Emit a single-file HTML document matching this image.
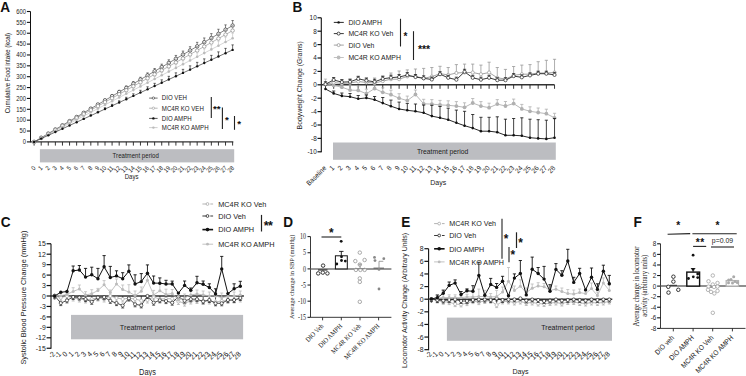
<!DOCTYPE html>
<html><head><meta charset="utf-8"><title>Figure</title>
<style>
html,body{margin:0;padding:0;background:#fff;}
body{width:746px;height:376px;overflow:hidden;font-family:"Liberation Sans", sans-serif;}
svg{display:block;}
</style></head><body>
<svg width="746" height="376" viewBox="0 0 746 376">
<rect x="0" y="0" width="746" height="376" fill="#fff"/>
<text transform="translate(0.3 11.7) scale(0.9259 1)" font-size="14.69" text-anchor="start" font-family="'Liberation Sans', sans-serif" font-weight="bold" fill="#111" dy="0">A</text>
<line x1="30.5" y1="11.5" x2="30.5" y2="142.4" stroke="#111" stroke-width="1"/>
<line x1="26.9" y1="141.9" x2="30.5" y2="141.9" stroke="#111" stroke-width="1.1"/>
<text transform="translate(25.9 141.9) scale(0.9091 1)" font-size="6.38" text-anchor="end" font-family="'Liberation Sans', sans-serif" fill="#222" dy="0.35em">0</text>
<line x1="26.9" y1="131.03" x2="30.5" y2="131.03" stroke="#111" stroke-width="1.1"/>
<text transform="translate(25.9 131.03) scale(0.9091 1)" font-size="6.38" text-anchor="end" font-family="'Liberation Sans', sans-serif" fill="#222" dy="0.35em">50</text>
<line x1="26.9" y1="120.17" x2="30.5" y2="120.17" stroke="#111" stroke-width="1.1"/>
<text transform="translate(25.9 120.17) scale(0.9091 1)" font-size="6.38" text-anchor="end" font-family="'Liberation Sans', sans-serif" fill="#222" dy="0.35em">100</text>
<line x1="26.9" y1="109.3" x2="30.5" y2="109.3" stroke="#111" stroke-width="1.1"/>
<text transform="translate(25.9 109.3) scale(0.9091 1)" font-size="6.38" text-anchor="end" font-family="'Liberation Sans', sans-serif" fill="#222" dy="0.35em">150</text>
<line x1="26.9" y1="98.43" x2="30.5" y2="98.43" stroke="#111" stroke-width="1.1"/>
<text transform="translate(25.9 98.43) scale(0.9091 1)" font-size="6.38" text-anchor="end" font-family="'Liberation Sans', sans-serif" fill="#222" dy="0.35em">200</text>
<line x1="26.9" y1="87.57" x2="30.5" y2="87.57" stroke="#111" stroke-width="1.1"/>
<text transform="translate(25.9 87.57) scale(0.9091 1)" font-size="6.38" text-anchor="end" font-family="'Liberation Sans', sans-serif" fill="#222" dy="0.35em">250</text>
<line x1="26.9" y1="76.7" x2="30.5" y2="76.7" stroke="#111" stroke-width="1.1"/>
<text transform="translate(25.9 76.7) scale(0.9091 1)" font-size="6.38" text-anchor="end" font-family="'Liberation Sans', sans-serif" fill="#222" dy="0.35em">300</text>
<line x1="26.9" y1="65.83" x2="30.5" y2="65.83" stroke="#111" stroke-width="1.1"/>
<text transform="translate(25.9 65.83) scale(0.9091 1)" font-size="6.38" text-anchor="end" font-family="'Liberation Sans', sans-serif" fill="#222" dy="0.35em">350</text>
<line x1="26.9" y1="54.97" x2="30.5" y2="54.97" stroke="#111" stroke-width="1.1"/>
<text transform="translate(25.9 54.97) scale(0.9091 1)" font-size="6.38" text-anchor="end" font-family="'Liberation Sans', sans-serif" fill="#222" dy="0.35em">400</text>
<line x1="26.9" y1="44.1" x2="30.5" y2="44.1" stroke="#111" stroke-width="1.1"/>
<text transform="translate(25.9 44.1) scale(0.9091 1)" font-size="6.38" text-anchor="end" font-family="'Liberation Sans', sans-serif" fill="#222" dy="0.35em">450</text>
<line x1="26.9" y1="33.23" x2="30.5" y2="33.23" stroke="#111" stroke-width="1.1"/>
<text transform="translate(25.9 33.23) scale(0.9091 1)" font-size="6.38" text-anchor="end" font-family="'Liberation Sans', sans-serif" fill="#222" dy="0.35em">500</text>
<line x1="26.9" y1="22.37" x2="30.5" y2="22.37" stroke="#111" stroke-width="1.1"/>
<text transform="translate(25.9 22.37) scale(0.9091 1)" font-size="6.38" text-anchor="end" font-family="'Liberation Sans', sans-serif" fill="#222" dy="0.35em">550</text>
<line x1="26.9" y1="11.5" x2="30.5" y2="11.5" stroke="#111" stroke-width="1.1"/>
<text transform="translate(25.9 11.5) scale(0.9091 1)" font-size="6.38" text-anchor="end" font-family="'Liberation Sans', sans-serif" fill="#222" dy="0.35em">600</text>
<line x1="30.5" y1="141.9" x2="233.3" y2="141.9" stroke="#333" stroke-width="1.4"/>
<line x1="34.1" y1="141.9" x2="34.1" y2="145.6" stroke="#222" stroke-width="0.9"/>
<line x1="41.19" y1="141.9" x2="41.19" y2="145.6" stroke="#222" stroke-width="0.9"/>
<line x1="48.28" y1="141.9" x2="48.28" y2="145.6" stroke="#222" stroke-width="0.9"/>
<line x1="55.37" y1="141.9" x2="55.37" y2="145.6" stroke="#222" stroke-width="0.9"/>
<line x1="62.46" y1="141.9" x2="62.46" y2="145.6" stroke="#222" stroke-width="0.9"/>
<line x1="69.55" y1="141.9" x2="69.55" y2="145.6" stroke="#222" stroke-width="0.9"/>
<line x1="76.64" y1="141.9" x2="76.64" y2="145.6" stroke="#222" stroke-width="0.9"/>
<line x1="83.73" y1="141.9" x2="83.73" y2="145.6" stroke="#222" stroke-width="0.9"/>
<line x1="90.82" y1="141.9" x2="90.82" y2="145.6" stroke="#222" stroke-width="0.9"/>
<line x1="97.91" y1="141.9" x2="97.91" y2="145.6" stroke="#222" stroke-width="0.9"/>
<line x1="105" y1="141.9" x2="105" y2="145.6" stroke="#222" stroke-width="0.9"/>
<line x1="112.09" y1="141.9" x2="112.09" y2="145.6" stroke="#222" stroke-width="0.9"/>
<line x1="119.18" y1="141.9" x2="119.18" y2="145.6" stroke="#222" stroke-width="0.9"/>
<line x1="126.27" y1="141.9" x2="126.27" y2="145.6" stroke="#222" stroke-width="0.9"/>
<line x1="133.36" y1="141.9" x2="133.36" y2="145.6" stroke="#222" stroke-width="0.9"/>
<line x1="140.45" y1="141.9" x2="140.45" y2="145.6" stroke="#222" stroke-width="0.9"/>
<line x1="147.54" y1="141.9" x2="147.54" y2="145.6" stroke="#222" stroke-width="0.9"/>
<line x1="154.63" y1="141.9" x2="154.63" y2="145.6" stroke="#222" stroke-width="0.9"/>
<line x1="161.72" y1="141.9" x2="161.72" y2="145.6" stroke="#222" stroke-width="0.9"/>
<line x1="168.81" y1="141.9" x2="168.81" y2="145.6" stroke="#222" stroke-width="0.9"/>
<line x1="175.9" y1="141.9" x2="175.9" y2="145.6" stroke="#222" stroke-width="0.9"/>
<line x1="182.99" y1="141.9" x2="182.99" y2="145.6" stroke="#222" stroke-width="0.9"/>
<line x1="190.08" y1="141.9" x2="190.08" y2="145.6" stroke="#222" stroke-width="0.9"/>
<line x1="197.17" y1="141.9" x2="197.17" y2="145.6" stroke="#222" stroke-width="0.9"/>
<line x1="204.26" y1="141.9" x2="204.26" y2="145.6" stroke="#222" stroke-width="0.9"/>
<line x1="211.35" y1="141.9" x2="211.35" y2="145.6" stroke="#222" stroke-width="0.9"/>
<line x1="218.44" y1="141.9" x2="218.44" y2="145.6" stroke="#222" stroke-width="0.9"/>
<line x1="225.53" y1="141.9" x2="225.53" y2="145.6" stroke="#222" stroke-width="0.9"/>
<line x1="232.62" y1="141.9" x2="232.62" y2="145.6" stroke="#222" stroke-width="0.9"/>
<text transform="translate(36 168.4) rotate(-45) scale(0.9091 1)" font-size="6.38" text-anchor="end" font-family="'Liberation Sans', sans-serif" fill="#222" dy="0">0</text>
<text transform="translate(43.09 168.4) rotate(-45) scale(0.9091 1)" font-size="6.38" text-anchor="end" font-family="'Liberation Sans', sans-serif" fill="#222" dy="0">1</text>
<text transform="translate(50.18 168.4) rotate(-45) scale(0.9091 1)" font-size="6.38" text-anchor="end" font-family="'Liberation Sans', sans-serif" fill="#222" dy="0">2</text>
<text transform="translate(57.27 168.4) rotate(-45) scale(0.9091 1)" font-size="6.38" text-anchor="end" font-family="'Liberation Sans', sans-serif" fill="#222" dy="0">3</text>
<text transform="translate(64.36 168.4) rotate(-45) scale(0.9091 1)" font-size="6.38" text-anchor="end" font-family="'Liberation Sans', sans-serif" fill="#222" dy="0">4</text>
<text transform="translate(71.45 168.4) rotate(-45) scale(0.9091 1)" font-size="6.38" text-anchor="end" font-family="'Liberation Sans', sans-serif" fill="#222" dy="0">5</text>
<text transform="translate(78.54 168.4) rotate(-45) scale(0.9091 1)" font-size="6.38" text-anchor="end" font-family="'Liberation Sans', sans-serif" fill="#222" dy="0">6</text>
<text transform="translate(85.63 168.4) rotate(-45) scale(0.9091 1)" font-size="6.38" text-anchor="end" font-family="'Liberation Sans', sans-serif" fill="#222" dy="0">7</text>
<text transform="translate(92.72 168.4) rotate(-45) scale(0.9091 1)" font-size="6.38" text-anchor="end" font-family="'Liberation Sans', sans-serif" fill="#222" dy="0">8</text>
<text transform="translate(99.81 168.4) rotate(-45) scale(0.9091 1)" font-size="6.38" text-anchor="end" font-family="'Liberation Sans', sans-serif" fill="#222" dy="0">9</text>
<text transform="translate(106.9 168.4) rotate(-45) scale(0.9091 1)" font-size="6.38" text-anchor="end" font-family="'Liberation Sans', sans-serif" fill="#222" dy="0">10</text>
<text transform="translate(113.99 168.4) rotate(-45) scale(0.9091 1)" font-size="6.38" text-anchor="end" font-family="'Liberation Sans', sans-serif" fill="#222" dy="0">11</text>
<text transform="translate(121.08 168.4) rotate(-45) scale(0.9091 1)" font-size="6.38" text-anchor="end" font-family="'Liberation Sans', sans-serif" fill="#222" dy="0">12</text>
<text transform="translate(128.17 168.4) rotate(-45) scale(0.9091 1)" font-size="6.38" text-anchor="end" font-family="'Liberation Sans', sans-serif" fill="#222" dy="0">13</text>
<text transform="translate(135.26 168.4) rotate(-45) scale(0.9091 1)" font-size="6.38" text-anchor="end" font-family="'Liberation Sans', sans-serif" fill="#222" dy="0">14</text>
<text transform="translate(142.35 168.4) rotate(-45) scale(0.9091 1)" font-size="6.38" text-anchor="end" font-family="'Liberation Sans', sans-serif" fill="#222" dy="0">15</text>
<text transform="translate(149.44 168.4) rotate(-45) scale(0.9091 1)" font-size="6.38" text-anchor="end" font-family="'Liberation Sans', sans-serif" fill="#222" dy="0">16</text>
<text transform="translate(156.53 168.4) rotate(-45) scale(0.9091 1)" font-size="6.38" text-anchor="end" font-family="'Liberation Sans', sans-serif" fill="#222" dy="0">17</text>
<text transform="translate(163.62 168.4) rotate(-45) scale(0.9091 1)" font-size="6.38" text-anchor="end" font-family="'Liberation Sans', sans-serif" fill="#222" dy="0">18</text>
<text transform="translate(170.71 168.4) rotate(-45) scale(0.9091 1)" font-size="6.38" text-anchor="end" font-family="'Liberation Sans', sans-serif" fill="#222" dy="0">19</text>
<text transform="translate(177.8 168.4) rotate(-45) scale(0.9091 1)" font-size="6.38" text-anchor="end" font-family="'Liberation Sans', sans-serif" fill="#222" dy="0">20</text>
<text transform="translate(184.89 168.4) rotate(-45) scale(0.9091 1)" font-size="6.38" text-anchor="end" font-family="'Liberation Sans', sans-serif" fill="#222" dy="0">21</text>
<text transform="translate(191.98 168.4) rotate(-45) scale(0.9091 1)" font-size="6.38" text-anchor="end" font-family="'Liberation Sans', sans-serif" fill="#222" dy="0">22</text>
<text transform="translate(199.07 168.4) rotate(-45) scale(0.9091 1)" font-size="6.38" text-anchor="end" font-family="'Liberation Sans', sans-serif" fill="#222" dy="0">23</text>
<text transform="translate(206.16 168.4) rotate(-45) scale(0.9091 1)" font-size="6.38" text-anchor="end" font-family="'Liberation Sans', sans-serif" fill="#222" dy="0">24</text>
<text transform="translate(213.25 168.4) rotate(-45) scale(0.9091 1)" font-size="6.38" text-anchor="end" font-family="'Liberation Sans', sans-serif" fill="#222" dy="0">25</text>
<text transform="translate(220.34 168.4) rotate(-45) scale(0.9091 1)" font-size="6.38" text-anchor="end" font-family="'Liberation Sans', sans-serif" fill="#222" dy="0">26</text>
<text transform="translate(227.43 168.4) rotate(-45) scale(0.9091 1)" font-size="6.38" text-anchor="end" font-family="'Liberation Sans', sans-serif" fill="#222" dy="0">27</text>
<text transform="translate(234.52 168.4) rotate(-45) scale(0.9091 1)" font-size="6.38" text-anchor="end" font-family="'Liberation Sans', sans-serif" fill="#222" dy="0">28</text>
<text transform="translate(7.8 73.1) rotate(-90) scale(0.8696 1)" font-size="7.01" text-anchor="middle" font-family="'Liberation Sans', sans-serif" fill="#222" dy="0.35em">Cumulative Food intake (kcal)</text>
<rect x="39.9" y="149.2" width="194.3" height="13.2" fill="#bcbdc1" stroke="none" stroke-width="0"/>
<text transform="translate(135.7 155.7) scale(0.9091 1)" font-size="6.71" text-anchor="middle" font-family="'Liberation Sans', sans-serif" fill="#222" dy="0.35em">Treatment period</text>
<text transform="translate(131.6 177) scale(0.9091 1)" font-size="6.6" text-anchor="middle" font-family="'Liberation Sans', sans-serif" fill="#222" dy="0.35em">Days</text>
<line x1="83.73" y1="112.81" x2="83.73" y2="112.19" stroke="#333" stroke-width="0.6"/>
<line x1="82.53" y1="112.19" x2="84.93" y2="112.19" stroke="#333" stroke-width="0.6"/>
<line x1="90.82" y1="108.66" x2="90.82" y2="107.82" stroke="#333" stroke-width="0.6"/>
<line x1="89.62" y1="107.82" x2="92.02" y2="107.82" stroke="#333" stroke-width="0.6"/>
<line x1="97.91" y1="104.5" x2="97.91" y2="103.45" stroke="#333" stroke-width="0.6"/>
<line x1="96.71" y1="103.45" x2="99.11" y2="103.45" stroke="#333" stroke-width="0.6"/>
<line x1="105" y1="100.35" x2="105" y2="99.09" stroke="#333" stroke-width="0.6"/>
<line x1="103.8" y1="99.09" x2="106.2" y2="99.09" stroke="#333" stroke-width="0.6"/>
<line x1="112.09" y1="96.19" x2="112.09" y2="94.72" stroke="#333" stroke-width="0.6"/>
<line x1="110.89" y1="94.72" x2="113.29" y2="94.72" stroke="#333" stroke-width="0.6"/>
<line x1="119.18" y1="92.04" x2="119.18" y2="90.36" stroke="#333" stroke-width="0.6"/>
<line x1="117.98" y1="90.36" x2="120.38" y2="90.36" stroke="#333" stroke-width="0.6"/>
<line x1="126.27" y1="87.89" x2="126.27" y2="86" stroke="#333" stroke-width="0.6"/>
<line x1="125.07" y1="86" x2="127.47" y2="86" stroke="#333" stroke-width="0.6"/>
<line x1="133.36" y1="83.73" x2="133.36" y2="81.63" stroke="#333" stroke-width="0.6"/>
<line x1="132.16" y1="81.63" x2="134.56" y2="81.63" stroke="#333" stroke-width="0.6"/>
<line x1="140.45" y1="79.58" x2="140.45" y2="77.27" stroke="#333" stroke-width="0.6"/>
<line x1="139.25" y1="77.27" x2="141.65" y2="77.27" stroke="#333" stroke-width="0.6"/>
<line x1="147.54" y1="75.42" x2="147.54" y2="72.9" stroke="#333" stroke-width="0.6"/>
<line x1="146.34" y1="72.9" x2="148.74" y2="72.9" stroke="#333" stroke-width="0.6"/>
<line x1="154.63" y1="71.27" x2="154.63" y2="68.53" stroke="#333" stroke-width="0.6"/>
<line x1="153.43" y1="68.53" x2="155.83" y2="68.53" stroke="#333" stroke-width="0.6"/>
<line x1="161.72" y1="67.11" x2="161.72" y2="64.17" stroke="#333" stroke-width="0.6"/>
<line x1="160.52" y1="64.17" x2="162.92" y2="64.17" stroke="#333" stroke-width="0.6"/>
<line x1="168.81" y1="62.95" x2="168.81" y2="59.8" stroke="#333" stroke-width="0.6"/>
<line x1="167.61" y1="59.8" x2="170.01" y2="59.8" stroke="#333" stroke-width="0.6"/>
<line x1="175.9" y1="58.8" x2="175.9" y2="55.44" stroke="#333" stroke-width="0.6"/>
<line x1="174.7" y1="55.44" x2="177.1" y2="55.44" stroke="#333" stroke-width="0.6"/>
<line x1="182.99" y1="54.64" x2="182.99" y2="51.07" stroke="#333" stroke-width="0.6"/>
<line x1="181.79" y1="51.07" x2="184.19" y2="51.07" stroke="#333" stroke-width="0.6"/>
<line x1="190.08" y1="50.49" x2="190.08" y2="46.71" stroke="#333" stroke-width="0.6"/>
<line x1="188.88" y1="46.71" x2="191.28" y2="46.71" stroke="#333" stroke-width="0.6"/>
<line x1="197.17" y1="46.33" x2="197.17" y2="42.34" stroke="#333" stroke-width="0.6"/>
<line x1="195.97" y1="42.34" x2="198.37" y2="42.34" stroke="#333" stroke-width="0.6"/>
<line x1="204.26" y1="42.18" x2="204.26" y2="37.98" stroke="#333" stroke-width="0.6"/>
<line x1="203.06" y1="37.98" x2="205.46" y2="37.98" stroke="#333" stroke-width="0.6"/>
<line x1="211.35" y1="38.03" x2="211.35" y2="33.62" stroke="#333" stroke-width="0.6"/>
<line x1="210.15" y1="33.62" x2="212.55" y2="33.62" stroke="#333" stroke-width="0.6"/>
<line x1="218.44" y1="33.87" x2="218.44" y2="29.25" stroke="#333" stroke-width="0.6"/>
<line x1="217.24" y1="29.25" x2="219.64" y2="29.25" stroke="#333" stroke-width="0.6"/>
<line x1="225.53" y1="29.72" x2="225.53" y2="24.89" stroke="#333" stroke-width="0.6"/>
<line x1="224.33" y1="24.89" x2="226.73" y2="24.89" stroke="#333" stroke-width="0.6"/>
<line x1="232.62" y1="25.56" x2="232.62" y2="20.52" stroke="#333" stroke-width="0.6"/>
<line x1="231.42" y1="20.52" x2="233.82" y2="20.52" stroke="#333" stroke-width="0.6"/>
<polyline points="34.1,141.9 41.19,137.75 48.28,133.59 55.37,129.44 62.46,125.28 69.55,121.12 76.64,116.97 83.73,112.81 90.82,108.66 97.91,104.5 105,100.35 112.09,96.19 119.18,92.04 126.27,87.89 133.36,83.73 140.45,79.58 147.54,75.42 154.63,71.27 161.72,67.11 168.81,62.95 175.9,58.8 182.99,54.64 190.08,50.49 197.17,46.33 204.26,42.18 211.35,38.03 218.44,33.87 225.53,29.72 232.62,25.56" fill="none" stroke="#333" stroke-width="0.6" stroke-linejoin="round"/>
<circle cx="34.1" cy="141.9" r="1.75" fill="#fff" stroke="#333" stroke-width="0.7"/>
<circle cx="41.19" cy="137.75" r="1.75" fill="#fff" stroke="#333" stroke-width="0.7"/>
<circle cx="48.28" cy="133.59" r="1.75" fill="#fff" stroke="#333" stroke-width="0.7"/>
<circle cx="55.37" cy="129.44" r="1.75" fill="#fff" stroke="#333" stroke-width="0.7"/>
<circle cx="62.46" cy="125.28" r="1.75" fill="#fff" stroke="#333" stroke-width="0.7"/>
<circle cx="69.55" cy="121.12" r="1.75" fill="#fff" stroke="#333" stroke-width="0.7"/>
<circle cx="76.64" cy="116.97" r="1.75" fill="#fff" stroke="#333" stroke-width="0.7"/>
<circle cx="83.73" cy="112.81" r="1.75" fill="#fff" stroke="#333" stroke-width="0.7"/>
<circle cx="90.82" cy="108.66" r="1.75" fill="#fff" stroke="#333" stroke-width="0.7"/>
<circle cx="97.91" cy="104.5" r="1.75" fill="#fff" stroke="#333" stroke-width="0.7"/>
<circle cx="105" cy="100.35" r="1.75" fill="#fff" stroke="#333" stroke-width="0.7"/>
<circle cx="112.09" cy="96.19" r="1.75" fill="#fff" stroke="#333" stroke-width="0.7"/>
<circle cx="119.18" cy="92.04" r="1.75" fill="#fff" stroke="#333" stroke-width="0.7"/>
<circle cx="126.27" cy="87.89" r="1.75" fill="#fff" stroke="#333" stroke-width="0.7"/>
<circle cx="133.36" cy="83.73" r="1.75" fill="#fff" stroke="#333" stroke-width="0.7"/>
<circle cx="140.45" cy="79.58" r="1.75" fill="#fff" stroke="#333" stroke-width="0.7"/>
<circle cx="147.54" cy="75.42" r="1.75" fill="#fff" stroke="#333" stroke-width="0.7"/>
<circle cx="154.63" cy="71.27" r="1.75" fill="#fff" stroke="#333" stroke-width="0.7"/>
<circle cx="161.72" cy="67.11" r="1.75" fill="#fff" stroke="#333" stroke-width="0.7"/>
<circle cx="168.81" cy="62.95" r="1.75" fill="#fff" stroke="#333" stroke-width="0.7"/>
<circle cx="175.9" cy="58.8" r="1.75" fill="#fff" stroke="#333" stroke-width="0.7"/>
<circle cx="182.99" cy="54.64" r="1.75" fill="#fff" stroke="#333" stroke-width="0.7"/>
<circle cx="190.08" cy="50.49" r="1.75" fill="#fff" stroke="#333" stroke-width="0.7"/>
<circle cx="197.17" cy="46.33" r="1.75" fill="#fff" stroke="#333" stroke-width="0.7"/>
<circle cx="204.26" cy="42.18" r="1.75" fill="#fff" stroke="#333" stroke-width="0.7"/>
<circle cx="211.35" cy="38.03" r="1.75" fill="#fff" stroke="#333" stroke-width="0.7"/>
<circle cx="218.44" cy="33.87" r="1.75" fill="#fff" stroke="#333" stroke-width="0.7"/>
<circle cx="225.53" cy="29.72" r="1.75" fill="#fff" stroke="#333" stroke-width="0.7"/>
<circle cx="232.62" cy="25.56" r="1.75" fill="#fff" stroke="#333" stroke-width="0.7"/>
<line x1="83.73" y1="114.08" x2="83.73" y2="113.45" stroke="#888" stroke-width="0.6"/>
<line x1="82.53" y1="113.45" x2="84.93" y2="113.45" stroke="#888" stroke-width="0.6"/>
<line x1="90.82" y1="110.1" x2="90.82" y2="109.26" stroke="#888" stroke-width="0.6"/>
<line x1="89.62" y1="109.26" x2="92.02" y2="109.26" stroke="#888" stroke-width="0.6"/>
<line x1="97.91" y1="106.12" x2="97.91" y2="105.08" stroke="#888" stroke-width="0.6"/>
<line x1="96.71" y1="105.08" x2="99.11" y2="105.08" stroke="#888" stroke-width="0.6"/>
<line x1="105" y1="102.15" x2="105" y2="100.89" stroke="#888" stroke-width="0.6"/>
<line x1="103.8" y1="100.89" x2="106.2" y2="100.89" stroke="#888" stroke-width="0.6"/>
<line x1="112.09" y1="98.18" x2="112.09" y2="96.71" stroke="#888" stroke-width="0.6"/>
<line x1="110.89" y1="96.71" x2="113.29" y2="96.71" stroke="#888" stroke-width="0.6"/>
<line x1="119.18" y1="94.2" x2="119.18" y2="92.52" stroke="#888" stroke-width="0.6"/>
<line x1="117.98" y1="92.52" x2="120.38" y2="92.52" stroke="#888" stroke-width="0.6"/>
<line x1="126.27" y1="90.22" x2="126.27" y2="88.33" stroke="#888" stroke-width="0.6"/>
<line x1="125.07" y1="88.33" x2="127.47" y2="88.33" stroke="#888" stroke-width="0.6"/>
<line x1="133.36" y1="86.25" x2="133.36" y2="84.15" stroke="#888" stroke-width="0.6"/>
<line x1="132.16" y1="84.15" x2="134.56" y2="84.15" stroke="#888" stroke-width="0.6"/>
<line x1="140.45" y1="82.28" x2="140.45" y2="79.97" stroke="#888" stroke-width="0.6"/>
<line x1="139.25" y1="79.97" x2="141.65" y2="79.97" stroke="#888" stroke-width="0.6"/>
<line x1="147.54" y1="78.3" x2="147.54" y2="75.78" stroke="#888" stroke-width="0.6"/>
<line x1="146.34" y1="75.78" x2="148.74" y2="75.78" stroke="#888" stroke-width="0.6"/>
<line x1="154.63" y1="74.33" x2="154.63" y2="71.59" stroke="#888" stroke-width="0.6"/>
<line x1="153.43" y1="71.59" x2="155.83" y2="71.59" stroke="#888" stroke-width="0.6"/>
<line x1="161.72" y1="70.35" x2="161.72" y2="67.41" stroke="#888" stroke-width="0.6"/>
<line x1="160.52" y1="67.41" x2="162.92" y2="67.41" stroke="#888" stroke-width="0.6"/>
<line x1="168.81" y1="66.38" x2="168.81" y2="63.23" stroke="#888" stroke-width="0.6"/>
<line x1="167.61" y1="63.23" x2="170.01" y2="63.23" stroke="#888" stroke-width="0.6"/>
<line x1="175.9" y1="62.4" x2="175.9" y2="59.04" stroke="#888" stroke-width="0.6"/>
<line x1="174.7" y1="59.04" x2="177.1" y2="59.04" stroke="#888" stroke-width="0.6"/>
<line x1="182.99" y1="58.42" x2="182.99" y2="54.85" stroke="#888" stroke-width="0.6"/>
<line x1="181.79" y1="54.85" x2="184.19" y2="54.85" stroke="#888" stroke-width="0.6"/>
<line x1="190.08" y1="54.45" x2="190.08" y2="50.67" stroke="#888" stroke-width="0.6"/>
<line x1="188.88" y1="50.67" x2="191.28" y2="50.67" stroke="#888" stroke-width="0.6"/>
<line x1="197.17" y1="50.48" x2="197.17" y2="46.49" stroke="#888" stroke-width="0.6"/>
<line x1="195.97" y1="46.49" x2="198.37" y2="46.49" stroke="#888" stroke-width="0.6"/>
<line x1="204.26" y1="46.5" x2="204.26" y2="42.3" stroke="#888" stroke-width="0.6"/>
<line x1="203.06" y1="42.3" x2="205.46" y2="42.3" stroke="#888" stroke-width="0.6"/>
<line x1="211.35" y1="42.53" x2="211.35" y2="38.12" stroke="#888" stroke-width="0.6"/>
<line x1="210.15" y1="38.12" x2="212.55" y2="38.12" stroke="#888" stroke-width="0.6"/>
<line x1="218.44" y1="38.55" x2="218.44" y2="33.93" stroke="#888" stroke-width="0.6"/>
<line x1="217.24" y1="33.93" x2="219.64" y2="33.93" stroke="#888" stroke-width="0.6"/>
<line x1="225.53" y1="34.58" x2="225.53" y2="29.75" stroke="#888" stroke-width="0.6"/>
<line x1="224.33" y1="29.75" x2="226.73" y2="29.75" stroke="#888" stroke-width="0.6"/>
<line x1="232.62" y1="30.6" x2="232.62" y2="25.56" stroke="#888" stroke-width="0.6"/>
<line x1="231.42" y1="25.56" x2="233.82" y2="25.56" stroke="#888" stroke-width="0.6"/>
<polyline points="34.1,141.9 41.19,137.93 48.28,133.95 55.37,129.97 62.46,126 69.55,122.03 76.64,118.05 83.73,114.08 90.82,110.1 97.91,106.12 105,102.15 112.09,98.18 119.18,94.2 126.27,90.22 133.36,86.25 140.45,82.28 147.54,78.3 154.63,74.33 161.72,70.35 168.81,66.38 175.9,62.4 182.99,58.42 190.08,54.45 197.17,50.48 204.26,46.5 211.35,42.53 218.44,38.55 225.53,34.58 232.62,30.6" fill="none" stroke="#888" stroke-width="0.6" stroke-linejoin="round"/>
<circle cx="34.1" cy="141.9" r="1.75" fill="#fff" stroke="#888" stroke-width="0.7"/>
<circle cx="41.19" cy="137.93" r="1.75" fill="#fff" stroke="#888" stroke-width="0.7"/>
<circle cx="48.28" cy="133.95" r="1.75" fill="#fff" stroke="#888" stroke-width="0.7"/>
<circle cx="55.37" cy="129.97" r="1.75" fill="#fff" stroke="#888" stroke-width="0.7"/>
<circle cx="62.46" cy="126" r="1.75" fill="#fff" stroke="#888" stroke-width="0.7"/>
<circle cx="69.55" cy="122.03" r="1.75" fill="#fff" stroke="#888" stroke-width="0.7"/>
<circle cx="76.64" cy="118.05" r="1.75" fill="#fff" stroke="#888" stroke-width="0.7"/>
<circle cx="83.73" cy="114.08" r="1.75" fill="#fff" stroke="#888" stroke-width="0.7"/>
<circle cx="90.82" cy="110.1" r="1.75" fill="#fff" stroke="#888" stroke-width="0.7"/>
<circle cx="97.91" cy="106.12" r="1.75" fill="#fff" stroke="#888" stroke-width="0.7"/>
<circle cx="105" cy="102.15" r="1.75" fill="#fff" stroke="#888" stroke-width="0.7"/>
<circle cx="112.09" cy="98.18" r="1.75" fill="#fff" stroke="#888" stroke-width="0.7"/>
<circle cx="119.18" cy="94.2" r="1.75" fill="#fff" stroke="#888" stroke-width="0.7"/>
<circle cx="126.27" cy="90.22" r="1.75" fill="#fff" stroke="#888" stroke-width="0.7"/>
<circle cx="133.36" cy="86.25" r="1.75" fill="#fff" stroke="#888" stroke-width="0.7"/>
<circle cx="140.45" cy="82.28" r="1.75" fill="#fff" stroke="#888" stroke-width="0.7"/>
<circle cx="147.54" cy="78.3" r="1.75" fill="#fff" stroke="#888" stroke-width="0.7"/>
<circle cx="154.63" cy="74.33" r="1.75" fill="#fff" stroke="#888" stroke-width="0.7"/>
<circle cx="161.72" cy="70.35" r="1.75" fill="#fff" stroke="#888" stroke-width="0.7"/>
<circle cx="168.81" cy="66.38" r="1.75" fill="#fff" stroke="#888" stroke-width="0.7"/>
<circle cx="175.9" cy="62.4" r="1.75" fill="#fff" stroke="#888" stroke-width="0.7"/>
<circle cx="182.99" cy="58.42" r="1.75" fill="#fff" stroke="#888" stroke-width="0.7"/>
<circle cx="190.08" cy="54.45" r="1.75" fill="#fff" stroke="#888" stroke-width="0.7"/>
<circle cx="197.17" cy="50.48" r="1.75" fill="#fff" stroke="#888" stroke-width="0.7"/>
<circle cx="204.26" cy="46.5" r="1.75" fill="#fff" stroke="#888" stroke-width="0.7"/>
<circle cx="211.35" cy="42.53" r="1.75" fill="#fff" stroke="#888" stroke-width="0.7"/>
<circle cx="218.44" cy="38.55" r="1.75" fill="#fff" stroke="#888" stroke-width="0.7"/>
<circle cx="225.53" cy="34.58" r="1.75" fill="#fff" stroke="#888" stroke-width="0.7"/>
<circle cx="232.62" cy="30.6" r="1.75" fill="#fff" stroke="#888" stroke-width="0.7"/>
<line x1="83.73" y1="116" x2="83.73" y2="115.37" stroke="#bbb" stroke-width="0.6"/>
<line x1="82.53" y1="115.37" x2="84.93" y2="115.37" stroke="#bbb" stroke-width="0.6"/>
<line x1="90.82" y1="112.3" x2="90.82" y2="111.46" stroke="#bbb" stroke-width="0.6"/>
<line x1="89.62" y1="111.46" x2="92.02" y2="111.46" stroke="#bbb" stroke-width="0.6"/>
<line x1="97.91" y1="108.6" x2="97.91" y2="107.55" stroke="#bbb" stroke-width="0.6"/>
<line x1="96.71" y1="107.55" x2="99.11" y2="107.55" stroke="#bbb" stroke-width="0.6"/>
<line x1="105" y1="104.9" x2="105" y2="103.64" stroke="#bbb" stroke-width="0.6"/>
<line x1="103.8" y1="103.64" x2="106.2" y2="103.64" stroke="#bbb" stroke-width="0.6"/>
<line x1="112.09" y1="101.2" x2="112.09" y2="99.73" stroke="#bbb" stroke-width="0.6"/>
<line x1="110.89" y1="99.73" x2="113.29" y2="99.73" stroke="#bbb" stroke-width="0.6"/>
<line x1="119.18" y1="97.5" x2="119.18" y2="95.82" stroke="#bbb" stroke-width="0.6"/>
<line x1="117.98" y1="95.82" x2="120.38" y2="95.82" stroke="#bbb" stroke-width="0.6"/>
<line x1="126.27" y1="93.8" x2="126.27" y2="91.91" stroke="#bbb" stroke-width="0.6"/>
<line x1="125.07" y1="91.91" x2="127.47" y2="91.91" stroke="#bbb" stroke-width="0.6"/>
<line x1="133.36" y1="90.1" x2="133.36" y2="88" stroke="#bbb" stroke-width="0.6"/>
<line x1="132.16" y1="88" x2="134.56" y2="88" stroke="#bbb" stroke-width="0.6"/>
<line x1="140.45" y1="86.4" x2="140.45" y2="84.09" stroke="#bbb" stroke-width="0.6"/>
<line x1="139.25" y1="84.09" x2="141.65" y2="84.09" stroke="#bbb" stroke-width="0.6"/>
<line x1="147.54" y1="82.7" x2="147.54" y2="80.18" stroke="#bbb" stroke-width="0.6"/>
<line x1="146.34" y1="80.18" x2="148.74" y2="80.18" stroke="#bbb" stroke-width="0.6"/>
<line x1="154.63" y1="79" x2="154.63" y2="76.27" stroke="#bbb" stroke-width="0.6"/>
<line x1="153.43" y1="76.27" x2="155.83" y2="76.27" stroke="#bbb" stroke-width="0.6"/>
<line x1="161.72" y1="75.3" x2="161.72" y2="72.36" stroke="#bbb" stroke-width="0.6"/>
<line x1="160.52" y1="72.36" x2="162.92" y2="72.36" stroke="#bbb" stroke-width="0.6"/>
<line x1="168.81" y1="71.6" x2="168.81" y2="68.45" stroke="#bbb" stroke-width="0.6"/>
<line x1="167.61" y1="68.45" x2="170.01" y2="68.45" stroke="#bbb" stroke-width="0.6"/>
<line x1="175.9" y1="67.9" x2="175.9" y2="64.54" stroke="#bbb" stroke-width="0.6"/>
<line x1="174.7" y1="64.54" x2="177.1" y2="64.54" stroke="#bbb" stroke-width="0.6"/>
<line x1="182.99" y1="64.2" x2="182.99" y2="60.63" stroke="#bbb" stroke-width="0.6"/>
<line x1="181.79" y1="60.63" x2="184.19" y2="60.63" stroke="#bbb" stroke-width="0.6"/>
<line x1="190.08" y1="60.5" x2="190.08" y2="56.72" stroke="#bbb" stroke-width="0.6"/>
<line x1="188.88" y1="56.72" x2="191.28" y2="56.72" stroke="#bbb" stroke-width="0.6"/>
<line x1="197.17" y1="56.8" x2="197.17" y2="52.81" stroke="#bbb" stroke-width="0.6"/>
<line x1="195.97" y1="52.81" x2="198.37" y2="52.81" stroke="#bbb" stroke-width="0.6"/>
<line x1="204.26" y1="53.1" x2="204.26" y2="48.9" stroke="#bbb" stroke-width="0.6"/>
<line x1="203.06" y1="48.9" x2="205.46" y2="48.9" stroke="#bbb" stroke-width="0.6"/>
<line x1="211.35" y1="49.4" x2="211.35" y2="44.99" stroke="#bbb" stroke-width="0.6"/>
<line x1="210.15" y1="44.99" x2="212.55" y2="44.99" stroke="#bbb" stroke-width="0.6"/>
<line x1="218.44" y1="45.7" x2="218.44" y2="41.08" stroke="#bbb" stroke-width="0.6"/>
<line x1="217.24" y1="41.08" x2="219.64" y2="41.08" stroke="#bbb" stroke-width="0.6"/>
<line x1="225.53" y1="42" x2="225.53" y2="37.17" stroke="#bbb" stroke-width="0.6"/>
<line x1="224.33" y1="37.17" x2="226.73" y2="37.17" stroke="#bbb" stroke-width="0.6"/>
<line x1="232.62" y1="38.3" x2="232.62" y2="33.26" stroke="#bbb" stroke-width="0.6"/>
<line x1="231.42" y1="33.26" x2="233.82" y2="33.26" stroke="#bbb" stroke-width="0.6"/>
<polyline points="34.1,141.9 41.19,138.2 48.28,134.5 55.37,130.8 62.46,127.1 69.55,123.4 76.64,119.7 83.73,116 90.82,112.3 97.91,108.6 105,104.9 112.09,101.2 119.18,97.5 126.27,93.8 133.36,90.1 140.45,86.4 147.54,82.7 154.63,79 161.72,75.3 168.81,71.6 175.9,67.9 182.99,64.2 190.08,60.5 197.17,56.8 204.26,53.1 211.35,49.4 218.44,45.7 225.53,42 232.62,38.3" fill="none" stroke="#bbb" stroke-width="0.6" stroke-linejoin="round"/>
<circle cx="34.1" cy="141.9" r="1.3" fill="#bbb"/>
<circle cx="41.19" cy="138.2" r="1.3" fill="#bbb"/>
<circle cx="48.28" cy="134.5" r="1.3" fill="#bbb"/>
<circle cx="55.37" cy="130.8" r="1.3" fill="#bbb"/>
<circle cx="62.46" cy="127.1" r="1.3" fill="#bbb"/>
<circle cx="69.55" cy="123.4" r="1.3" fill="#bbb"/>
<circle cx="76.64" cy="119.7" r="1.3" fill="#bbb"/>
<circle cx="83.73" cy="116" r="1.3" fill="#bbb"/>
<circle cx="90.82" cy="112.3" r="1.3" fill="#bbb"/>
<circle cx="97.91" cy="108.6" r="1.3" fill="#bbb"/>
<circle cx="105" cy="104.9" r="1.3" fill="#bbb"/>
<circle cx="112.09" cy="101.2" r="1.3" fill="#bbb"/>
<circle cx="119.18" cy="97.5" r="1.3" fill="#bbb"/>
<circle cx="126.27" cy="93.8" r="1.3" fill="#bbb"/>
<circle cx="133.36" cy="90.1" r="1.3" fill="#bbb"/>
<circle cx="140.45" cy="86.4" r="1.3" fill="#bbb"/>
<circle cx="147.54" cy="82.7" r="1.3" fill="#bbb"/>
<circle cx="154.63" cy="79" r="1.3" fill="#bbb"/>
<circle cx="161.72" cy="75.3" r="1.3" fill="#bbb"/>
<circle cx="168.81" cy="71.6" r="1.3" fill="#bbb"/>
<circle cx="175.9" cy="67.9" r="1.3" fill="#bbb"/>
<circle cx="182.99" cy="64.2" r="1.3" fill="#bbb"/>
<circle cx="190.08" cy="60.5" r="1.3" fill="#bbb"/>
<circle cx="197.17" cy="56.8" r="1.3" fill="#bbb"/>
<circle cx="204.26" cy="53.1" r="1.3" fill="#bbb"/>
<circle cx="211.35" cy="49.4" r="1.3" fill="#bbb"/>
<circle cx="218.44" cy="45.7" r="1.3" fill="#bbb"/>
<circle cx="225.53" cy="42" r="1.3" fill="#bbb"/>
<circle cx="232.62" cy="38.3" r="1.3" fill="#bbb"/>
<line x1="83.73" y1="118.91" x2="83.73" y2="118.28" stroke="#111" stroke-width="0.6"/>
<line x1="82.53" y1="118.28" x2="84.93" y2="118.28" stroke="#111" stroke-width="0.6"/>
<line x1="90.82" y1="115.62" x2="90.82" y2="114.78" stroke="#111" stroke-width="0.6"/>
<line x1="89.62" y1="114.78" x2="92.02" y2="114.78" stroke="#111" stroke-width="0.6"/>
<line x1="97.91" y1="112.34" x2="97.91" y2="111.29" stroke="#111" stroke-width="0.6"/>
<line x1="96.71" y1="111.29" x2="99.11" y2="111.29" stroke="#111" stroke-width="0.6"/>
<line x1="105" y1="109.05" x2="105" y2="107.79" stroke="#111" stroke-width="0.6"/>
<line x1="103.8" y1="107.79" x2="106.2" y2="107.79" stroke="#111" stroke-width="0.6"/>
<line x1="112.09" y1="105.77" x2="112.09" y2="104.3" stroke="#111" stroke-width="0.6"/>
<line x1="110.89" y1="104.3" x2="113.29" y2="104.3" stroke="#111" stroke-width="0.6"/>
<line x1="119.18" y1="102.48" x2="119.18" y2="100.8" stroke="#111" stroke-width="0.6"/>
<line x1="117.98" y1="100.8" x2="120.38" y2="100.8" stroke="#111" stroke-width="0.6"/>
<line x1="126.27" y1="99.2" x2="126.27" y2="97.31" stroke="#111" stroke-width="0.6"/>
<line x1="125.07" y1="97.31" x2="127.47" y2="97.31" stroke="#111" stroke-width="0.6"/>
<line x1="133.36" y1="95.91" x2="133.36" y2="93.81" stroke="#111" stroke-width="0.6"/>
<line x1="132.16" y1="93.81" x2="134.56" y2="93.81" stroke="#111" stroke-width="0.6"/>
<line x1="140.45" y1="92.62" x2="140.45" y2="90.31" stroke="#111" stroke-width="0.6"/>
<line x1="139.25" y1="90.31" x2="141.65" y2="90.31" stroke="#111" stroke-width="0.6"/>
<line x1="147.54" y1="89.34" x2="147.54" y2="86.82" stroke="#111" stroke-width="0.6"/>
<line x1="146.34" y1="86.82" x2="148.74" y2="86.82" stroke="#111" stroke-width="0.6"/>
<line x1="154.63" y1="86.06" x2="154.63" y2="83.33" stroke="#111" stroke-width="0.6"/>
<line x1="153.43" y1="83.33" x2="155.83" y2="83.33" stroke="#111" stroke-width="0.6"/>
<line x1="161.72" y1="82.77" x2="161.72" y2="79.83" stroke="#111" stroke-width="0.6"/>
<line x1="160.52" y1="79.83" x2="162.92" y2="79.83" stroke="#111" stroke-width="0.6"/>
<line x1="168.81" y1="79.48" x2="168.81" y2="76.33" stroke="#111" stroke-width="0.6"/>
<line x1="167.61" y1="76.33" x2="170.01" y2="76.33" stroke="#111" stroke-width="0.6"/>
<line x1="175.9" y1="76.2" x2="175.9" y2="72.84" stroke="#111" stroke-width="0.6"/>
<line x1="174.7" y1="72.84" x2="177.1" y2="72.84" stroke="#111" stroke-width="0.6"/>
<line x1="182.99" y1="72.92" x2="182.99" y2="69.35" stroke="#111" stroke-width="0.6"/>
<line x1="181.79" y1="69.35" x2="184.19" y2="69.35" stroke="#111" stroke-width="0.6"/>
<line x1="190.08" y1="69.63" x2="190.08" y2="65.85" stroke="#111" stroke-width="0.6"/>
<line x1="188.88" y1="65.85" x2="191.28" y2="65.85" stroke="#111" stroke-width="0.6"/>
<line x1="197.17" y1="66.34" x2="197.17" y2="62.35" stroke="#111" stroke-width="0.6"/>
<line x1="195.97" y1="62.35" x2="198.37" y2="62.35" stroke="#111" stroke-width="0.6"/>
<line x1="204.26" y1="63.06" x2="204.26" y2="58.86" stroke="#111" stroke-width="0.6"/>
<line x1="203.06" y1="58.86" x2="205.46" y2="58.86" stroke="#111" stroke-width="0.6"/>
<line x1="211.35" y1="59.78" x2="211.35" y2="55.37" stroke="#111" stroke-width="0.6"/>
<line x1="210.15" y1="55.37" x2="212.55" y2="55.37" stroke="#111" stroke-width="0.6"/>
<line x1="218.44" y1="56.49" x2="218.44" y2="51.87" stroke="#111" stroke-width="0.6"/>
<line x1="217.24" y1="51.87" x2="219.64" y2="51.87" stroke="#111" stroke-width="0.6"/>
<line x1="225.53" y1="53.2" x2="225.53" y2="48.38" stroke="#111" stroke-width="0.6"/>
<line x1="224.33" y1="48.38" x2="226.73" y2="48.38" stroke="#111" stroke-width="0.6"/>
<line x1="232.62" y1="49.92" x2="232.62" y2="44.88" stroke="#111" stroke-width="0.6"/>
<line x1="231.42" y1="44.88" x2="233.82" y2="44.88" stroke="#111" stroke-width="0.6"/>
<polyline points="34.1,141.9 41.19,138.62 48.28,135.33 55.37,132.05 62.46,128.76 69.55,125.48 76.64,122.19 83.73,118.91 90.82,115.62 97.91,112.34 105,109.05 112.09,105.77 119.18,102.48 126.27,99.2 133.36,95.91 140.45,92.62 147.54,89.34 154.63,86.06 161.72,82.77 168.81,79.48 175.9,76.2 182.99,72.92 190.08,69.63 197.17,66.34 204.26,63.06 211.35,59.78 218.44,56.49 225.53,53.2 232.62,49.92" fill="none" stroke="#111" stroke-width="0.6" stroke-linejoin="round"/>
<circle cx="34.1" cy="141.9" r="1.2" fill="#111"/>
<circle cx="41.19" cy="138.62" r="1.2" fill="#111"/>
<circle cx="48.28" cy="135.33" r="1.2" fill="#111"/>
<circle cx="55.37" cy="132.05" r="1.2" fill="#111"/>
<circle cx="62.46" cy="128.76" r="1.2" fill="#111"/>
<circle cx="69.55" cy="125.48" r="1.2" fill="#111"/>
<circle cx="76.64" cy="122.19" r="1.2" fill="#111"/>
<circle cx="83.73" cy="118.91" r="1.2" fill="#111"/>
<circle cx="90.82" cy="115.62" r="1.2" fill="#111"/>
<circle cx="97.91" cy="112.34" r="1.2" fill="#111"/>
<circle cx="105" cy="109.05" r="1.2" fill="#111"/>
<circle cx="112.09" cy="105.77" r="1.2" fill="#111"/>
<circle cx="119.18" cy="102.48" r="1.2" fill="#111"/>
<circle cx="126.27" cy="99.2" r="1.2" fill="#111"/>
<circle cx="133.36" cy="95.91" r="1.2" fill="#111"/>
<circle cx="140.45" cy="92.62" r="1.2" fill="#111"/>
<circle cx="147.54" cy="89.34" r="1.2" fill="#111"/>
<circle cx="154.63" cy="86.06" r="1.2" fill="#111"/>
<circle cx="161.72" cy="82.77" r="1.2" fill="#111"/>
<circle cx="168.81" cy="79.48" r="1.2" fill="#111"/>
<circle cx="175.9" cy="76.2" r="1.2" fill="#111"/>
<circle cx="182.99" cy="72.92" r="1.2" fill="#111"/>
<circle cx="190.08" cy="69.63" r="1.2" fill="#111"/>
<circle cx="197.17" cy="66.34" r="1.2" fill="#111"/>
<circle cx="204.26" cy="63.06" r="1.2" fill="#111"/>
<circle cx="211.35" cy="59.78" r="1.2" fill="#111"/>
<circle cx="218.44" cy="56.49" r="1.2" fill="#111"/>
<circle cx="225.53" cy="53.2" r="1.2" fill="#111"/>
<circle cx="232.62" cy="49.92" r="1.2" fill="#111"/>
<line x1="149.1" y1="98.1" x2="157.6" y2="98.1" stroke="#333" stroke-width="0.7"/>
<circle cx="153.4" cy="98.1" r="1.2" fill="#fff" stroke="#333" stroke-width="0.6"/>
<text transform="translate(161.8 98.1) scale(0.9091 1)" font-size="6.71" text-anchor="start" font-family="'Liberation Sans', sans-serif" fill="#222" dy="0.35em">DIO VEH</text>
<line x1="149.1" y1="108.2" x2="157.6" y2="108.2" stroke="#999" stroke-width="0.7"/>
<circle cx="153.4" cy="108.2" r="1.2" fill="#fff" stroke="#999" stroke-width="0.6"/>
<text transform="translate(161.8 108.2) scale(0.9091 1)" font-size="6.71" text-anchor="start" font-family="'Liberation Sans', sans-serif" fill="#222" dy="0.35em">MC4R KO VEH</text>
<line x1="149.1" y1="118.4" x2="157.6" y2="118.4" stroke="#111" stroke-width="0.7"/>
<circle cx="153.4" cy="118.4" r="1.2" fill="#111"/>
<text transform="translate(161.8 118.4) scale(0.9091 1)" font-size="6.71" text-anchor="start" font-family="'Liberation Sans', sans-serif" fill="#222" dy="0.35em">DIO AMPH</text>
<line x1="149.1" y1="127.6" x2="157.6" y2="127.6" stroke="#bbb" stroke-width="0.7"/>
<circle cx="153.4" cy="127.6" r="1.2" fill="#bbb"/>
<text transform="translate(161.8 127.6) scale(0.9091 1)" font-size="6.71" text-anchor="start" font-family="'Liberation Sans', sans-serif" fill="#222" dy="0.35em">MC4R KO AMPH</text>
<line x1="211.3" y1="97" x2="211.3" y2="118" stroke="#222" stroke-width="1.1"/>
<text x="215" y="112.47" font-size="9.75" font-weight="bold" text-anchor="middle" font-family="'Liberation Sans', sans-serif" fill="#111">*</text>
<text x="218.6" y="112.47" font-size="9.75" font-weight="bold" text-anchor="middle" font-family="'Liberation Sans', sans-serif" fill="#111">*</text>
<line x1="222.4" y1="107.5" x2="222.4" y2="128.9" stroke="#222" stroke-width="1.1"/>
<text x="227" y="123.37" font-size="9.75" font-weight="bold" text-anchor="middle" font-family="'Liberation Sans', sans-serif" fill="#111">*</text>
<line x1="234.5" y1="116" x2="234.5" y2="129.8" stroke="#222" stroke-width="1.1"/>
<text x="239.2" y="126.57" font-size="9.75" font-weight="bold" text-anchor="middle" font-family="'Liberation Sans', sans-serif" fill="#111">*</text>
<text transform="translate(292.5 12) scale(0.9259 1)" font-size="14.69" text-anchor="start" font-family="'Liberation Sans', sans-serif" font-weight="bold" fill="#111" dy="0">B</text>
<line x1="321.3" y1="17.8" x2="321.3" y2="152.3" stroke="#111" stroke-width="1.1"/>
<line x1="317.5" y1="151.8" x2="321.3" y2="151.8" stroke="#111" stroke-width="1.2"/>
<text transform="translate(316.7 151.8) scale(0.9091 1)" font-size="7.04" text-anchor="end" font-family="'Liberation Sans', sans-serif" fill="#222" dy="0.35em">-10</text>
<line x1="317.5" y1="138.4" x2="321.3" y2="138.4" stroke="#111" stroke-width="1.2"/>
<text transform="translate(316.7 138.4) scale(0.9091 1)" font-size="7.04" text-anchor="end" font-family="'Liberation Sans', sans-serif" fill="#222" dy="0.35em">-8</text>
<line x1="317.5" y1="125" x2="321.3" y2="125" stroke="#111" stroke-width="1.2"/>
<text transform="translate(316.7 125) scale(0.9091 1)" font-size="7.04" text-anchor="end" font-family="'Liberation Sans', sans-serif" fill="#222" dy="0.35em">-6</text>
<line x1="317.5" y1="111.6" x2="321.3" y2="111.6" stroke="#111" stroke-width="1.2"/>
<text transform="translate(316.7 111.6) scale(0.9091 1)" font-size="7.04" text-anchor="end" font-family="'Liberation Sans', sans-serif" fill="#222" dy="0.35em">-4</text>
<line x1="317.5" y1="98.2" x2="321.3" y2="98.2" stroke="#111" stroke-width="1.2"/>
<text transform="translate(316.7 98.2) scale(0.9091 1)" font-size="7.04" text-anchor="end" font-family="'Liberation Sans', sans-serif" fill="#222" dy="0.35em">-2</text>
<line x1="317.5" y1="84.8" x2="321.3" y2="84.8" stroke="#111" stroke-width="1.2"/>
<text transform="translate(316.7 84.8) scale(0.9091 1)" font-size="7.04" text-anchor="end" font-family="'Liberation Sans', sans-serif" fill="#222" dy="0.35em">0</text>
<line x1="317.5" y1="71.4" x2="321.3" y2="71.4" stroke="#111" stroke-width="1.2"/>
<text transform="translate(316.7 71.4) scale(0.9091 1)" font-size="7.04" text-anchor="end" font-family="'Liberation Sans', sans-serif" fill="#222" dy="0.35em">2</text>
<line x1="317.5" y1="58" x2="321.3" y2="58" stroke="#111" stroke-width="1.2"/>
<text transform="translate(316.7 58) scale(0.9091 1)" font-size="7.04" text-anchor="end" font-family="'Liberation Sans', sans-serif" fill="#222" dy="0.35em">4</text>
<line x1="317.5" y1="44.6" x2="321.3" y2="44.6" stroke="#111" stroke-width="1.2"/>
<text transform="translate(316.7 44.6) scale(0.9091 1)" font-size="7.04" text-anchor="end" font-family="'Liberation Sans', sans-serif" fill="#222" dy="0.35em">6</text>
<line x1="317.5" y1="31.2" x2="321.3" y2="31.2" stroke="#111" stroke-width="1.2"/>
<text transform="translate(316.7 31.2) scale(0.9091 1)" font-size="7.04" text-anchor="end" font-family="'Liberation Sans', sans-serif" fill="#222" dy="0.35em">8</text>
<line x1="317.5" y1="17.8" x2="321.3" y2="17.8" stroke="#111" stroke-width="1.2"/>
<text transform="translate(316.7 17.8) scale(0.9091 1)" font-size="7.04" text-anchor="end" font-family="'Liberation Sans', sans-serif" fill="#222" dy="0.35em">10</text>
<line x1="321.3" y1="84.8" x2="554.54" y2="84.8" stroke="#333" stroke-width="1.4"/>
<line x1="325.5" y1="84.8" x2="325.5" y2="88.8" stroke="#222" stroke-width="0.9"/>
<line x1="333.68" y1="84.8" x2="333.68" y2="88.8" stroke="#222" stroke-width="0.9"/>
<line x1="341.86" y1="84.8" x2="341.86" y2="88.8" stroke="#222" stroke-width="0.9"/>
<line x1="350.04" y1="84.8" x2="350.04" y2="88.8" stroke="#222" stroke-width="0.9"/>
<line x1="358.22" y1="84.8" x2="358.22" y2="88.8" stroke="#222" stroke-width="0.9"/>
<line x1="366.4" y1="84.8" x2="366.4" y2="88.8" stroke="#222" stroke-width="0.9"/>
<line x1="374.58" y1="84.8" x2="374.58" y2="88.8" stroke="#222" stroke-width="0.9"/>
<line x1="382.76" y1="84.8" x2="382.76" y2="88.8" stroke="#222" stroke-width="0.9"/>
<line x1="390.94" y1="84.8" x2="390.94" y2="88.8" stroke="#222" stroke-width="0.9"/>
<line x1="399.12" y1="84.8" x2="399.12" y2="88.8" stroke="#222" stroke-width="0.9"/>
<line x1="407.3" y1="84.8" x2="407.3" y2="88.8" stroke="#222" stroke-width="0.9"/>
<line x1="415.48" y1="84.8" x2="415.48" y2="88.8" stroke="#222" stroke-width="0.9"/>
<line x1="423.66" y1="84.8" x2="423.66" y2="88.8" stroke="#222" stroke-width="0.9"/>
<line x1="431.84" y1="84.8" x2="431.84" y2="88.8" stroke="#222" stroke-width="0.9"/>
<line x1="440.02" y1="84.8" x2="440.02" y2="88.8" stroke="#222" stroke-width="0.9"/>
<line x1="448.2" y1="84.8" x2="448.2" y2="88.8" stroke="#222" stroke-width="0.9"/>
<line x1="456.38" y1="84.8" x2="456.38" y2="88.8" stroke="#222" stroke-width="0.9"/>
<line x1="464.56" y1="84.8" x2="464.56" y2="88.8" stroke="#222" stroke-width="0.9"/>
<line x1="472.74" y1="84.8" x2="472.74" y2="88.8" stroke="#222" stroke-width="0.9"/>
<line x1="480.92" y1="84.8" x2="480.92" y2="88.8" stroke="#222" stroke-width="0.9"/>
<line x1="489.1" y1="84.8" x2="489.1" y2="88.8" stroke="#222" stroke-width="0.9"/>
<line x1="497.28" y1="84.8" x2="497.28" y2="88.8" stroke="#222" stroke-width="0.9"/>
<line x1="505.46" y1="84.8" x2="505.46" y2="88.8" stroke="#222" stroke-width="0.9"/>
<line x1="513.64" y1="84.8" x2="513.64" y2="88.8" stroke="#222" stroke-width="0.9"/>
<line x1="521.82" y1="84.8" x2="521.82" y2="88.8" stroke="#222" stroke-width="0.9"/>
<line x1="530" y1="84.8" x2="530" y2="88.8" stroke="#222" stroke-width="0.9"/>
<line x1="538.18" y1="84.8" x2="538.18" y2="88.8" stroke="#222" stroke-width="0.9"/>
<line x1="546.36" y1="84.8" x2="546.36" y2="88.8" stroke="#222" stroke-width="0.9"/>
<line x1="554.54" y1="84.8" x2="554.54" y2="88.8" stroke="#222" stroke-width="0.9"/>
<text transform="translate(326.7 168.6) rotate(-45) scale(0.9091 1)" font-size="7.04" text-anchor="end" font-family="'Liberation Sans', sans-serif" fill="#222" dy="0">Baseline</text>
<text transform="translate(334.88 168.6) rotate(-45) scale(0.9091 1)" font-size="7.04" text-anchor="end" font-family="'Liberation Sans', sans-serif" fill="#222" dy="0">1</text>
<text transform="translate(343.06 168.6) rotate(-45) scale(0.9091 1)" font-size="7.04" text-anchor="end" font-family="'Liberation Sans', sans-serif" fill="#222" dy="0">2</text>
<text transform="translate(351.24 168.6) rotate(-45) scale(0.9091 1)" font-size="7.04" text-anchor="end" font-family="'Liberation Sans', sans-serif" fill="#222" dy="0">3</text>
<text transform="translate(359.42 168.6) rotate(-45) scale(0.9091 1)" font-size="7.04" text-anchor="end" font-family="'Liberation Sans', sans-serif" fill="#222" dy="0">4</text>
<text transform="translate(367.6 168.6) rotate(-45) scale(0.9091 1)" font-size="7.04" text-anchor="end" font-family="'Liberation Sans', sans-serif" fill="#222" dy="0">5</text>
<text transform="translate(375.78 168.6) rotate(-45) scale(0.9091 1)" font-size="7.04" text-anchor="end" font-family="'Liberation Sans', sans-serif" fill="#222" dy="0">6</text>
<text transform="translate(383.96 168.6) rotate(-45) scale(0.9091 1)" font-size="7.04" text-anchor="end" font-family="'Liberation Sans', sans-serif" fill="#222" dy="0">7</text>
<text transform="translate(392.14 168.6) rotate(-45) scale(0.9091 1)" font-size="7.04" text-anchor="end" font-family="'Liberation Sans', sans-serif" fill="#222" dy="0">8</text>
<text transform="translate(400.32 168.6) rotate(-45) scale(0.9091 1)" font-size="7.04" text-anchor="end" font-family="'Liberation Sans', sans-serif" fill="#222" dy="0">9</text>
<text transform="translate(408.5 168.6) rotate(-45) scale(0.9091 1)" font-size="7.04" text-anchor="end" font-family="'Liberation Sans', sans-serif" fill="#222" dy="0">10</text>
<text transform="translate(416.68 168.6) rotate(-45) scale(0.9091 1)" font-size="7.04" text-anchor="end" font-family="'Liberation Sans', sans-serif" fill="#222" dy="0">11</text>
<text transform="translate(424.86 168.6) rotate(-45) scale(0.9091 1)" font-size="7.04" text-anchor="end" font-family="'Liberation Sans', sans-serif" fill="#222" dy="0">12</text>
<text transform="translate(433.04 168.6) rotate(-45) scale(0.9091 1)" font-size="7.04" text-anchor="end" font-family="'Liberation Sans', sans-serif" fill="#222" dy="0">13</text>
<text transform="translate(441.22 168.6) rotate(-45) scale(0.9091 1)" font-size="7.04" text-anchor="end" font-family="'Liberation Sans', sans-serif" fill="#222" dy="0">14</text>
<text transform="translate(449.4 168.6) rotate(-45) scale(0.9091 1)" font-size="7.04" text-anchor="end" font-family="'Liberation Sans', sans-serif" fill="#222" dy="0">15</text>
<text transform="translate(457.58 168.6) rotate(-45) scale(0.9091 1)" font-size="7.04" text-anchor="end" font-family="'Liberation Sans', sans-serif" fill="#222" dy="0">16</text>
<text transform="translate(465.76 168.6) rotate(-45) scale(0.9091 1)" font-size="7.04" text-anchor="end" font-family="'Liberation Sans', sans-serif" fill="#222" dy="0">17</text>
<text transform="translate(473.94 168.6) rotate(-45) scale(0.9091 1)" font-size="7.04" text-anchor="end" font-family="'Liberation Sans', sans-serif" fill="#222" dy="0">18</text>
<text transform="translate(482.12 168.6) rotate(-45) scale(0.9091 1)" font-size="7.04" text-anchor="end" font-family="'Liberation Sans', sans-serif" fill="#222" dy="0">19</text>
<text transform="translate(490.3 168.6) rotate(-45) scale(0.9091 1)" font-size="7.04" text-anchor="end" font-family="'Liberation Sans', sans-serif" fill="#222" dy="0">20</text>
<text transform="translate(498.48 168.6) rotate(-45) scale(0.9091 1)" font-size="7.04" text-anchor="end" font-family="'Liberation Sans', sans-serif" fill="#222" dy="0">21</text>
<text transform="translate(506.66 168.6) rotate(-45) scale(0.9091 1)" font-size="7.04" text-anchor="end" font-family="'Liberation Sans', sans-serif" fill="#222" dy="0">22</text>
<text transform="translate(514.84 168.6) rotate(-45) scale(0.9091 1)" font-size="7.04" text-anchor="end" font-family="'Liberation Sans', sans-serif" fill="#222" dy="0">23</text>
<text transform="translate(523.02 168.6) rotate(-45) scale(0.9091 1)" font-size="7.04" text-anchor="end" font-family="'Liberation Sans', sans-serif" fill="#222" dy="0">24</text>
<text transform="translate(531.2 168.6) rotate(-45) scale(0.9091 1)" font-size="7.04" text-anchor="end" font-family="'Liberation Sans', sans-serif" fill="#222" dy="0">25</text>
<text transform="translate(539.38 168.6) rotate(-45) scale(0.9091 1)" font-size="7.04" text-anchor="end" font-family="'Liberation Sans', sans-serif" fill="#222" dy="0">26</text>
<text transform="translate(547.56 168.6) rotate(-45) scale(0.9091 1)" font-size="7.04" text-anchor="end" font-family="'Liberation Sans', sans-serif" fill="#222" dy="0">27</text>
<text transform="translate(555.74 168.6) rotate(-45) scale(0.9091 1)" font-size="7.04" text-anchor="end" font-family="'Liberation Sans', sans-serif" fill="#222" dy="0">28</text>
<text transform="translate(299.4 85.3) rotate(-90) scale(0.9091 1)" font-size="7.54" text-anchor="middle" font-family="'Liberation Sans', sans-serif" fill="#222" dy="0.35em">Bodyweight Change (Grams)</text>
<rect x="333" y="142.5" width="222.8" height="17.3" fill="#bcbdc1" stroke="none" stroke-width="0"/>
<text transform="translate(442.6 151.3) scale(0.9091 1)" font-size="7.48" text-anchor="middle" font-family="'Liberation Sans', sans-serif" fill="#222" dy="0.35em">Treatment period</text>
<text transform="translate(438.2 182) scale(0.9091 1)" font-size="7.7" text-anchor="middle" font-family="'Liberation Sans', sans-serif" fill="#222" dy="0.35em">Days</text>
<line x1="325.5" y1="83.6" x2="325.5" y2="79.1" stroke="#b0b0b0" stroke-width="0.8"/>
<line x1="323.9" y1="79.1" x2="327.1" y2="79.1" stroke="#b0b0b0" stroke-width="0.8"/>
<line x1="333.68" y1="85.4" x2="333.68" y2="80.9" stroke="#b0b0b0" stroke-width="0.8"/>
<line x1="332.08" y1="80.9" x2="335.28" y2="80.9" stroke="#b0b0b0" stroke-width="0.8"/>
<line x1="341.86" y1="87.2" x2="341.86" y2="82.7" stroke="#b0b0b0" stroke-width="0.8"/>
<line x1="340.26" y1="82.7" x2="343.46" y2="82.7" stroke="#b0b0b0" stroke-width="0.8"/>
<line x1="350.04" y1="90.1" x2="350.04" y2="85.6" stroke="#b0b0b0" stroke-width="0.8"/>
<line x1="348.44" y1="85.6" x2="351.64" y2="85.6" stroke="#b0b0b0" stroke-width="0.8"/>
<line x1="358.22" y1="90.4" x2="358.22" y2="85.9" stroke="#b0b0b0" stroke-width="0.8"/>
<line x1="356.62" y1="85.9" x2="359.82" y2="85.9" stroke="#b0b0b0" stroke-width="0.8"/>
<line x1="366.4" y1="93.7" x2="366.4" y2="89.2" stroke="#b0b0b0" stroke-width="0.8"/>
<line x1="364.8" y1="89.2" x2="368" y2="89.2" stroke="#b0b0b0" stroke-width="0.8"/>
<line x1="374.58" y1="88.5" x2="374.58" y2="84" stroke="#b0b0b0" stroke-width="0.8"/>
<line x1="372.98" y1="84" x2="376.18" y2="84" stroke="#b0b0b0" stroke-width="0.8"/>
<line x1="382.76" y1="92.3" x2="382.76" y2="87.8" stroke="#b0b0b0" stroke-width="0.8"/>
<line x1="381.16" y1="87.8" x2="384.36" y2="87.8" stroke="#b0b0b0" stroke-width="0.8"/>
<line x1="390.94" y1="94.7" x2="390.94" y2="90.2" stroke="#b0b0b0" stroke-width="0.8"/>
<line x1="389.34" y1="90.2" x2="392.54" y2="90.2" stroke="#b0b0b0" stroke-width="0.8"/>
<line x1="399.12" y1="98.2" x2="399.12" y2="93.7" stroke="#b0b0b0" stroke-width="0.8"/>
<line x1="397.52" y1="93.7" x2="400.72" y2="93.7" stroke="#b0b0b0" stroke-width="0.8"/>
<line x1="407.3" y1="100.6" x2="407.3" y2="96.1" stroke="#b0b0b0" stroke-width="0.8"/>
<line x1="405.7" y1="96.1" x2="408.9" y2="96.1" stroke="#b0b0b0" stroke-width="0.8"/>
<line x1="415.48" y1="94.5" x2="415.48" y2="90" stroke="#b0b0b0" stroke-width="0.8"/>
<line x1="413.88" y1="90" x2="417.08" y2="90" stroke="#b0b0b0" stroke-width="0.8"/>
<line x1="423.66" y1="103.8" x2="423.66" y2="99.3" stroke="#b0b0b0" stroke-width="0.8"/>
<line x1="422.06" y1="99.3" x2="425.26" y2="99.3" stroke="#b0b0b0" stroke-width="0.8"/>
<line x1="431.84" y1="104.1" x2="431.84" y2="99.6" stroke="#b0b0b0" stroke-width="0.8"/>
<line x1="430.24" y1="99.6" x2="433.44" y2="99.6" stroke="#b0b0b0" stroke-width="0.8"/>
<line x1="440.02" y1="104.9" x2="440.02" y2="100.4" stroke="#b0b0b0" stroke-width="0.8"/>
<line x1="438.42" y1="100.4" x2="441.62" y2="100.4" stroke="#b0b0b0" stroke-width="0.8"/>
<line x1="448.2" y1="105.3" x2="448.2" y2="100.8" stroke="#b0b0b0" stroke-width="0.8"/>
<line x1="446.6" y1="100.8" x2="449.8" y2="100.8" stroke="#b0b0b0" stroke-width="0.8"/>
<line x1="456.38" y1="106.1" x2="456.38" y2="101.6" stroke="#b0b0b0" stroke-width="0.8"/>
<line x1="454.78" y1="101.6" x2="457.98" y2="101.6" stroke="#b0b0b0" stroke-width="0.8"/>
<line x1="464.56" y1="107.3" x2="464.56" y2="102.8" stroke="#b0b0b0" stroke-width="0.8"/>
<line x1="462.96" y1="102.8" x2="466.16" y2="102.8" stroke="#b0b0b0" stroke-width="0.8"/>
<line x1="472.74" y1="103" x2="472.74" y2="98.5" stroke="#b0b0b0" stroke-width="0.8"/>
<line x1="471.14" y1="98.5" x2="474.34" y2="98.5" stroke="#b0b0b0" stroke-width="0.8"/>
<line x1="480.92" y1="106.1" x2="480.92" y2="101.6" stroke="#b0b0b0" stroke-width="0.8"/>
<line x1="479.32" y1="101.6" x2="482.52" y2="101.6" stroke="#b0b0b0" stroke-width="0.8"/>
<line x1="489.1" y1="107.7" x2="489.1" y2="103.2" stroke="#b0b0b0" stroke-width="0.8"/>
<line x1="487.5" y1="103.2" x2="490.7" y2="103.2" stroke="#b0b0b0" stroke-width="0.8"/>
<line x1="497.28" y1="104.1" x2="497.28" y2="99.6" stroke="#b0b0b0" stroke-width="0.8"/>
<line x1="495.68" y1="99.6" x2="498.88" y2="99.6" stroke="#b0b0b0" stroke-width="0.8"/>
<line x1="505.46" y1="106" x2="505.46" y2="101.5" stroke="#b0b0b0" stroke-width="0.8"/>
<line x1="503.86" y1="101.5" x2="507.06" y2="101.5" stroke="#b0b0b0" stroke-width="0.8"/>
<line x1="513.64" y1="103.6" x2="513.64" y2="99.1" stroke="#b0b0b0" stroke-width="0.8"/>
<line x1="512.04" y1="99.1" x2="515.24" y2="99.1" stroke="#b0b0b0" stroke-width="0.8"/>
<line x1="521.82" y1="108.9" x2="521.82" y2="104.4" stroke="#b0b0b0" stroke-width="0.8"/>
<line x1="520.22" y1="104.4" x2="523.42" y2="104.4" stroke="#b0b0b0" stroke-width="0.8"/>
<line x1="530" y1="111.3" x2="530" y2="106.8" stroke="#b0b0b0" stroke-width="0.8"/>
<line x1="528.4" y1="106.8" x2="531.6" y2="106.8" stroke="#b0b0b0" stroke-width="0.8"/>
<line x1="538.18" y1="112.5" x2="538.18" y2="108" stroke="#b0b0b0" stroke-width="0.8"/>
<line x1="536.58" y1="108" x2="539.78" y2="108" stroke="#b0b0b0" stroke-width="0.8"/>
<line x1="546.36" y1="113.7" x2="546.36" y2="109.2" stroke="#b0b0b0" stroke-width="0.8"/>
<line x1="544.76" y1="109.2" x2="547.96" y2="109.2" stroke="#b0b0b0" stroke-width="0.8"/>
<line x1="554.54" y1="117.8" x2="554.54" y2="113.3" stroke="#b0b0b0" stroke-width="0.8"/>
<line x1="552.94" y1="113.3" x2="556.14" y2="113.3" stroke="#b0b0b0" stroke-width="0.8"/>
<polyline points="325.5,83.6 333.68,85.4 341.86,87.2 350.04,90.1 358.22,90.4 366.4,93.7 374.58,88.5 382.76,92.3 390.94,94.7 399.12,98.2 407.3,100.6 415.48,94.5 423.66,103.8 431.84,104.1 440.02,104.9 448.2,105.3 456.38,106.1 464.56,107.3 472.74,103 480.92,106.1 489.1,107.7 497.28,104.1 505.46,106 513.64,103.6 521.82,108.9 530,111.3 538.18,112.5 546.36,113.7 554.54,117.8" fill="none" stroke="#b0b0b0" stroke-width="0.9" stroke-linejoin="round"/>
<circle cx="325.5" cy="83.6" r="1.9" fill="#b0b0b0"/>
<circle cx="333.68" cy="85.4" r="1.9" fill="#b0b0b0"/>
<circle cx="341.86" cy="87.2" r="1.9" fill="#b0b0b0"/>
<circle cx="350.04" cy="90.1" r="1.9" fill="#b0b0b0"/>
<circle cx="358.22" cy="90.4" r="1.9" fill="#b0b0b0"/>
<circle cx="366.4" cy="93.7" r="1.9" fill="#b0b0b0"/>
<circle cx="374.58" cy="88.5" r="1.9" fill="#b0b0b0"/>
<circle cx="382.76" cy="92.3" r="1.9" fill="#b0b0b0"/>
<circle cx="390.94" cy="94.7" r="1.9" fill="#b0b0b0"/>
<circle cx="399.12" cy="98.2" r="1.9" fill="#b0b0b0"/>
<circle cx="407.3" cy="100.6" r="1.9" fill="#b0b0b0"/>
<circle cx="415.48" cy="94.5" r="1.9" fill="#b0b0b0"/>
<circle cx="423.66" cy="103.8" r="1.9" fill="#b0b0b0"/>
<circle cx="431.84" cy="104.1" r="1.9" fill="#b0b0b0"/>
<circle cx="440.02" cy="104.9" r="1.9" fill="#b0b0b0"/>
<circle cx="448.2" cy="105.3" r="1.9" fill="#b0b0b0"/>
<circle cx="456.38" cy="106.1" r="1.9" fill="#b0b0b0"/>
<circle cx="464.56" cy="107.3" r="1.9" fill="#b0b0b0"/>
<circle cx="472.74" cy="103" r="1.9" fill="#b0b0b0"/>
<circle cx="480.92" cy="106.1" r="1.9" fill="#b0b0b0"/>
<circle cx="489.1" cy="107.7" r="1.9" fill="#b0b0b0"/>
<circle cx="497.28" cy="104.1" r="1.9" fill="#b0b0b0"/>
<circle cx="505.46" cy="106" r="1.9" fill="#b0b0b0"/>
<circle cx="513.64" cy="103.6" r="1.9" fill="#b0b0b0"/>
<circle cx="521.82" cy="108.9" r="1.9" fill="#b0b0b0"/>
<circle cx="530" cy="111.3" r="1.9" fill="#b0b0b0"/>
<circle cx="538.18" cy="112.5" r="1.9" fill="#b0b0b0"/>
<circle cx="546.36" cy="113.7" r="1.9" fill="#b0b0b0"/>
<circle cx="554.54" cy="117.8" r="1.9" fill="#b0b0b0"/>
<line x1="333.68" y1="93.4" x2="333.68" y2="91" stroke="#111" stroke-width="0.8"/>
<line x1="332.08" y1="91" x2="335.28" y2="91" stroke="#111" stroke-width="0.8"/>
<line x1="341.86" y1="95.9" x2="341.86" y2="93" stroke="#111" stroke-width="0.8"/>
<line x1="340.26" y1="93" x2="343.46" y2="93" stroke="#111" stroke-width="0.8"/>
<line x1="350.04" y1="96.7" x2="350.04" y2="93.5" stroke="#111" stroke-width="0.8"/>
<line x1="348.44" y1="93.5" x2="351.64" y2="93.5" stroke="#111" stroke-width="0.8"/>
<line x1="358.22" y1="98.8" x2="358.22" y2="95.5" stroke="#111" stroke-width="0.8"/>
<line x1="356.62" y1="95.5" x2="359.82" y2="95.5" stroke="#111" stroke-width="0.8"/>
<line x1="366.4" y1="97.9" x2="366.4" y2="95" stroke="#111" stroke-width="0.8"/>
<line x1="364.8" y1="95" x2="368" y2="95" stroke="#111" stroke-width="0.8"/>
<line x1="374.58" y1="99.7" x2="374.58" y2="96.5" stroke="#111" stroke-width="0.8"/>
<line x1="372.98" y1="96.5" x2="376.18" y2="96.5" stroke="#111" stroke-width="0.8"/>
<line x1="382.76" y1="103.1" x2="382.76" y2="97.5" stroke="#111" stroke-width="0.8"/>
<line x1="381.16" y1="97.5" x2="384.36" y2="97.5" stroke="#111" stroke-width="0.8"/>
<line x1="390.94" y1="106.2" x2="390.94" y2="100.1" stroke="#111" stroke-width="0.8"/>
<line x1="389.34" y1="100.1" x2="392.54" y2="100.1" stroke="#111" stroke-width="0.8"/>
<line x1="399.12" y1="109" x2="399.12" y2="102.1" stroke="#111" stroke-width="0.8"/>
<line x1="397.52" y1="102.1" x2="400.72" y2="102.1" stroke="#111" stroke-width="0.8"/>
<line x1="407.3" y1="110.3" x2="407.3" y2="103.4" stroke="#111" stroke-width="0.8"/>
<line x1="405.7" y1="103.4" x2="408.9" y2="103.4" stroke="#111" stroke-width="0.8"/>
<line x1="415.48" y1="111.3" x2="415.48" y2="104" stroke="#111" stroke-width="0.8"/>
<line x1="413.88" y1="104" x2="417.08" y2="104" stroke="#111" stroke-width="0.8"/>
<line x1="423.66" y1="112.8" x2="423.66" y2="105" stroke="#111" stroke-width="0.8"/>
<line x1="422.06" y1="105" x2="425.26" y2="105" stroke="#111" stroke-width="0.8"/>
<line x1="431.84" y1="116.1" x2="431.84" y2="105.3" stroke="#111" stroke-width="0.8"/>
<line x1="430.24" y1="105.3" x2="433.44" y2="105.3" stroke="#111" stroke-width="0.8"/>
<line x1="440.02" y1="117.8" x2="440.02" y2="106.5" stroke="#111" stroke-width="0.8"/>
<line x1="438.42" y1="106.5" x2="441.62" y2="106.5" stroke="#111" stroke-width="0.8"/>
<line x1="448.2" y1="119.7" x2="448.2" y2="108.2" stroke="#111" stroke-width="0.8"/>
<line x1="446.6" y1="108.2" x2="449.8" y2="108.2" stroke="#111" stroke-width="0.8"/>
<line x1="456.38" y1="122.8" x2="456.38" y2="110.1" stroke="#111" stroke-width="0.8"/>
<line x1="454.78" y1="110.1" x2="457.98" y2="110.1" stroke="#111" stroke-width="0.8"/>
<line x1="464.56" y1="125.7" x2="464.56" y2="111.3" stroke="#111" stroke-width="0.8"/>
<line x1="462.96" y1="111.3" x2="466.16" y2="111.3" stroke="#111" stroke-width="0.8"/>
<line x1="472.74" y1="128.1" x2="472.74" y2="114.5" stroke="#111" stroke-width="0.8"/>
<line x1="471.14" y1="114.5" x2="474.34" y2="114.5" stroke="#111" stroke-width="0.8"/>
<line x1="480.92" y1="131.2" x2="480.92" y2="117.3" stroke="#111" stroke-width="0.8"/>
<line x1="479.32" y1="117.3" x2="482.52" y2="117.3" stroke="#111" stroke-width="0.8"/>
<line x1="489.1" y1="131.2" x2="489.1" y2="117.3" stroke="#111" stroke-width="0.8"/>
<line x1="487.5" y1="117.3" x2="490.7" y2="117.3" stroke="#111" stroke-width="0.8"/>
<line x1="497.28" y1="132.2" x2="497.28" y2="116.8" stroke="#111" stroke-width="0.8"/>
<line x1="495.68" y1="116.8" x2="498.88" y2="116.8" stroke="#111" stroke-width="0.8"/>
<line x1="505.46" y1="135.3" x2="505.46" y2="119.2" stroke="#111" stroke-width="0.8"/>
<line x1="503.86" y1="119.2" x2="507.06" y2="119.2" stroke="#111" stroke-width="0.8"/>
<line x1="513.64" y1="135.3" x2="513.64" y2="118.5" stroke="#111" stroke-width="0.8"/>
<line x1="512.04" y1="118.5" x2="515.24" y2="118.5" stroke="#111" stroke-width="0.8"/>
<line x1="521.82" y1="135.8" x2="521.82" y2="117.8" stroke="#111" stroke-width="0.8"/>
<line x1="520.22" y1="117.8" x2="523.42" y2="117.8" stroke="#111" stroke-width="0.8"/>
<line x1="530" y1="137.7" x2="530" y2="119.2" stroke="#111" stroke-width="0.8"/>
<line x1="528.4" y1="119.2" x2="531.6" y2="119.2" stroke="#111" stroke-width="0.8"/>
<line x1="538.18" y1="138.4" x2="538.18" y2="119.7" stroke="#111" stroke-width="0.8"/>
<line x1="536.58" y1="119.7" x2="539.78" y2="119.7" stroke="#111" stroke-width="0.8"/>
<line x1="546.36" y1="138.9" x2="546.36" y2="120.2" stroke="#111" stroke-width="0.8"/>
<line x1="544.76" y1="120.2" x2="547.96" y2="120.2" stroke="#111" stroke-width="0.8"/>
<line x1="554.54" y1="137.7" x2="554.54" y2="118.5" stroke="#111" stroke-width="0.8"/>
<line x1="552.94" y1="118.5" x2="556.14" y2="118.5" stroke="#111" stroke-width="0.8"/>
<polyline points="325.5,89 333.68,93.4 341.86,95.9 350.04,96.7 358.22,98.8 366.4,97.9 374.58,99.7 382.76,103.1 390.94,106.2 399.12,109 407.3,110.3 415.48,111.3 423.66,112.8 431.84,116.1 440.02,117.8 448.2,119.7 456.38,122.8 464.56,125.7 472.74,128.1 480.92,131.2 489.1,131.2 497.28,132.2 505.46,135.3 513.64,135.3 521.82,135.8 530,137.7 538.18,138.4 546.36,138.9 554.54,137.7" fill="none" stroke="#111" stroke-width="0.9" stroke-linejoin="round"/>
<circle cx="325.5" cy="89" r="1.3" fill="#111"/>
<circle cx="333.68" cy="93.4" r="1.3" fill="#111"/>
<circle cx="341.86" cy="95.9" r="1.3" fill="#111"/>
<circle cx="350.04" cy="96.7" r="1.3" fill="#111"/>
<circle cx="358.22" cy="98.8" r="1.3" fill="#111"/>
<circle cx="366.4" cy="97.9" r="1.3" fill="#111"/>
<circle cx="374.58" cy="99.7" r="1.3" fill="#111"/>
<circle cx="382.76" cy="103.1" r="1.3" fill="#111"/>
<circle cx="390.94" cy="106.2" r="1.3" fill="#111"/>
<circle cx="399.12" cy="109" r="1.3" fill="#111"/>
<circle cx="407.3" cy="110.3" r="1.3" fill="#111"/>
<circle cx="415.48" cy="111.3" r="1.3" fill="#111"/>
<circle cx="423.66" cy="112.8" r="1.3" fill="#111"/>
<circle cx="431.84" cy="116.1" r="1.3" fill="#111"/>
<circle cx="440.02" cy="117.8" r="1.3" fill="#111"/>
<circle cx="448.2" cy="119.7" r="1.3" fill="#111"/>
<circle cx="456.38" cy="122.8" r="1.3" fill="#111"/>
<circle cx="464.56" cy="125.7" r="1.3" fill="#111"/>
<circle cx="472.74" cy="128.1" r="1.3" fill="#111"/>
<circle cx="480.92" cy="131.2" r="1.3" fill="#111"/>
<circle cx="489.1" cy="131.2" r="1.3" fill="#111"/>
<circle cx="497.28" cy="132.2" r="1.3" fill="#111"/>
<circle cx="505.46" cy="135.3" r="1.3" fill="#111"/>
<circle cx="513.64" cy="135.3" r="1.3" fill="#111"/>
<circle cx="521.82" cy="135.8" r="1.3" fill="#111"/>
<circle cx="530" cy="137.7" r="1.3" fill="#111"/>
<circle cx="538.18" cy="138.4" r="1.3" fill="#111"/>
<circle cx="546.36" cy="138.9" r="1.3" fill="#111"/>
<circle cx="554.54" cy="137.7" r="1.3" fill="#111"/>
<line x1="333.68" y1="82.5" x2="333.68" y2="79" stroke="#999" stroke-width="0.8"/>
<line x1="332.08" y1="79" x2="335.28" y2="79" stroke="#999" stroke-width="0.8"/>
<line x1="341.86" y1="83.5" x2="341.86" y2="80" stroke="#999" stroke-width="0.8"/>
<line x1="340.26" y1="80" x2="343.46" y2="80" stroke="#999" stroke-width="0.8"/>
<line x1="350.04" y1="83" x2="350.04" y2="79" stroke="#999" stroke-width="0.8"/>
<line x1="348.44" y1="79" x2="351.64" y2="79" stroke="#999" stroke-width="0.8"/>
<line x1="358.22" y1="81.5" x2="358.22" y2="77" stroke="#999" stroke-width="0.8"/>
<line x1="356.62" y1="77" x2="359.82" y2="77" stroke="#999" stroke-width="0.8"/>
<line x1="366.4" y1="82.5" x2="366.4" y2="78" stroke="#999" stroke-width="0.8"/>
<line x1="364.8" y1="78" x2="368" y2="78" stroke="#999" stroke-width="0.8"/>
<line x1="374.58" y1="83" x2="374.58" y2="78" stroke="#999" stroke-width="0.8"/>
<line x1="372.98" y1="78" x2="376.18" y2="78" stroke="#999" stroke-width="0.8"/>
<line x1="382.76" y1="81.1" x2="382.76" y2="76" stroke="#999" stroke-width="0.8"/>
<line x1="381.16" y1="76" x2="384.36" y2="76" stroke="#999" stroke-width="0.8"/>
<line x1="390.94" y1="79.2" x2="390.94" y2="73" stroke="#999" stroke-width="0.8"/>
<line x1="389.34" y1="73" x2="392.54" y2="73" stroke="#999" stroke-width="0.8"/>
<line x1="399.12" y1="79.2" x2="399.12" y2="71" stroke="#999" stroke-width="0.8"/>
<line x1="397.52" y1="71" x2="400.72" y2="71" stroke="#999" stroke-width="0.8"/>
<line x1="407.3" y1="76.4" x2="407.3" y2="69.9" stroke="#999" stroke-width="0.8"/>
<line x1="405.7" y1="69.9" x2="408.9" y2="69.9" stroke="#999" stroke-width="0.8"/>
<line x1="415.48" y1="76.4" x2="415.48" y2="69" stroke="#999" stroke-width="0.8"/>
<line x1="413.88" y1="69" x2="417.08" y2="69" stroke="#999" stroke-width="0.8"/>
<line x1="423.66" y1="78.3" x2="423.66" y2="68.4" stroke="#999" stroke-width="0.8"/>
<line x1="422.06" y1="68.4" x2="425.26" y2="68.4" stroke="#999" stroke-width="0.8"/>
<line x1="431.84" y1="76.6" x2="431.84" y2="67.5" stroke="#999" stroke-width="0.8"/>
<line x1="430.24" y1="67.5" x2="433.44" y2="67.5" stroke="#999" stroke-width="0.8"/>
<line x1="440.02" y1="73.7" x2="440.02" y2="66.3" stroke="#999" stroke-width="0.8"/>
<line x1="438.42" y1="66.3" x2="441.62" y2="66.3" stroke="#999" stroke-width="0.8"/>
<line x1="448.2" y1="74.9" x2="448.2" y2="67.5" stroke="#999" stroke-width="0.8"/>
<line x1="446.6" y1="67.5" x2="449.8" y2="67.5" stroke="#999" stroke-width="0.8"/>
<line x1="456.38" y1="73" x2="456.38" y2="64.6" stroke="#999" stroke-width="0.8"/>
<line x1="454.78" y1="64.6" x2="457.98" y2="64.6" stroke="#999" stroke-width="0.8"/>
<line x1="464.56" y1="72.5" x2="464.56" y2="64.1" stroke="#999" stroke-width="0.8"/>
<line x1="462.96" y1="64.1" x2="466.16" y2="64.1" stroke="#999" stroke-width="0.8"/>
<line x1="472.74" y1="72.5" x2="472.74" y2="64.1" stroke="#999" stroke-width="0.8"/>
<line x1="471.14" y1="64.1" x2="474.34" y2="64.1" stroke="#999" stroke-width="0.8"/>
<line x1="480.92" y1="74.2" x2="480.92" y2="65.1" stroke="#999" stroke-width="0.8"/>
<line x1="479.32" y1="65.1" x2="482.52" y2="65.1" stroke="#999" stroke-width="0.8"/>
<line x1="489.1" y1="72.5" x2="489.1" y2="62.2" stroke="#999" stroke-width="0.8"/>
<line x1="487.5" y1="62.2" x2="490.7" y2="62.2" stroke="#999" stroke-width="0.8"/>
<line x1="497.28" y1="77.8" x2="497.28" y2="67.5" stroke="#999" stroke-width="0.8"/>
<line x1="495.68" y1="67.5" x2="498.88" y2="67.5" stroke="#999" stroke-width="0.8"/>
<line x1="505.46" y1="79" x2="505.46" y2="69.4" stroke="#999" stroke-width="0.8"/>
<line x1="503.86" y1="69.4" x2="507.06" y2="69.4" stroke="#999" stroke-width="0.8"/>
<line x1="513.64" y1="75.4" x2="513.64" y2="66.5" stroke="#999" stroke-width="0.8"/>
<line x1="512.04" y1="66.5" x2="515.24" y2="66.5" stroke="#999" stroke-width="0.8"/>
<line x1="521.82" y1="74.2" x2="521.82" y2="65.1" stroke="#999" stroke-width="0.8"/>
<line x1="520.22" y1="65.1" x2="523.42" y2="65.1" stroke="#999" stroke-width="0.8"/>
<line x1="530" y1="74.2" x2="530" y2="64.6" stroke="#999" stroke-width="0.8"/>
<line x1="528.4" y1="64.6" x2="531.6" y2="64.6" stroke="#999" stroke-width="0.8"/>
<line x1="538.18" y1="73" x2="538.18" y2="61.7" stroke="#999" stroke-width="0.8"/>
<line x1="536.58" y1="61.7" x2="539.78" y2="61.7" stroke="#999" stroke-width="0.8"/>
<line x1="546.36" y1="73" x2="546.36" y2="60.3" stroke="#999" stroke-width="0.8"/>
<line x1="544.76" y1="60.3" x2="547.96" y2="60.3" stroke="#999" stroke-width="0.8"/>
<line x1="554.54" y1="72.5" x2="554.54" y2="59.3" stroke="#999" stroke-width="0.8"/>
<line x1="552.94" y1="59.3" x2="556.14" y2="59.3" stroke="#999" stroke-width="0.8"/>
<polyline points="325.5,84.5 333.68,82.5 341.86,83.5 350.04,83 358.22,81.5 366.4,82.5 374.58,83 382.76,81.1 390.94,79.2 399.12,79.2 407.3,76.4 415.48,76.4 423.66,78.3 431.84,76.6 440.02,73.7 448.2,74.9 456.38,73 464.56,72.5 472.74,72.5 480.92,74.2 489.1,72.5 497.28,77.8 505.46,79 513.64,75.4 521.82,74.2 530,74.2 538.18,73 546.36,73 554.54,72.5" fill="none" stroke="#999" stroke-width="0.9" stroke-linejoin="round"/>
<circle cx="325.5" cy="84.5" r="1.6" fill="#fff" stroke="#999" stroke-width="0.7"/>
<circle cx="333.68" cy="82.5" r="1.6" fill="#fff" stroke="#999" stroke-width="0.7"/>
<circle cx="341.86" cy="83.5" r="1.6" fill="#fff" stroke="#999" stroke-width="0.7"/>
<circle cx="350.04" cy="83" r="1.6" fill="#fff" stroke="#999" stroke-width="0.7"/>
<circle cx="358.22" cy="81.5" r="1.6" fill="#fff" stroke="#999" stroke-width="0.7"/>
<circle cx="366.4" cy="82.5" r="1.6" fill="#fff" stroke="#999" stroke-width="0.7"/>
<circle cx="374.58" cy="83" r="1.6" fill="#fff" stroke="#999" stroke-width="0.7"/>
<circle cx="382.76" cy="81.1" r="1.6" fill="#fff" stroke="#999" stroke-width="0.7"/>
<circle cx="390.94" cy="79.2" r="1.6" fill="#fff" stroke="#999" stroke-width="0.7"/>
<circle cx="399.12" cy="79.2" r="1.6" fill="#fff" stroke="#999" stroke-width="0.7"/>
<circle cx="407.3" cy="76.4" r="1.6" fill="#fff" stroke="#999" stroke-width="0.7"/>
<circle cx="415.48" cy="76.4" r="1.6" fill="#fff" stroke="#999" stroke-width="0.7"/>
<circle cx="423.66" cy="78.3" r="1.6" fill="#fff" stroke="#999" stroke-width="0.7"/>
<circle cx="431.84" cy="76.6" r="1.6" fill="#fff" stroke="#999" stroke-width="0.7"/>
<circle cx="440.02" cy="73.7" r="1.6" fill="#fff" stroke="#999" stroke-width="0.7"/>
<circle cx="448.2" cy="74.9" r="1.6" fill="#fff" stroke="#999" stroke-width="0.7"/>
<circle cx="456.38" cy="73" r="1.6" fill="#fff" stroke="#999" stroke-width="0.7"/>
<circle cx="464.56" cy="72.5" r="1.6" fill="#fff" stroke="#999" stroke-width="0.7"/>
<circle cx="472.74" cy="72.5" r="1.6" fill="#fff" stroke="#999" stroke-width="0.7"/>
<circle cx="480.92" cy="74.2" r="1.6" fill="#fff" stroke="#999" stroke-width="0.7"/>
<circle cx="489.1" cy="72.5" r="1.6" fill="#fff" stroke="#999" stroke-width="0.7"/>
<circle cx="497.28" cy="77.8" r="1.6" fill="#fff" stroke="#999" stroke-width="0.7"/>
<circle cx="505.46" cy="79" r="1.6" fill="#fff" stroke="#999" stroke-width="0.7"/>
<circle cx="513.64" cy="75.4" r="1.6" fill="#fff" stroke="#999" stroke-width="0.7"/>
<circle cx="521.82" cy="74.2" r="1.6" fill="#fff" stroke="#999" stroke-width="0.7"/>
<circle cx="530" cy="74.2" r="1.6" fill="#fff" stroke="#999" stroke-width="0.7"/>
<circle cx="538.18" cy="73" r="1.6" fill="#fff" stroke="#999" stroke-width="0.7"/>
<circle cx="546.36" cy="73" r="1.6" fill="#fff" stroke="#999" stroke-width="0.7"/>
<circle cx="554.54" cy="72.5" r="1.6" fill="#fff" stroke="#999" stroke-width="0.7"/>
<line x1="325.5" y1="84.2" x2="325.5" y2="81.7" stroke="#222" stroke-width="0.8"/>
<line x1="323.9" y1="81.7" x2="327.1" y2="81.7" stroke="#222" stroke-width="0.8"/>
<line x1="333.68" y1="80" x2="333.68" y2="77.5" stroke="#222" stroke-width="0.8"/>
<line x1="332.08" y1="77.5" x2="335.28" y2="77.5" stroke="#222" stroke-width="0.8"/>
<line x1="341.86" y1="82.1" x2="341.86" y2="79.6" stroke="#222" stroke-width="0.8"/>
<line x1="340.26" y1="79.6" x2="343.46" y2="79.6" stroke="#222" stroke-width="0.8"/>
<line x1="350.04" y1="81.8" x2="350.04" y2="79.3" stroke="#222" stroke-width="0.8"/>
<line x1="348.44" y1="79.3" x2="351.64" y2="79.3" stroke="#222" stroke-width="0.8"/>
<line x1="358.22" y1="78.8" x2="358.22" y2="76.3" stroke="#222" stroke-width="0.8"/>
<line x1="356.62" y1="76.3" x2="359.82" y2="76.3" stroke="#222" stroke-width="0.8"/>
<line x1="366.4" y1="80.6" x2="366.4" y2="78.1" stroke="#222" stroke-width="0.8"/>
<line x1="364.8" y1="78.1" x2="368" y2="78.1" stroke="#222" stroke-width="0.8"/>
<line x1="374.58" y1="81.8" x2="374.58" y2="79.3" stroke="#222" stroke-width="0.8"/>
<line x1="372.98" y1="79.3" x2="376.18" y2="79.3" stroke="#222" stroke-width="0.8"/>
<line x1="382.76" y1="78.8" x2="382.76" y2="76.3" stroke="#222" stroke-width="0.8"/>
<line x1="381.16" y1="76.3" x2="384.36" y2="76.3" stroke="#222" stroke-width="0.8"/>
<line x1="390.94" y1="77.7" x2="390.94" y2="75.2" stroke="#222" stroke-width="0.8"/>
<line x1="389.34" y1="75.2" x2="392.54" y2="75.2" stroke="#222" stroke-width="0.8"/>
<line x1="399.12" y1="77" x2="399.12" y2="74.5" stroke="#222" stroke-width="0.8"/>
<line x1="397.52" y1="74.5" x2="400.72" y2="74.5" stroke="#222" stroke-width="0.8"/>
<line x1="407.3" y1="75.1" x2="407.3" y2="72.6" stroke="#222" stroke-width="0.8"/>
<line x1="405.7" y1="72.6" x2="408.9" y2="72.6" stroke="#222" stroke-width="0.8"/>
<line x1="415.48" y1="77" x2="415.48" y2="74.5" stroke="#222" stroke-width="0.8"/>
<line x1="413.88" y1="74.5" x2="417.08" y2="74.5" stroke="#222" stroke-width="0.8"/>
<line x1="423.66" y1="78.3" x2="423.66" y2="75.8" stroke="#222" stroke-width="0.8"/>
<line x1="422.06" y1="75.8" x2="425.26" y2="75.8" stroke="#222" stroke-width="0.8"/>
<line x1="431.84" y1="79.5" x2="431.84" y2="77" stroke="#222" stroke-width="0.8"/>
<line x1="430.24" y1="77" x2="433.44" y2="77" stroke="#222" stroke-width="0.8"/>
<line x1="440.02" y1="74.2" x2="440.02" y2="71.7" stroke="#222" stroke-width="0.8"/>
<line x1="438.42" y1="71.7" x2="441.62" y2="71.7" stroke="#222" stroke-width="0.8"/>
<line x1="448.2" y1="77.8" x2="448.2" y2="75.3" stroke="#222" stroke-width="0.8"/>
<line x1="446.6" y1="75.3" x2="449.8" y2="75.3" stroke="#222" stroke-width="0.8"/>
<line x1="456.38" y1="79.7" x2="456.38" y2="77.2" stroke="#222" stroke-width="0.8"/>
<line x1="454.78" y1="77.2" x2="457.98" y2="77.2" stroke="#222" stroke-width="0.8"/>
<line x1="464.56" y1="71.8" x2="464.56" y2="69.3" stroke="#222" stroke-width="0.8"/>
<line x1="462.96" y1="69.3" x2="466.16" y2="69.3" stroke="#222" stroke-width="0.8"/>
<line x1="472.74" y1="77.8" x2="472.74" y2="75.3" stroke="#222" stroke-width="0.8"/>
<line x1="471.14" y1="75.3" x2="474.34" y2="75.3" stroke="#222" stroke-width="0.8"/>
<line x1="480.92" y1="79.7" x2="480.92" y2="77.2" stroke="#222" stroke-width="0.8"/>
<line x1="479.32" y1="77.2" x2="482.52" y2="77.2" stroke="#222" stroke-width="0.8"/>
<line x1="489.1" y1="77.8" x2="489.1" y2="75.3" stroke="#222" stroke-width="0.8"/>
<line x1="487.5" y1="75.3" x2="490.7" y2="75.3" stroke="#222" stroke-width="0.8"/>
<line x1="497.28" y1="80.2" x2="497.28" y2="77.7" stroke="#222" stroke-width="0.8"/>
<line x1="495.68" y1="77.7" x2="498.88" y2="77.7" stroke="#222" stroke-width="0.8"/>
<line x1="505.46" y1="80.2" x2="505.46" y2="77.7" stroke="#222" stroke-width="0.8"/>
<line x1="503.86" y1="77.7" x2="507.06" y2="77.7" stroke="#222" stroke-width="0.8"/>
<line x1="513.64" y1="76.1" x2="513.64" y2="73.6" stroke="#222" stroke-width="0.8"/>
<line x1="512.04" y1="73.6" x2="515.24" y2="73.6" stroke="#222" stroke-width="0.8"/>
<line x1="521.82" y1="77.3" x2="521.82" y2="74.8" stroke="#222" stroke-width="0.8"/>
<line x1="520.22" y1="74.8" x2="523.42" y2="74.8" stroke="#222" stroke-width="0.8"/>
<line x1="530" y1="75.4" x2="530" y2="72.9" stroke="#222" stroke-width="0.8"/>
<line x1="528.4" y1="72.9" x2="531.6" y2="72.9" stroke="#222" stroke-width="0.8"/>
<line x1="538.18" y1="73.7" x2="538.18" y2="71.2" stroke="#222" stroke-width="0.8"/>
<line x1="536.58" y1="71.2" x2="539.78" y2="71.2" stroke="#222" stroke-width="0.8"/>
<line x1="546.36" y1="73.7" x2="546.36" y2="71.2" stroke="#222" stroke-width="0.8"/>
<line x1="544.76" y1="71.2" x2="547.96" y2="71.2" stroke="#222" stroke-width="0.8"/>
<line x1="554.54" y1="74.9" x2="554.54" y2="72.4" stroke="#222" stroke-width="0.8"/>
<line x1="552.94" y1="72.4" x2="556.14" y2="72.4" stroke="#222" stroke-width="0.8"/>
<polyline points="325.5,84.2 333.68,80 341.86,82.1 350.04,81.8 358.22,78.8 366.4,80.6 374.58,81.8 382.76,78.8 390.94,77.7 399.12,77 407.3,75.1 415.48,77 423.66,78.3 431.84,79.5 440.02,74.2 448.2,77.8 456.38,79.7 464.56,71.8 472.74,77.8 480.92,79.7 489.1,77.8 497.28,80.2 505.46,80.2 513.64,76.1 521.82,77.3 530,75.4 538.18,73.7 546.36,73.7 554.54,74.9" fill="none" stroke="#222" stroke-width="0.9" stroke-linejoin="round"/>
<circle cx="325.5" cy="84.2" r="1.6" fill="#fff" stroke="#222" stroke-width="0.7"/>
<circle cx="333.68" cy="80" r="1.6" fill="#fff" stroke="#222" stroke-width="0.7"/>
<circle cx="341.86" cy="82.1" r="1.6" fill="#fff" stroke="#222" stroke-width="0.7"/>
<circle cx="350.04" cy="81.8" r="1.6" fill="#fff" stroke="#222" stroke-width="0.7"/>
<circle cx="358.22" cy="78.8" r="1.6" fill="#fff" stroke="#222" stroke-width="0.7"/>
<circle cx="366.4" cy="80.6" r="1.6" fill="#fff" stroke="#222" stroke-width="0.7"/>
<circle cx="374.58" cy="81.8" r="1.6" fill="#fff" stroke="#222" stroke-width="0.7"/>
<circle cx="382.76" cy="78.8" r="1.6" fill="#fff" stroke="#222" stroke-width="0.7"/>
<circle cx="390.94" cy="77.7" r="1.6" fill="#fff" stroke="#222" stroke-width="0.7"/>
<circle cx="399.12" cy="77" r="1.6" fill="#fff" stroke="#222" stroke-width="0.7"/>
<circle cx="407.3" cy="75.1" r="1.6" fill="#fff" stroke="#222" stroke-width="0.7"/>
<circle cx="415.48" cy="77" r="1.6" fill="#fff" stroke="#222" stroke-width="0.7"/>
<circle cx="423.66" cy="78.3" r="1.6" fill="#fff" stroke="#222" stroke-width="0.7"/>
<circle cx="431.84" cy="79.5" r="1.6" fill="#fff" stroke="#222" stroke-width="0.7"/>
<circle cx="440.02" cy="74.2" r="1.6" fill="#fff" stroke="#222" stroke-width="0.7"/>
<circle cx="448.2" cy="77.8" r="1.6" fill="#fff" stroke="#222" stroke-width="0.7"/>
<circle cx="456.38" cy="79.7" r="1.6" fill="#fff" stroke="#222" stroke-width="0.7"/>
<circle cx="464.56" cy="71.8" r="1.6" fill="#fff" stroke="#222" stroke-width="0.7"/>
<circle cx="472.74" cy="77.8" r="1.6" fill="#fff" stroke="#222" stroke-width="0.7"/>
<circle cx="480.92" cy="79.7" r="1.6" fill="#fff" stroke="#222" stroke-width="0.7"/>
<circle cx="489.1" cy="77.8" r="1.6" fill="#fff" stroke="#222" stroke-width="0.7"/>
<circle cx="497.28" cy="80.2" r="1.6" fill="#fff" stroke="#222" stroke-width="0.7"/>
<circle cx="505.46" cy="80.2" r="1.6" fill="#fff" stroke="#222" stroke-width="0.7"/>
<circle cx="513.64" cy="76.1" r="1.6" fill="#fff" stroke="#222" stroke-width="0.7"/>
<circle cx="521.82" cy="77.3" r="1.6" fill="#fff" stroke="#222" stroke-width="0.7"/>
<circle cx="530" cy="75.4" r="1.6" fill="#fff" stroke="#222" stroke-width="0.7"/>
<circle cx="538.18" cy="73.7" r="1.6" fill="#fff" stroke="#222" stroke-width="0.7"/>
<circle cx="546.36" cy="73.7" r="1.6" fill="#fff" stroke="#222" stroke-width="0.7"/>
<circle cx="554.54" cy="74.9" r="1.6" fill="#fff" stroke="#222" stroke-width="0.7"/>
<line x1="333.8" y1="22.4" x2="343.8" y2="22.4" stroke="#111" stroke-width="0.9"/>
<circle cx="338.6" cy="22.4" r="1.2" fill="#111"/>
<text transform="translate(348.4 22.4) scale(0.9091 1)" font-size="7.54" text-anchor="start" font-family="'Liberation Sans', sans-serif" fill="#222" dy="0.35em">DIO AMPH</text>
<line x1="333.8" y1="33.6" x2="343.8" y2="33.6" stroke="#222" stroke-width="0.9"/>
<circle cx="338.6" cy="33.6" r="1.5" fill="#fff" stroke="#222" stroke-width="0.8"/>
<text transform="translate(348.4 33.6) scale(0.9091 1)" font-size="7.54" text-anchor="start" font-family="'Liberation Sans', sans-serif" fill="#222" dy="0.35em">MC4R KO Veh</text>
<line x1="333.8" y1="45.1" x2="343.8" y2="45.1" stroke="#999" stroke-width="0.9"/>
<circle cx="338.6" cy="45.1" r="1.5" fill="#fff" stroke="#999" stroke-width="0.8"/>
<text transform="translate(348.4 45.1) scale(0.9091 1)" font-size="7.54" text-anchor="start" font-family="'Liberation Sans', sans-serif" fill="#222" dy="0.35em">DIO Veh</text>
<line x1="333.8" y1="57.5" x2="343.8" y2="57.5" stroke="#bbb" stroke-width="0.9"/>
<circle cx="338.6" cy="57.5" r="1.9" fill="#bbb"/>
<text transform="translate(348.4 57.5) scale(0.9091 1)" font-size="7.54" text-anchor="start" font-family="'Liberation Sans', sans-serif" fill="#222" dy="0.35em">MC4R KO AMPH</text>
<line x1="400.5" y1="18.8" x2="400.5" y2="46.5" stroke="#222" stroke-width="1.1"/>
<text x="405.4" y="39.5" font-size="10" font-weight="bold" text-anchor="middle" font-family="'Liberation Sans', sans-serif" fill="#111">*</text>
<line x1="413.5" y1="31.2" x2="413.5" y2="60" stroke="#222" stroke-width="1.1"/>
<text x="420" y="52.66" font-size="10.5" font-weight="bold" text-anchor="middle" font-family="'Liberation Sans', sans-serif" fill="#111">*</text>
<text x="424" y="52.66" font-size="10.5" font-weight="bold" text-anchor="middle" font-family="'Liberation Sans', sans-serif" fill="#111">*</text>
<text x="428" y="52.66" font-size="10.5" font-weight="bold" text-anchor="middle" font-family="'Liberation Sans', sans-serif" fill="#111">*</text>
<text transform="translate(0.8 226.8) scale(0.9259 1)" font-size="14.69" text-anchor="start" font-family="'Liberation Sans', sans-serif" font-weight="bold" fill="#111" dy="0">C</text>
<line x1="51" y1="243.75" x2="51" y2="348.75" stroke="#111" stroke-width="1.1"/>
<line x1="46.6" y1="348.25" x2="51" y2="348.25" stroke="#111" stroke-width="1.2"/>
<text transform="translate(45.8 348.25) scale(0.9091 1)" font-size="7.59" text-anchor="end" font-family="'Liberation Sans', sans-serif" fill="#222" dy="0.35em">-15</text>
<line x1="46.6" y1="337.8" x2="51" y2="337.8" stroke="#111" stroke-width="1.2"/>
<text transform="translate(45.8 337.8) scale(0.9091 1)" font-size="7.59" text-anchor="end" font-family="'Liberation Sans', sans-serif" fill="#222" dy="0.35em">-12</text>
<line x1="46.6" y1="327.35" x2="51" y2="327.35" stroke="#111" stroke-width="1.2"/>
<text transform="translate(45.8 327.35) scale(0.9091 1)" font-size="7.59" text-anchor="end" font-family="'Liberation Sans', sans-serif" fill="#222" dy="0.35em">-9</text>
<line x1="46.6" y1="316.9" x2="51" y2="316.9" stroke="#111" stroke-width="1.2"/>
<text transform="translate(45.8 316.9) scale(0.9091 1)" font-size="7.59" text-anchor="end" font-family="'Liberation Sans', sans-serif" fill="#222" dy="0.35em">-6</text>
<line x1="46.6" y1="306.45" x2="51" y2="306.45" stroke="#111" stroke-width="1.2"/>
<text transform="translate(45.8 306.45) scale(0.9091 1)" font-size="7.59" text-anchor="end" font-family="'Liberation Sans', sans-serif" fill="#222" dy="0.35em">-3</text>
<line x1="46.6" y1="296" x2="51" y2="296" stroke="#111" stroke-width="1.2"/>
<text transform="translate(45.8 296) scale(0.9091 1)" font-size="7.59" text-anchor="end" font-family="'Liberation Sans', sans-serif" fill="#222" dy="0.35em">0</text>
<line x1="46.6" y1="285.55" x2="51" y2="285.55" stroke="#111" stroke-width="1.2"/>
<text transform="translate(45.8 285.55) scale(0.9091 1)" font-size="7.59" text-anchor="end" font-family="'Liberation Sans', sans-serif" fill="#222" dy="0.35em">3</text>
<line x1="46.6" y1="275.1" x2="51" y2="275.1" stroke="#111" stroke-width="1.2"/>
<text transform="translate(45.8 275.1) scale(0.9091 1)" font-size="7.59" text-anchor="end" font-family="'Liberation Sans', sans-serif" fill="#222" dy="0.35em">6</text>
<line x1="46.6" y1="264.65" x2="51" y2="264.65" stroke="#111" stroke-width="1.2"/>
<text transform="translate(45.8 264.65) scale(0.9091 1)" font-size="7.59" text-anchor="end" font-family="'Liberation Sans', sans-serif" fill="#222" dy="0.35em">9</text>
<line x1="46.6" y1="254.2" x2="51" y2="254.2" stroke="#111" stroke-width="1.2"/>
<text transform="translate(45.8 254.2) scale(0.9091 1)" font-size="7.59" text-anchor="end" font-family="'Liberation Sans', sans-serif" fill="#222" dy="0.35em">12</text>
<line x1="46.6" y1="243.75" x2="51" y2="243.75" stroke="#111" stroke-width="1.2"/>
<text transform="translate(45.8 243.75) scale(0.9091 1)" font-size="7.59" text-anchor="end" font-family="'Liberation Sans', sans-serif" fill="#222" dy="0.35em">15</text>
<line x1="51" y1="296" x2="243.9" y2="296" stroke="#333" stroke-width="1.6"/>
<line x1="54.6" y1="296" x2="54.6" y2="299.6" stroke="#222" stroke-width="0.8"/>
<line x1="60.79" y1="296" x2="60.79" y2="299.6" stroke="#222" stroke-width="0.8"/>
<line x1="66.98" y1="296" x2="66.98" y2="299.6" stroke="#222" stroke-width="0.8"/>
<line x1="73.17" y1="296" x2="73.17" y2="299.6" stroke="#222" stroke-width="0.8"/>
<line x1="79.36" y1="296" x2="79.36" y2="299.6" stroke="#222" stroke-width="0.8"/>
<line x1="85.55" y1="296" x2="85.55" y2="299.6" stroke="#222" stroke-width="0.8"/>
<line x1="91.74" y1="296" x2="91.74" y2="299.6" stroke="#222" stroke-width="0.8"/>
<line x1="97.93" y1="296" x2="97.93" y2="299.6" stroke="#222" stroke-width="0.8"/>
<line x1="104.12" y1="296" x2="104.12" y2="299.6" stroke="#222" stroke-width="0.8"/>
<line x1="110.31" y1="296" x2="110.31" y2="299.6" stroke="#222" stroke-width="0.8"/>
<line x1="116.5" y1="296" x2="116.5" y2="299.6" stroke="#222" stroke-width="0.8"/>
<line x1="122.69" y1="296" x2="122.69" y2="299.6" stroke="#222" stroke-width="0.8"/>
<line x1="128.88" y1="296" x2="128.88" y2="299.6" stroke="#222" stroke-width="0.8"/>
<line x1="135.07" y1="296" x2="135.07" y2="299.6" stroke="#222" stroke-width="0.8"/>
<line x1="141.26" y1="296" x2="141.26" y2="299.6" stroke="#222" stroke-width="0.8"/>
<line x1="147.45" y1="296" x2="147.45" y2="299.6" stroke="#222" stroke-width="0.8"/>
<line x1="153.64" y1="296" x2="153.64" y2="299.6" stroke="#222" stroke-width="0.8"/>
<line x1="159.83" y1="296" x2="159.83" y2="299.6" stroke="#222" stroke-width="0.8"/>
<line x1="166.02" y1="296" x2="166.02" y2="299.6" stroke="#222" stroke-width="0.8"/>
<line x1="172.21" y1="296" x2="172.21" y2="299.6" stroke="#222" stroke-width="0.8"/>
<line x1="178.4" y1="296" x2="178.4" y2="299.6" stroke="#222" stroke-width="0.8"/>
<line x1="184.59" y1="296" x2="184.59" y2="299.6" stroke="#222" stroke-width="0.8"/>
<line x1="190.78" y1="296" x2="190.78" y2="299.6" stroke="#222" stroke-width="0.8"/>
<line x1="196.97" y1="296" x2="196.97" y2="299.6" stroke="#222" stroke-width="0.8"/>
<line x1="203.16" y1="296" x2="203.16" y2="299.6" stroke="#222" stroke-width="0.8"/>
<line x1="209.35" y1="296" x2="209.35" y2="299.6" stroke="#222" stroke-width="0.8"/>
<line x1="215.54" y1="296" x2="215.54" y2="299.6" stroke="#222" stroke-width="0.8"/>
<line x1="221.73" y1="296" x2="221.73" y2="299.6" stroke="#222" stroke-width="0.8"/>
<line x1="227.92" y1="296" x2="227.92" y2="299.6" stroke="#222" stroke-width="0.8"/>
<line x1="234.11" y1="296" x2="234.11" y2="299.6" stroke="#222" stroke-width="0.8"/>
<line x1="240.3" y1="296" x2="240.3" y2="299.6" stroke="#222" stroke-width="0.8"/>
<text transform="translate(55.6 354.6) rotate(-45) scale(0.9091 1)" font-size="7.48" text-anchor="end" font-family="'Liberation Sans', sans-serif" fill="#222" dy="0">-2</text>
<text transform="translate(61.79 354.6) rotate(-45) scale(0.9091 1)" font-size="7.48" text-anchor="end" font-family="'Liberation Sans', sans-serif" fill="#222" dy="0">-1</text>
<text transform="translate(67.98 354.6) rotate(-45) scale(0.9091 1)" font-size="7.48" text-anchor="end" font-family="'Liberation Sans', sans-serif" fill="#222" dy="0">0</text>
<text transform="translate(74.17 354.6) rotate(-45) scale(0.9091 1)" font-size="7.48" text-anchor="end" font-family="'Liberation Sans', sans-serif" fill="#222" dy="0">1</text>
<text transform="translate(80.36 354.6) rotate(-45) scale(0.9091 1)" font-size="7.48" text-anchor="end" font-family="'Liberation Sans', sans-serif" fill="#222" dy="0">2</text>
<text transform="translate(86.55 354.6) rotate(-45) scale(0.9091 1)" font-size="7.48" text-anchor="end" font-family="'Liberation Sans', sans-serif" fill="#222" dy="0">3</text>
<text transform="translate(92.74 354.6) rotate(-45) scale(0.9091 1)" font-size="7.48" text-anchor="end" font-family="'Liberation Sans', sans-serif" fill="#222" dy="0">4</text>
<text transform="translate(98.93 354.6) rotate(-45) scale(0.9091 1)" font-size="7.48" text-anchor="end" font-family="'Liberation Sans', sans-serif" fill="#222" dy="0">5</text>
<text transform="translate(105.12 354.6) rotate(-45) scale(0.9091 1)" font-size="7.48" text-anchor="end" font-family="'Liberation Sans', sans-serif" fill="#222" dy="0">6</text>
<text transform="translate(111.31 354.6) rotate(-45) scale(0.9091 1)" font-size="7.48" text-anchor="end" font-family="'Liberation Sans', sans-serif" fill="#222" dy="0">7</text>
<text transform="translate(117.5 354.6) rotate(-45) scale(0.9091 1)" font-size="7.48" text-anchor="end" font-family="'Liberation Sans', sans-serif" fill="#222" dy="0">8</text>
<text transform="translate(123.69 354.6) rotate(-45) scale(0.9091 1)" font-size="7.48" text-anchor="end" font-family="'Liberation Sans', sans-serif" fill="#222" dy="0">9</text>
<text transform="translate(129.88 354.6) rotate(-45) scale(0.9091 1)" font-size="7.48" text-anchor="end" font-family="'Liberation Sans', sans-serif" fill="#222" dy="0">10</text>
<text transform="translate(136.07 354.6) rotate(-45) scale(0.9091 1)" font-size="7.48" text-anchor="end" font-family="'Liberation Sans', sans-serif" fill="#222" dy="0">11</text>
<text transform="translate(142.26 354.6) rotate(-45) scale(0.9091 1)" font-size="7.48" text-anchor="end" font-family="'Liberation Sans', sans-serif" fill="#222" dy="0">12</text>
<text transform="translate(148.45 354.6) rotate(-45) scale(0.9091 1)" font-size="7.48" text-anchor="end" font-family="'Liberation Sans', sans-serif" fill="#222" dy="0">13</text>
<text transform="translate(154.64 354.6) rotate(-45) scale(0.9091 1)" font-size="7.48" text-anchor="end" font-family="'Liberation Sans', sans-serif" fill="#222" dy="0">14</text>
<text transform="translate(160.83 354.6) rotate(-45) scale(0.9091 1)" font-size="7.48" text-anchor="end" font-family="'Liberation Sans', sans-serif" fill="#222" dy="0">15</text>
<text transform="translate(167.02 354.6) rotate(-45) scale(0.9091 1)" font-size="7.48" text-anchor="end" font-family="'Liberation Sans', sans-serif" fill="#222" dy="0">16</text>
<text transform="translate(173.21 354.6) rotate(-45) scale(0.9091 1)" font-size="7.48" text-anchor="end" font-family="'Liberation Sans', sans-serif" fill="#222" dy="0">17</text>
<text transform="translate(179.4 354.6) rotate(-45) scale(0.9091 1)" font-size="7.48" text-anchor="end" font-family="'Liberation Sans', sans-serif" fill="#222" dy="0">18</text>
<text transform="translate(185.59 354.6) rotate(-45) scale(0.9091 1)" font-size="7.48" text-anchor="end" font-family="'Liberation Sans', sans-serif" fill="#222" dy="0">19</text>
<text transform="translate(191.78 354.6) rotate(-45) scale(0.9091 1)" font-size="7.48" text-anchor="end" font-family="'Liberation Sans', sans-serif" fill="#222" dy="0">20</text>
<text transform="translate(197.97 354.6) rotate(-45) scale(0.9091 1)" font-size="7.48" text-anchor="end" font-family="'Liberation Sans', sans-serif" fill="#222" dy="0">21</text>
<text transform="translate(204.16 354.6) rotate(-45) scale(0.9091 1)" font-size="7.48" text-anchor="end" font-family="'Liberation Sans', sans-serif" fill="#222" dy="0">22</text>
<text transform="translate(210.35 354.6) rotate(-45) scale(0.9091 1)" font-size="7.48" text-anchor="end" font-family="'Liberation Sans', sans-serif" fill="#222" dy="0">23</text>
<text transform="translate(216.54 354.6) rotate(-45) scale(0.9091 1)" font-size="7.48" text-anchor="end" font-family="'Liberation Sans', sans-serif" fill="#222" dy="0">24</text>
<text transform="translate(222.73 354.6) rotate(-45) scale(0.9091 1)" font-size="7.48" text-anchor="end" font-family="'Liberation Sans', sans-serif" fill="#222" dy="0">25</text>
<text transform="translate(228.92 354.6) rotate(-45) scale(0.9091 1)" font-size="7.48" text-anchor="end" font-family="'Liberation Sans', sans-serif" fill="#222" dy="0">26</text>
<text transform="translate(235.11 354.6) rotate(-45) scale(0.9091 1)" font-size="7.48" text-anchor="end" font-family="'Liberation Sans', sans-serif" fill="#222" dy="0">27</text>
<text transform="translate(241.3 354.6) rotate(-45) scale(0.9091 1)" font-size="7.48" text-anchor="end" font-family="'Liberation Sans', sans-serif" fill="#222" dy="0">28</text>
<text transform="translate(23.2 297.6) rotate(-90) scale(0.9091 1)" font-size="8.09" text-anchor="middle" font-family="'Liberation Sans', sans-serif" fill="#222" dy="0.35em">Systolic Blood Pressure Change (mmHg)</text>
<rect x="71" y="314.9" width="172.1" height="24.4" fill="#bcbdc1" stroke="none" stroke-width="0"/>
<text transform="translate(147.4 327) scale(0.9091 1)" font-size="8.03" text-anchor="middle" font-family="'Liberation Sans', sans-serif" fill="#222" dy="0.35em">Treatment period</text>
<text transform="translate(147.5 371.8) scale(0.9091 1)" font-size="8.14" text-anchor="middle" font-family="'Liberation Sans', sans-serif" fill="#222" dy="0.35em">Days</text>
<line x1="54.6" y1="296" x2="54.6" y2="299" stroke="#aaa" stroke-width="0.7"/>
<line x1="53.1" y1="299" x2="56.1" y2="299" stroke="#aaa" stroke-width="0.7"/>
<line x1="60.79" y1="297.7" x2="60.79" y2="300.7" stroke="#aaa" stroke-width="0.7"/>
<line x1="59.29" y1="300.7" x2="62.29" y2="300.7" stroke="#aaa" stroke-width="0.7"/>
<line x1="66.98" y1="296" x2="66.98" y2="299" stroke="#aaa" stroke-width="0.7"/>
<line x1="65.48" y1="299" x2="68.48" y2="299" stroke="#aaa" stroke-width="0.7"/>
<line x1="73.17" y1="298" x2="73.17" y2="301" stroke="#aaa" stroke-width="0.7"/>
<line x1="71.67" y1="301" x2="74.67" y2="301" stroke="#aaa" stroke-width="0.7"/>
<line x1="79.36" y1="299" x2="79.36" y2="302" stroke="#aaa" stroke-width="0.7"/>
<line x1="77.86" y1="302" x2="80.86" y2="302" stroke="#aaa" stroke-width="0.7"/>
<line x1="85.55" y1="300" x2="85.55" y2="303" stroke="#aaa" stroke-width="0.7"/>
<line x1="84.05" y1="303" x2="87.05" y2="303" stroke="#aaa" stroke-width="0.7"/>
<line x1="91.74" y1="299" x2="91.74" y2="302" stroke="#aaa" stroke-width="0.7"/>
<line x1="90.24" y1="302" x2="93.24" y2="302" stroke="#aaa" stroke-width="0.7"/>
<line x1="97.93" y1="298" x2="97.93" y2="301" stroke="#aaa" stroke-width="0.7"/>
<line x1="96.43" y1="301" x2="99.43" y2="301" stroke="#aaa" stroke-width="0.7"/>
<line x1="104.12" y1="299" x2="104.12" y2="302" stroke="#aaa" stroke-width="0.7"/>
<line x1="102.62" y1="302" x2="105.62" y2="302" stroke="#aaa" stroke-width="0.7"/>
<line x1="110.31" y1="296" x2="110.31" y2="299" stroke="#aaa" stroke-width="0.7"/>
<line x1="108.81" y1="299" x2="111.81" y2="299" stroke="#aaa" stroke-width="0.7"/>
<line x1="116.5" y1="298" x2="116.5" y2="301" stroke="#aaa" stroke-width="0.7"/>
<line x1="115" y1="301" x2="118" y2="301" stroke="#aaa" stroke-width="0.7"/>
<line x1="122.69" y1="299" x2="122.69" y2="302" stroke="#aaa" stroke-width="0.7"/>
<line x1="121.19" y1="302" x2="124.19" y2="302" stroke="#aaa" stroke-width="0.7"/>
<line x1="128.88" y1="298.3" x2="128.88" y2="301.3" stroke="#aaa" stroke-width="0.7"/>
<line x1="127.38" y1="301.3" x2="130.38" y2="301.3" stroke="#aaa" stroke-width="0.7"/>
<line x1="135.07" y1="299" x2="135.07" y2="302" stroke="#aaa" stroke-width="0.7"/>
<line x1="133.57" y1="302" x2="136.57" y2="302" stroke="#aaa" stroke-width="0.7"/>
<line x1="141.26" y1="300.7" x2="141.26" y2="303.7" stroke="#aaa" stroke-width="0.7"/>
<line x1="139.76" y1="303.7" x2="142.76" y2="303.7" stroke="#aaa" stroke-width="0.7"/>
<line x1="147.45" y1="300" x2="147.45" y2="303" stroke="#aaa" stroke-width="0.7"/>
<line x1="145.95" y1="303" x2="148.95" y2="303" stroke="#aaa" stroke-width="0.7"/>
<line x1="153.64" y1="297" x2="153.64" y2="300" stroke="#aaa" stroke-width="0.7"/>
<line x1="152.14" y1="300" x2="155.14" y2="300" stroke="#aaa" stroke-width="0.7"/>
<line x1="159.83" y1="299.1" x2="159.83" y2="302.1" stroke="#aaa" stroke-width="0.7"/>
<line x1="158.33" y1="302.1" x2="161.33" y2="302.1" stroke="#aaa" stroke-width="0.7"/>
<line x1="166.02" y1="298.7" x2="166.02" y2="301.7" stroke="#aaa" stroke-width="0.7"/>
<line x1="164.52" y1="301.7" x2="167.52" y2="301.7" stroke="#aaa" stroke-width="0.7"/>
<line x1="172.21" y1="298.7" x2="172.21" y2="301.7" stroke="#aaa" stroke-width="0.7"/>
<line x1="170.71" y1="301.7" x2="173.71" y2="301.7" stroke="#aaa" stroke-width="0.7"/>
<line x1="178.4" y1="301.5" x2="178.4" y2="304.5" stroke="#aaa" stroke-width="0.7"/>
<line x1="176.9" y1="304.5" x2="179.9" y2="304.5" stroke="#aaa" stroke-width="0.7"/>
<line x1="184.59" y1="303.1" x2="184.59" y2="306.1" stroke="#aaa" stroke-width="0.7"/>
<line x1="183.09" y1="306.1" x2="186.09" y2="306.1" stroke="#aaa" stroke-width="0.7"/>
<line x1="190.78" y1="301" x2="190.78" y2="304" stroke="#aaa" stroke-width="0.7"/>
<line x1="189.28" y1="304" x2="192.28" y2="304" stroke="#aaa" stroke-width="0.7"/>
<line x1="196.97" y1="300.5" x2="196.97" y2="303.5" stroke="#aaa" stroke-width="0.7"/>
<line x1="195.47" y1="303.5" x2="198.47" y2="303.5" stroke="#aaa" stroke-width="0.7"/>
<line x1="203.16" y1="301" x2="203.16" y2="304" stroke="#aaa" stroke-width="0.7"/>
<line x1="201.66" y1="304" x2="204.66" y2="304" stroke="#aaa" stroke-width="0.7"/>
<line x1="209.35" y1="301" x2="209.35" y2="304" stroke="#aaa" stroke-width="0.7"/>
<line x1="207.85" y1="304" x2="210.85" y2="304" stroke="#aaa" stroke-width="0.7"/>
<line x1="215.54" y1="302" x2="215.54" y2="305" stroke="#aaa" stroke-width="0.7"/>
<line x1="214.04" y1="305" x2="217.04" y2="305" stroke="#aaa" stroke-width="0.7"/>
<line x1="221.73" y1="301" x2="221.73" y2="304" stroke="#aaa" stroke-width="0.7"/>
<line x1="220.23" y1="304" x2="223.23" y2="304" stroke="#aaa" stroke-width="0.7"/>
<line x1="227.92" y1="300.5" x2="227.92" y2="303.5" stroke="#aaa" stroke-width="0.7"/>
<line x1="226.42" y1="303.5" x2="229.42" y2="303.5" stroke="#aaa" stroke-width="0.7"/>
<line x1="234.11" y1="300" x2="234.11" y2="303" stroke="#aaa" stroke-width="0.7"/>
<line x1="232.61" y1="303" x2="235.61" y2="303" stroke="#aaa" stroke-width="0.7"/>
<line x1="240.3" y1="299" x2="240.3" y2="302" stroke="#aaa" stroke-width="0.7"/>
<line x1="238.8" y1="302" x2="241.8" y2="302" stroke="#aaa" stroke-width="0.7"/>
<polyline points="54.6,296 60.79,297.7 66.98,296 73.17,298 79.36,299 85.55,300 91.74,299 97.93,298 104.12,299 110.31,296 116.5,298 122.69,299 128.88,298.3 135.07,299 141.26,300.7 147.45,300 153.64,297 159.83,299.1 166.02,298.7 172.21,298.7 178.4,301.5 184.59,303.1 190.78,301 196.97,300.5 203.16,301 209.35,301 215.54,302 221.73,301 227.92,300.5 234.11,300 240.3,299" fill="none" stroke="#aaa" stroke-width="0.8" stroke-linejoin="round"/>
<circle cx="54.6" cy="296" r="1.6" fill="#fff" stroke="#aaa" stroke-width="0.7"/>
<circle cx="60.79" cy="297.7" r="1.6" fill="#fff" stroke="#aaa" stroke-width="0.7"/>
<circle cx="66.98" cy="296" r="1.6" fill="#fff" stroke="#aaa" stroke-width="0.7"/>
<circle cx="73.17" cy="298" r="1.6" fill="#fff" stroke="#aaa" stroke-width="0.7"/>
<circle cx="79.36" cy="299" r="1.6" fill="#fff" stroke="#aaa" stroke-width="0.7"/>
<circle cx="85.55" cy="300" r="1.6" fill="#fff" stroke="#aaa" stroke-width="0.7"/>
<circle cx="91.74" cy="299" r="1.6" fill="#fff" stroke="#aaa" stroke-width="0.7"/>
<circle cx="97.93" cy="298" r="1.6" fill="#fff" stroke="#aaa" stroke-width="0.7"/>
<circle cx="104.12" cy="299" r="1.6" fill="#fff" stroke="#aaa" stroke-width="0.7"/>
<circle cx="110.31" cy="296" r="1.6" fill="#fff" stroke="#aaa" stroke-width="0.7"/>
<circle cx="116.5" cy="298" r="1.6" fill="#fff" stroke="#aaa" stroke-width="0.7"/>
<circle cx="122.69" cy="299" r="1.6" fill="#fff" stroke="#aaa" stroke-width="0.7"/>
<circle cx="128.88" cy="298.3" r="1.6" fill="#fff" stroke="#aaa" stroke-width="0.7"/>
<circle cx="135.07" cy="299" r="1.6" fill="#fff" stroke="#aaa" stroke-width="0.7"/>
<circle cx="141.26" cy="300.7" r="1.6" fill="#fff" stroke="#aaa" stroke-width="0.7"/>
<circle cx="147.45" cy="300" r="1.6" fill="#fff" stroke="#aaa" stroke-width="0.7"/>
<circle cx="153.64" cy="297" r="1.6" fill="#fff" stroke="#aaa" stroke-width="0.7"/>
<circle cx="159.83" cy="299.1" r="1.6" fill="#fff" stroke="#aaa" stroke-width="0.7"/>
<circle cx="166.02" cy="298.7" r="1.6" fill="#fff" stroke="#aaa" stroke-width="0.7"/>
<circle cx="172.21" cy="298.7" r="1.6" fill="#fff" stroke="#aaa" stroke-width="0.7"/>
<circle cx="178.4" cy="301.5" r="1.6" fill="#fff" stroke="#aaa" stroke-width="0.7"/>
<circle cx="184.59" cy="303.1" r="1.6" fill="#fff" stroke="#aaa" stroke-width="0.7"/>
<circle cx="190.78" cy="301" r="1.6" fill="#fff" stroke="#aaa" stroke-width="0.7"/>
<circle cx="196.97" cy="300.5" r="1.6" fill="#fff" stroke="#aaa" stroke-width="0.7"/>
<circle cx="203.16" cy="301" r="1.6" fill="#fff" stroke="#aaa" stroke-width="0.7"/>
<circle cx="209.35" cy="301" r="1.6" fill="#fff" stroke="#aaa" stroke-width="0.7"/>
<circle cx="215.54" cy="302" r="1.6" fill="#fff" stroke="#aaa" stroke-width="0.7"/>
<circle cx="221.73" cy="301" r="1.6" fill="#fff" stroke="#aaa" stroke-width="0.7"/>
<circle cx="227.92" cy="300.5" r="1.6" fill="#fff" stroke="#aaa" stroke-width="0.7"/>
<circle cx="234.11" cy="300" r="1.6" fill="#fff" stroke="#aaa" stroke-width="0.7"/>
<circle cx="240.3" cy="299" r="1.6" fill="#fff" stroke="#aaa" stroke-width="0.7"/>
<line x1="54.6" y1="295.7" x2="54.6" y2="298.2" stroke="#222" stroke-width="0.7"/>
<line x1="53.1" y1="298.2" x2="56.1" y2="298.2" stroke="#222" stroke-width="0.7"/>
<line x1="60.79" y1="303.1" x2="60.79" y2="305.6" stroke="#222" stroke-width="0.7"/>
<line x1="59.29" y1="305.6" x2="62.29" y2="305.6" stroke="#222" stroke-width="0.7"/>
<line x1="66.98" y1="300.4" x2="66.98" y2="302.9" stroke="#222" stroke-width="0.7"/>
<line x1="65.48" y1="302.9" x2="68.48" y2="302.9" stroke="#222" stroke-width="0.7"/>
<line x1="73.17" y1="297" x2="73.17" y2="299.5" stroke="#222" stroke-width="0.7"/>
<line x1="71.67" y1="299.5" x2="74.67" y2="299.5" stroke="#222" stroke-width="0.7"/>
<line x1="79.36" y1="297.5" x2="79.36" y2="300" stroke="#222" stroke-width="0.7"/>
<line x1="77.86" y1="300" x2="80.86" y2="300" stroke="#222" stroke-width="0.7"/>
<line x1="85.55" y1="299.1" x2="85.55" y2="301.6" stroke="#222" stroke-width="0.7"/>
<line x1="84.05" y1="301.6" x2="87.05" y2="301.6" stroke="#222" stroke-width="0.7"/>
<line x1="91.74" y1="301.8" x2="91.74" y2="304.3" stroke="#222" stroke-width="0.7"/>
<line x1="90.24" y1="304.3" x2="93.24" y2="304.3" stroke="#222" stroke-width="0.7"/>
<line x1="97.93" y1="297.5" x2="97.93" y2="300" stroke="#222" stroke-width="0.7"/>
<line x1="96.43" y1="300" x2="99.43" y2="300" stroke="#222" stroke-width="0.7"/>
<line x1="104.12" y1="297.1" x2="104.12" y2="299.6" stroke="#222" stroke-width="0.7"/>
<line x1="102.62" y1="299.6" x2="105.62" y2="299.6" stroke="#222" stroke-width="0.7"/>
<line x1="110.31" y1="300.9" x2="110.31" y2="303.4" stroke="#222" stroke-width="0.7"/>
<line x1="108.81" y1="303.4" x2="111.81" y2="303.4" stroke="#222" stroke-width="0.7"/>
<line x1="116.5" y1="303.1" x2="116.5" y2="305.6" stroke="#222" stroke-width="0.7"/>
<line x1="115" y1="305.6" x2="118" y2="305.6" stroke="#222" stroke-width="0.7"/>
<line x1="122.69" y1="305.5" x2="122.69" y2="308" stroke="#222" stroke-width="0.7"/>
<line x1="121.19" y1="308" x2="124.19" y2="308" stroke="#222" stroke-width="0.7"/>
<line x1="128.88" y1="298.3" x2="128.88" y2="300.8" stroke="#222" stroke-width="0.7"/>
<line x1="127.38" y1="300.8" x2="130.38" y2="300.8" stroke="#222" stroke-width="0.7"/>
<line x1="135.07" y1="304.3" x2="135.07" y2="306.8" stroke="#222" stroke-width="0.7"/>
<line x1="133.57" y1="306.8" x2="136.57" y2="306.8" stroke="#222" stroke-width="0.7"/>
<line x1="141.26" y1="305.4" x2="141.26" y2="307.9" stroke="#222" stroke-width="0.7"/>
<line x1="139.76" y1="307.9" x2="142.76" y2="307.9" stroke="#222" stroke-width="0.7"/>
<line x1="147.45" y1="296" x2="147.45" y2="298.5" stroke="#222" stroke-width="0.7"/>
<line x1="145.95" y1="298.5" x2="148.95" y2="298.5" stroke="#222" stroke-width="0.7"/>
<line x1="153.64" y1="302.7" x2="153.64" y2="305.2" stroke="#222" stroke-width="0.7"/>
<line x1="152.14" y1="305.2" x2="155.14" y2="305.2" stroke="#222" stroke-width="0.7"/>
<line x1="159.83" y1="300.3" x2="159.83" y2="302.8" stroke="#222" stroke-width="0.7"/>
<line x1="158.33" y1="302.8" x2="161.33" y2="302.8" stroke="#222" stroke-width="0.7"/>
<line x1="166.02" y1="301.1" x2="166.02" y2="303.6" stroke="#222" stroke-width="0.7"/>
<line x1="164.52" y1="303.6" x2="167.52" y2="303.6" stroke="#222" stroke-width="0.7"/>
<line x1="172.21" y1="302.7" x2="172.21" y2="305.2" stroke="#222" stroke-width="0.7"/>
<line x1="170.71" y1="305.2" x2="173.71" y2="305.2" stroke="#222" stroke-width="0.7"/>
<line x1="178.4" y1="296.7" x2="178.4" y2="299.2" stroke="#222" stroke-width="0.7"/>
<line x1="176.9" y1="299.2" x2="179.9" y2="299.2" stroke="#222" stroke-width="0.7"/>
<line x1="184.59" y1="300.7" x2="184.59" y2="303.2" stroke="#222" stroke-width="0.7"/>
<line x1="183.09" y1="303.2" x2="186.09" y2="303.2" stroke="#222" stroke-width="0.7"/>
<line x1="190.78" y1="299.2" x2="190.78" y2="301.7" stroke="#222" stroke-width="0.7"/>
<line x1="189.28" y1="301.7" x2="192.28" y2="301.7" stroke="#222" stroke-width="0.7"/>
<line x1="196.97" y1="299.2" x2="196.97" y2="301.7" stroke="#222" stroke-width="0.7"/>
<line x1="195.47" y1="301.7" x2="198.47" y2="301.7" stroke="#222" stroke-width="0.7"/>
<line x1="203.16" y1="301.4" x2="203.16" y2="303.9" stroke="#222" stroke-width="0.7"/>
<line x1="201.66" y1="303.9" x2="204.66" y2="303.9" stroke="#222" stroke-width="0.7"/>
<line x1="209.35" y1="300" x2="209.35" y2="302.5" stroke="#222" stroke-width="0.7"/>
<line x1="207.85" y1="302.5" x2="210.85" y2="302.5" stroke="#222" stroke-width="0.7"/>
<line x1="215.54" y1="303.3" x2="215.54" y2="305.8" stroke="#222" stroke-width="0.7"/>
<line x1="214.04" y1="305.8" x2="217.04" y2="305.8" stroke="#222" stroke-width="0.7"/>
<line x1="221.73" y1="303.3" x2="221.73" y2="305.8" stroke="#222" stroke-width="0.7"/>
<line x1="220.23" y1="305.8" x2="223.23" y2="305.8" stroke="#222" stroke-width="0.7"/>
<line x1="227.92" y1="300" x2="227.92" y2="302.5" stroke="#222" stroke-width="0.7"/>
<line x1="226.42" y1="302.5" x2="229.42" y2="302.5" stroke="#222" stroke-width="0.7"/>
<line x1="234.11" y1="300" x2="234.11" y2="302.5" stroke="#222" stroke-width="0.7"/>
<line x1="232.61" y1="302.5" x2="235.61" y2="302.5" stroke="#222" stroke-width="0.7"/>
<line x1="240.3" y1="298" x2="240.3" y2="300.5" stroke="#222" stroke-width="0.7"/>
<line x1="238.8" y1="300.5" x2="241.8" y2="300.5" stroke="#222" stroke-width="0.7"/>
<polyline points="54.6,295.7 60.79,303.1 66.98,300.4 73.17,297 79.36,297.5 85.55,299.1 91.74,301.8 97.93,297.5 104.12,297.1 110.31,300.9 116.5,303.1 122.69,305.5 128.88,298.3 135.07,304.3 141.26,305.4 147.45,296 153.64,302.7 159.83,300.3 166.02,301.1 172.21,302.7 178.4,296.7 184.59,300.7 190.78,299.2 196.97,299.2 203.16,301.4 209.35,300 215.54,303.3 221.73,303.3 227.92,300 234.11,300 240.3,298" fill="none" stroke="#222" stroke-width="0.8" stroke-linejoin="round"/>
<circle cx="54.6" cy="295.7" r="1.6" fill="#fff" stroke="#222" stroke-width="0.7"/>
<circle cx="60.79" cy="303.1" r="1.6" fill="#fff" stroke="#222" stroke-width="0.7"/>
<circle cx="66.98" cy="300.4" r="1.6" fill="#fff" stroke="#222" stroke-width="0.7"/>
<circle cx="73.17" cy="297" r="1.6" fill="#fff" stroke="#222" stroke-width="0.7"/>
<circle cx="79.36" cy="297.5" r="1.6" fill="#fff" stroke="#222" stroke-width="0.7"/>
<circle cx="85.55" cy="299.1" r="1.6" fill="#fff" stroke="#222" stroke-width="0.7"/>
<circle cx="91.74" cy="301.8" r="1.6" fill="#fff" stroke="#222" stroke-width="0.7"/>
<circle cx="97.93" cy="297.5" r="1.6" fill="#fff" stroke="#222" stroke-width="0.7"/>
<circle cx="104.12" cy="297.1" r="1.6" fill="#fff" stroke="#222" stroke-width="0.7"/>
<circle cx="110.31" cy="300.9" r="1.6" fill="#fff" stroke="#222" stroke-width="0.7"/>
<circle cx="116.5" cy="303.1" r="1.6" fill="#fff" stroke="#222" stroke-width="0.7"/>
<circle cx="122.69" cy="305.5" r="1.6" fill="#fff" stroke="#222" stroke-width="0.7"/>
<circle cx="128.88" cy="298.3" r="1.6" fill="#fff" stroke="#222" stroke-width="0.7"/>
<circle cx="135.07" cy="304.3" r="1.6" fill="#fff" stroke="#222" stroke-width="0.7"/>
<circle cx="141.26" cy="305.4" r="1.6" fill="#fff" stroke="#222" stroke-width="0.7"/>
<circle cx="147.45" cy="296" r="1.6" fill="#fff" stroke="#222" stroke-width="0.7"/>
<circle cx="153.64" cy="302.7" r="1.6" fill="#fff" stroke="#222" stroke-width="0.7"/>
<circle cx="159.83" cy="300.3" r="1.6" fill="#fff" stroke="#222" stroke-width="0.7"/>
<circle cx="166.02" cy="301.1" r="1.6" fill="#fff" stroke="#222" stroke-width="0.7"/>
<circle cx="172.21" cy="302.7" r="1.6" fill="#fff" stroke="#222" stroke-width="0.7"/>
<circle cx="178.4" cy="296.7" r="1.6" fill="#fff" stroke="#222" stroke-width="0.7"/>
<circle cx="184.59" cy="300.7" r="1.6" fill="#fff" stroke="#222" stroke-width="0.7"/>
<circle cx="190.78" cy="299.2" r="1.6" fill="#fff" stroke="#222" stroke-width="0.7"/>
<circle cx="196.97" cy="299.2" r="1.6" fill="#fff" stroke="#222" stroke-width="0.7"/>
<circle cx="203.16" cy="301.4" r="1.6" fill="#fff" stroke="#222" stroke-width="0.7"/>
<circle cx="209.35" cy="300" r="1.6" fill="#fff" stroke="#222" stroke-width="0.7"/>
<circle cx="215.54" cy="303.3" r="1.6" fill="#fff" stroke="#222" stroke-width="0.7"/>
<circle cx="221.73" cy="303.3" r="1.6" fill="#fff" stroke="#222" stroke-width="0.7"/>
<circle cx="227.92" cy="300" r="1.6" fill="#fff" stroke="#222" stroke-width="0.7"/>
<circle cx="234.11" cy="300" r="1.6" fill="#fff" stroke="#222" stroke-width="0.7"/>
<circle cx="240.3" cy="298" r="1.6" fill="#fff" stroke="#222" stroke-width="0.7"/>
<line x1="66.98" y1="294.4" x2="66.98" y2="293" stroke="#bbb" stroke-width="0.8"/>
<line x1="65.48" y1="293" x2="68.48" y2="293" stroke="#bbb" stroke-width="0.8"/>
<line x1="73.17" y1="291.4" x2="73.17" y2="287.7" stroke="#bbb" stroke-width="0.8"/>
<line x1="71.67" y1="287.7" x2="74.67" y2="287.7" stroke="#bbb" stroke-width="0.8"/>
<line x1="79.36" y1="289" x2="79.36" y2="285" stroke="#bbb" stroke-width="0.8"/>
<line x1="77.86" y1="285" x2="80.86" y2="285" stroke="#bbb" stroke-width="0.8"/>
<line x1="85.55" y1="295" x2="85.55" y2="291.7" stroke="#bbb" stroke-width="0.8"/>
<line x1="84.05" y1="291.7" x2="87.05" y2="291.7" stroke="#bbb" stroke-width="0.8"/>
<line x1="91.74" y1="293.7" x2="91.74" y2="289.7" stroke="#bbb" stroke-width="0.8"/>
<line x1="90.24" y1="289.7" x2="93.24" y2="289.7" stroke="#bbb" stroke-width="0.8"/>
<line x1="97.93" y1="290.5" x2="97.93" y2="288.4" stroke="#bbb" stroke-width="0.8"/>
<line x1="96.43" y1="288.4" x2="99.43" y2="288.4" stroke="#bbb" stroke-width="0.8"/>
<line x1="104.12" y1="284.8" x2="104.12" y2="280.6" stroke="#bbb" stroke-width="0.8"/>
<line x1="102.62" y1="280.6" x2="105.62" y2="280.6" stroke="#bbb" stroke-width="0.8"/>
<line x1="110.31" y1="292.4" x2="110.31" y2="290" stroke="#bbb" stroke-width="0.8"/>
<line x1="108.81" y1="290" x2="111.81" y2="290" stroke="#bbb" stroke-width="0.8"/>
<line x1="116.5" y1="284" x2="116.5" y2="279" stroke="#bbb" stroke-width="0.8"/>
<line x1="115" y1="279" x2="118" y2="279" stroke="#bbb" stroke-width="0.8"/>
<line x1="122.69" y1="289.6" x2="122.69" y2="285" stroke="#bbb" stroke-width="0.8"/>
<line x1="121.19" y1="285" x2="124.19" y2="285" stroke="#bbb" stroke-width="0.8"/>
<line x1="128.88" y1="292" x2="128.88" y2="284.7" stroke="#bbb" stroke-width="0.8"/>
<line x1="127.38" y1="284.7" x2="130.38" y2="284.7" stroke="#bbb" stroke-width="0.8"/>
<line x1="135.07" y1="295.6" x2="135.07" y2="291" stroke="#bbb" stroke-width="0.8"/>
<line x1="133.57" y1="291" x2="136.57" y2="291" stroke="#bbb" stroke-width="0.8"/>
<line x1="141.26" y1="291.2" x2="141.26" y2="287" stroke="#bbb" stroke-width="0.8"/>
<line x1="139.76" y1="287" x2="142.76" y2="287" stroke="#bbb" stroke-width="0.8"/>
<line x1="147.45" y1="280.3" x2="147.45" y2="275" stroke="#bbb" stroke-width="0.8"/>
<line x1="145.95" y1="275" x2="148.95" y2="275" stroke="#bbb" stroke-width="0.8"/>
<line x1="153.64" y1="295" x2="153.64" y2="290.4" stroke="#bbb" stroke-width="0.8"/>
<line x1="152.14" y1="290.4" x2="155.14" y2="290.4" stroke="#bbb" stroke-width="0.8"/>
<line x1="159.83" y1="290.8" x2="159.83" y2="284" stroke="#bbb" stroke-width="0.8"/>
<line x1="158.33" y1="284" x2="161.33" y2="284" stroke="#bbb" stroke-width="0.8"/>
<line x1="166.02" y1="294.4" x2="166.02" y2="289.2" stroke="#bbb" stroke-width="0.8"/>
<line x1="164.52" y1="289.2" x2="167.52" y2="289.2" stroke="#bbb" stroke-width="0.8"/>
<line x1="172.21" y1="293.5" x2="172.21" y2="289.5" stroke="#bbb" stroke-width="0.8"/>
<line x1="170.71" y1="289.5" x2="173.71" y2="289.5" stroke="#bbb" stroke-width="0.8"/>
<line x1="178.4" y1="300" x2="178.4" y2="296" stroke="#bbb" stroke-width="0.8"/>
<line x1="176.9" y1="296" x2="179.9" y2="296" stroke="#bbb" stroke-width="0.8"/>
<line x1="184.59" y1="297.9" x2="184.59" y2="294" stroke="#bbb" stroke-width="0.8"/>
<line x1="183.09" y1="294" x2="186.09" y2="294" stroke="#bbb" stroke-width="0.8"/>
<line x1="190.78" y1="294.9" x2="190.78" y2="291" stroke="#bbb" stroke-width="0.8"/>
<line x1="189.28" y1="291" x2="192.28" y2="291" stroke="#bbb" stroke-width="0.8"/>
<line x1="196.97" y1="294" x2="196.97" y2="290" stroke="#bbb" stroke-width="0.8"/>
<line x1="195.47" y1="290" x2="198.47" y2="290" stroke="#bbb" stroke-width="0.8"/>
<line x1="203.16" y1="294.9" x2="203.16" y2="291" stroke="#bbb" stroke-width="0.8"/>
<line x1="201.66" y1="291" x2="204.66" y2="291" stroke="#bbb" stroke-width="0.8"/>
<line x1="209.35" y1="295.9" x2="209.35" y2="292" stroke="#bbb" stroke-width="0.8"/>
<line x1="207.85" y1="292" x2="210.85" y2="292" stroke="#bbb" stroke-width="0.8"/>
<line x1="215.54" y1="295.9" x2="215.54" y2="292" stroke="#bbb" stroke-width="0.8"/>
<line x1="214.04" y1="292" x2="217.04" y2="292" stroke="#bbb" stroke-width="0.8"/>
<line x1="221.73" y1="297.7" x2="221.73" y2="293" stroke="#bbb" stroke-width="0.8"/>
<line x1="220.23" y1="293" x2="223.23" y2="293" stroke="#bbb" stroke-width="0.8"/>
<line x1="227.92" y1="296.5" x2="227.92" y2="293" stroke="#bbb" stroke-width="0.8"/>
<line x1="226.42" y1="293" x2="229.42" y2="293" stroke="#bbb" stroke-width="0.8"/>
<line x1="234.11" y1="296" x2="234.11" y2="292" stroke="#bbb" stroke-width="0.8"/>
<line x1="232.61" y1="292" x2="235.61" y2="292" stroke="#bbb" stroke-width="0.8"/>
<line x1="240.3" y1="295" x2="240.3" y2="291" stroke="#bbb" stroke-width="0.8"/>
<line x1="238.8" y1="291" x2="241.8" y2="291" stroke="#bbb" stroke-width="0.8"/>
<polyline points="54.6,295.7 60.79,295.7 66.98,294.4 73.17,291.4 79.36,289 85.55,295 91.74,293.7 97.93,290.5 104.12,284.8 110.31,292.4 116.5,284 122.69,289.6 128.88,292 135.07,295.6 141.26,291.2 147.45,280.3 153.64,295 159.83,290.8 166.02,294.4 172.21,293.5 178.4,300 184.59,297.9 190.78,294.9 196.97,294 203.16,294.9 209.35,295.9 215.54,295.9 221.73,297.7 227.92,296.5 234.11,296 240.3,295" fill="none" stroke="#bbb" stroke-width="0.9" stroke-linejoin="round"/>
<circle cx="54.6" cy="295.7" r="1.5" fill="#bbb"/>
<circle cx="60.79" cy="295.7" r="1.5" fill="#bbb"/>
<circle cx="66.98" cy="294.4" r="1.5" fill="#bbb"/>
<circle cx="73.17" cy="291.4" r="1.5" fill="#bbb"/>
<circle cx="79.36" cy="289" r="1.5" fill="#bbb"/>
<circle cx="85.55" cy="295" r="1.5" fill="#bbb"/>
<circle cx="91.74" cy="293.7" r="1.5" fill="#bbb"/>
<circle cx="97.93" cy="290.5" r="1.5" fill="#bbb"/>
<circle cx="104.12" cy="284.8" r="1.5" fill="#bbb"/>
<circle cx="110.31" cy="292.4" r="1.5" fill="#bbb"/>
<circle cx="116.5" cy="284" r="1.5" fill="#bbb"/>
<circle cx="122.69" cy="289.6" r="1.5" fill="#bbb"/>
<circle cx="128.88" cy="292" r="1.5" fill="#bbb"/>
<circle cx="135.07" cy="295.6" r="1.5" fill="#bbb"/>
<circle cx="141.26" cy="291.2" r="1.5" fill="#bbb"/>
<circle cx="147.45" cy="280.3" r="1.5" fill="#bbb"/>
<circle cx="153.64" cy="295" r="1.5" fill="#bbb"/>
<circle cx="159.83" cy="290.8" r="1.5" fill="#bbb"/>
<circle cx="166.02" cy="294.4" r="1.5" fill="#bbb"/>
<circle cx="172.21" cy="293.5" r="1.5" fill="#bbb"/>
<circle cx="178.4" cy="300" r="1.5" fill="#bbb"/>
<circle cx="184.59" cy="297.9" r="1.5" fill="#bbb"/>
<circle cx="190.78" cy="294.9" r="1.5" fill="#bbb"/>
<circle cx="196.97" cy="294" r="1.5" fill="#bbb"/>
<circle cx="203.16" cy="294.9" r="1.5" fill="#bbb"/>
<circle cx="209.35" cy="295.9" r="1.5" fill="#bbb"/>
<circle cx="215.54" cy="295.9" r="1.5" fill="#bbb"/>
<circle cx="221.73" cy="297.7" r="1.5" fill="#bbb"/>
<circle cx="227.92" cy="296.5" r="1.5" fill="#bbb"/>
<circle cx="234.11" cy="296" r="1.5" fill="#bbb"/>
<circle cx="240.3" cy="295" r="1.5" fill="#bbb"/>
<line x1="73.17" y1="270.8" x2="73.17" y2="266" stroke="#111" stroke-width="0.9"/>
<line x1="71.57" y1="266" x2="74.77" y2="266" stroke="#111" stroke-width="0.9"/>
<line x1="79.36" y1="270" x2="79.36" y2="265.5" stroke="#111" stroke-width="0.9"/>
<line x1="77.76" y1="265.5" x2="80.96" y2="265.5" stroke="#111" stroke-width="0.9"/>
<line x1="85.55" y1="277.1" x2="85.55" y2="268.4" stroke="#111" stroke-width="0.9"/>
<line x1="83.95" y1="268.4" x2="87.15" y2="268.4" stroke="#111" stroke-width="0.9"/>
<line x1="91.74" y1="274.8" x2="91.74" y2="267.2" stroke="#111" stroke-width="0.9"/>
<line x1="90.14" y1="267.2" x2="93.34" y2="267.2" stroke="#111" stroke-width="0.9"/>
<line x1="97.93" y1="278.7" x2="97.93" y2="268.4" stroke="#111" stroke-width="0.9"/>
<line x1="96.33" y1="268.4" x2="99.53" y2="268.4" stroke="#111" stroke-width="0.9"/>
<line x1="104.12" y1="266.8" x2="104.12" y2="255.6" stroke="#111" stroke-width="0.9"/>
<line x1="102.52" y1="255.6" x2="105.72" y2="255.6" stroke="#111" stroke-width="0.9"/>
<line x1="110.31" y1="277.5" x2="110.31" y2="266.4" stroke="#111" stroke-width="0.9"/>
<line x1="108.71" y1="266.4" x2="111.91" y2="266.4" stroke="#111" stroke-width="0.9"/>
<line x1="116.5" y1="275.9" x2="116.5" y2="270.8" stroke="#111" stroke-width="0.9"/>
<line x1="114.9" y1="270.8" x2="118.1" y2="270.8" stroke="#111" stroke-width="0.9"/>
<line x1="122.69" y1="278.7" x2="122.69" y2="272.7" stroke="#111" stroke-width="0.9"/>
<line x1="121.09" y1="272.7" x2="124.29" y2="272.7" stroke="#111" stroke-width="0.9"/>
<line x1="128.88" y1="271.2" x2="128.88" y2="264.9" stroke="#111" stroke-width="0.9"/>
<line x1="127.28" y1="264.9" x2="130.48" y2="264.9" stroke="#111" stroke-width="0.9"/>
<line x1="135.07" y1="284" x2="135.07" y2="274.8" stroke="#111" stroke-width="0.9"/>
<line x1="133.47" y1="274.8" x2="136.67" y2="274.8" stroke="#111" stroke-width="0.9"/>
<line x1="141.26" y1="281.6" x2="141.26" y2="273.6" stroke="#111" stroke-width="0.9"/>
<line x1="139.66" y1="273.6" x2="142.86" y2="273.6" stroke="#111" stroke-width="0.9"/>
<line x1="147.45" y1="273.2" x2="147.45" y2="264.9" stroke="#111" stroke-width="0.9"/>
<line x1="145.85" y1="264.9" x2="149.05" y2="264.9" stroke="#111" stroke-width="0.9"/>
<line x1="153.64" y1="283.1" x2="153.64" y2="276" stroke="#111" stroke-width="0.9"/>
<line x1="152.04" y1="276" x2="155.24" y2="276" stroke="#111" stroke-width="0.9"/>
<line x1="159.83" y1="283.2" x2="159.83" y2="277.9" stroke="#111" stroke-width="0.9"/>
<line x1="158.23" y1="277.9" x2="161.43" y2="277.9" stroke="#111" stroke-width="0.9"/>
<line x1="166.02" y1="284" x2="166.02" y2="280.3" stroke="#111" stroke-width="0.9"/>
<line x1="164.42" y1="280.3" x2="167.62" y2="280.3" stroke="#111" stroke-width="0.9"/>
<line x1="172.21" y1="284" x2="172.21" y2="281.1" stroke="#111" stroke-width="0.9"/>
<line x1="170.61" y1="281.1" x2="173.81" y2="281.1" stroke="#111" stroke-width="0.9"/>
<line x1="184.59" y1="285.4" x2="184.59" y2="281" stroke="#111" stroke-width="0.9"/>
<line x1="182.99" y1="281" x2="186.19" y2="281" stroke="#111" stroke-width="0.9"/>
<line x1="190.78" y1="290.3" x2="190.78" y2="288" stroke="#111" stroke-width="0.9"/>
<line x1="189.18" y1="288" x2="192.38" y2="288" stroke="#111" stroke-width="0.9"/>
<line x1="196.97" y1="282.8" x2="196.97" y2="276.3" stroke="#111" stroke-width="0.9"/>
<line x1="195.37" y1="276.3" x2="198.57" y2="276.3" stroke="#111" stroke-width="0.9"/>
<line x1="203.16" y1="284.3" x2="203.16" y2="281" stroke="#111" stroke-width="0.9"/>
<line x1="201.56" y1="281" x2="204.76" y2="281" stroke="#111" stroke-width="0.9"/>
<line x1="209.35" y1="287.5" x2="209.35" y2="283.8" stroke="#111" stroke-width="0.9"/>
<line x1="207.75" y1="283.8" x2="210.95" y2="283.8" stroke="#111" stroke-width="0.9"/>
<line x1="215.54" y1="294" x2="215.54" y2="288.8" stroke="#111" stroke-width="0.9"/>
<line x1="213.94" y1="288.8" x2="217.14" y2="288.8" stroke="#111" stroke-width="0.9"/>
<line x1="221.73" y1="268.9" x2="221.73" y2="256.4" stroke="#111" stroke-width="0.9"/>
<line x1="220.13" y1="256.4" x2="223.33" y2="256.4" stroke="#111" stroke-width="0.9"/>
<line x1="234.11" y1="288.8" x2="234.11" y2="283.8" stroke="#111" stroke-width="0.9"/>
<line x1="232.51" y1="283.8" x2="235.71" y2="283.8" stroke="#111" stroke-width="0.9"/>
<line x1="240.3" y1="286.2" x2="240.3" y2="281.3" stroke="#111" stroke-width="0.9"/>
<line x1="238.7" y1="281.3" x2="241.9" y2="281.3" stroke="#111" stroke-width="0.9"/>
<polyline points="54.6,296 60.79,292.3 66.98,291.5 73.17,270.8 79.36,270 85.55,277.1 91.74,274.8 97.93,278.7 104.12,266.8 110.31,277.5 116.5,275.9 122.69,278.7 128.88,271.2 135.07,284 141.26,281.6 147.45,273.2 153.64,283.1 159.83,283.2 166.02,284 172.21,284 178.4,293.1 184.59,285.4 190.78,290.3 196.97,282.8 203.16,284.3 209.35,287.5 215.54,294 221.73,268.9 227.92,293.6 234.11,288.8 240.3,286.2" fill="none" stroke="#111" stroke-width="1" stroke-linejoin="round"/>
<circle cx="54.6" cy="296" r="1.7" fill="#111"/>
<circle cx="60.79" cy="292.3" r="1.7" fill="#111"/>
<circle cx="66.98" cy="291.5" r="1.7" fill="#111"/>
<circle cx="73.17" cy="270.8" r="1.7" fill="#111"/>
<circle cx="79.36" cy="270" r="1.7" fill="#111"/>
<circle cx="85.55" cy="277.1" r="1.7" fill="#111"/>
<circle cx="91.74" cy="274.8" r="1.7" fill="#111"/>
<circle cx="97.93" cy="278.7" r="1.7" fill="#111"/>
<circle cx="104.12" cy="266.8" r="1.7" fill="#111"/>
<circle cx="110.31" cy="277.5" r="1.7" fill="#111"/>
<circle cx="116.5" cy="275.9" r="1.7" fill="#111"/>
<circle cx="122.69" cy="278.7" r="1.7" fill="#111"/>
<circle cx="128.88" cy="271.2" r="1.7" fill="#111"/>
<circle cx="135.07" cy="284" r="1.7" fill="#111"/>
<circle cx="141.26" cy="281.6" r="1.7" fill="#111"/>
<circle cx="147.45" cy="273.2" r="1.7" fill="#111"/>
<circle cx="153.64" cy="283.1" r="1.7" fill="#111"/>
<circle cx="159.83" cy="283.2" r="1.7" fill="#111"/>
<circle cx="166.02" cy="284" r="1.7" fill="#111"/>
<circle cx="172.21" cy="284" r="1.7" fill="#111"/>
<circle cx="178.4" cy="293.1" r="1.7" fill="#111"/>
<circle cx="184.59" cy="285.4" r="1.7" fill="#111"/>
<circle cx="190.78" cy="290.3" r="1.7" fill="#111"/>
<circle cx="196.97" cy="282.8" r="1.7" fill="#111"/>
<circle cx="203.16" cy="284.3" r="1.7" fill="#111"/>
<circle cx="209.35" cy="287.5" r="1.7" fill="#111"/>
<circle cx="215.54" cy="294" r="1.7" fill="#111"/>
<circle cx="221.73" cy="268.9" r="1.7" fill="#111"/>
<circle cx="227.92" cy="293.6" r="1.7" fill="#111"/>
<circle cx="234.11" cy="288.8" r="1.7" fill="#111"/>
<circle cx="240.3" cy="286.2" r="1.7" fill="#111"/>
<line x1="202.4" y1="204" x2="207.5" y2="204" stroke="#aaa" stroke-width="0.9"/>
<line x1="210.3" y1="204" x2="213.1" y2="204" stroke="#aaa" stroke-width="0.9"/>
<circle cx="207.5" cy="204" r="1.4" fill="#fff" stroke="#aaa" stroke-width="0.8"/>
<text transform="translate(218.2 204) scale(0.9091 1)" font-size="8.09" text-anchor="start" font-family="'Liberation Sans', sans-serif" fill="#222" dy="0.35em">MC4R KO Veh</text>
<line x1="202.4" y1="216" x2="207.5" y2="216" stroke="#222" stroke-width="0.9"/>
<line x1="210.3" y1="216" x2="213.1" y2="216" stroke="#222" stroke-width="0.9"/>
<circle cx="207.5" cy="216" r="1.4" fill="#fff" stroke="#222" stroke-width="0.8"/>
<text transform="translate(218.2 216) scale(0.9091 1)" font-size="8.09" text-anchor="start" font-family="'Liberation Sans', sans-serif" fill="#222" dy="0.35em">DIO Veh</text>
<line x1="202.4" y1="229.6" x2="213.1" y2="229.6" stroke="#111" stroke-width="1.62"/>
<circle cx="207.5" cy="229.6" r="1.82" fill="#111"/>
<text transform="translate(218.2 229.6) scale(0.9091 1)" font-size="8.09" text-anchor="start" font-family="'Liberation Sans', sans-serif" fill="#222" dy="0.35em">DIO AMPH</text>
<line x1="202.4" y1="244.2" x2="213.1" y2="244.2" stroke="#bbb" stroke-width="0.9"/>
<circle cx="207.5" cy="244.2" r="1.4" fill="#bbb"/>
<text transform="translate(218.2 244.2) scale(0.9091 1)" font-size="8.09" text-anchor="start" font-family="'Liberation Sans', sans-serif" fill="#222" dy="0.35em">MC4R KO AMPH</text>
<line x1="261.5" y1="214.9" x2="261.5" y2="231.5" stroke="#222" stroke-width="1.2"/>
<text x="266.2" y="229.97" font-size="12.5" font-weight="bold" text-anchor="middle" font-family="'Liberation Sans', sans-serif" fill="#111">*</text>
<text x="270.5" y="229.97" font-size="12.5" font-weight="bold" text-anchor="middle" font-family="'Liberation Sans', sans-serif" fill="#111">*</text>
<text transform="translate(283.2 227) scale(0.9259 1)" font-size="14.69" text-anchor="start" font-family="'Liberation Sans', sans-serif" font-weight="bold" fill="#111" dy="0">D</text>
<line x1="310.5" y1="236.62" x2="310.5" y2="317.32" stroke="#222" stroke-width="0.9"/>
<line x1="307.5" y1="317.32" x2="310.5" y2="317.32" stroke="#111" stroke-width="1"/>
<text transform="translate(306.1 317.32) scale(0.8000 1)" font-size="7.5" text-anchor="end" font-family="'Liberation Serif', serif" fill="#222" dy="0.35em">-15</text>
<line x1="307.5" y1="301.18" x2="310.5" y2="301.18" stroke="#111" stroke-width="1"/>
<text transform="translate(306.1 301.18) scale(0.8000 1)" font-size="7.5" text-anchor="end" font-family="'Liberation Serif', serif" fill="#222" dy="0.35em">-10</text>
<line x1="307.5" y1="285.04" x2="310.5" y2="285.04" stroke="#111" stroke-width="1"/>
<text transform="translate(306.1 285.04) scale(0.8000 1)" font-size="7.5" text-anchor="end" font-family="'Liberation Serif', serif" fill="#222" dy="0.35em">-5</text>
<line x1="307.5" y1="268.9" x2="310.5" y2="268.9" stroke="#111" stroke-width="1"/>
<text transform="translate(306.1 268.9) scale(0.8000 1)" font-size="7.5" text-anchor="end" font-family="'Liberation Serif', serif" fill="#222" dy="0.35em">0</text>
<line x1="307.5" y1="252.76" x2="310.5" y2="252.76" stroke="#111" stroke-width="1"/>
<text transform="translate(306.1 252.76) scale(0.8000 1)" font-size="7.5" text-anchor="end" font-family="'Liberation Serif', serif" fill="#222" dy="0.35em">5</text>
<line x1="307.5" y1="236.62" x2="310.5" y2="236.62" stroke="#111" stroke-width="1"/>
<text transform="translate(306.1 236.62) scale(0.8000 1)" font-size="7.5" text-anchor="end" font-family="'Liberation Serif', serif" fill="#222" dy="0.35em">10</text>
<line x1="310.5" y1="317.32" x2="391.4" y2="317.32" stroke="#222" stroke-width="0.9"/>
<line x1="322.6" y1="317.32" x2="322.6" y2="320.32" stroke="#222" stroke-width="0.9"/>
<line x1="341.3" y1="317.32" x2="341.3" y2="320.32" stroke="#222" stroke-width="0.9"/>
<line x1="360" y1="317.32" x2="360" y2="320.32" stroke="#222" stroke-width="0.9"/>
<line x1="378.6" y1="317.32" x2="378.6" y2="320.32" stroke="#222" stroke-width="0.9"/>
<line x1="310.5" y1="268.9" x2="391.4" y2="268.9" stroke="#777" stroke-width="1.5"/>
<text transform="translate(291.3 276.7) rotate(-90) scale(0.9091 1)" font-size="7.1" text-anchor="middle" font-family="'Liberation Serif', serif" fill="#222" dy="0.35em">Average change in SBP (mmHg)</text>
<text transform="translate(324 326.6) rotate(-45) scale(0.9091 1)" font-size="6.93" text-anchor="end" font-family="'Liberation Serif', serif" fill="#222" dy="0">DIO Veh</text>
<text transform="translate(342.7 326.6) rotate(-45) scale(0.9091 1)" font-size="6.93" text-anchor="end" font-family="'Liberation Serif', serif" fill="#222" dy="0">DIO AMPH</text>
<text transform="translate(361.4 326.6) rotate(-45) scale(0.9091 1)" font-size="6.93" text-anchor="end" font-family="'Liberation Serif', serif" fill="#222" dy="0">MC4R KO Veh</text>
<text transform="translate(380 326.6) rotate(-45) scale(0.9091 1)" font-size="6.93" text-anchor="end" font-family="'Liberation Serif', serif" fill="#222" dy="0">MC4R KO AMPH</text>
<rect x="335.4" y="255.8" width="11.9" height="13.1" fill="#fff" stroke="#111" stroke-width="1"/>
<line x1="341.3" y1="255.8" x2="341.3" y2="251.4" stroke="#111" stroke-width="0.9"/>
<line x1="339.1" y1="251.4" x2="343.5" y2="251.4" stroke="#111" stroke-width="0.9"/>
<circle cx="341.2" cy="241.3" r="1.4" fill="#111"/>
<circle cx="341.5" cy="256.8" r="1.4" fill="#111"/>
<circle cx="336.8" cy="264" r="1.4" fill="#111"/>
<circle cx="345.3" cy="261.1" r="1.4" fill="#111"/>
<circle cx="341.5" cy="260.5" r="1.4" fill="#111"/>
<line x1="318" y1="270" x2="327.5" y2="270" stroke="#111" stroke-width="1"/>
<circle cx="318.2" cy="273.4" r="1.75" fill="#fff" stroke="#222" stroke-width="0.9"/>
<circle cx="323.1" cy="265.6" r="1.75" fill="#fff" stroke="#222" stroke-width="0.9"/>
<circle cx="327.4" cy="273.4" r="1.75" fill="#fff" stroke="#222" stroke-width="0.9"/>
<circle cx="322.8" cy="272.6" r="1.75" fill="#fff" stroke="#222" stroke-width="0.9"/>
<circle cx="359.8" cy="252.6" r="1.75" fill="#fff" stroke="#999" stroke-width="0.85"/>
<circle cx="355.3" cy="261.1" r="1.75" fill="#fff" stroke="#999" stroke-width="0.85"/>
<circle cx="364.6" cy="260" r="1.75" fill="#fff" stroke="#999" stroke-width="0.85"/>
<circle cx="359.8" cy="264.6" r="1.75" fill="#fff" stroke="#999" stroke-width="0.85"/>
<circle cx="355.9" cy="269.9" r="1.75" fill="#fff" stroke="#999" stroke-width="0.85"/>
<circle cx="360.4" cy="269.9" r="1.75" fill="#fff" stroke="#999" stroke-width="0.85"/>
<circle cx="364.6" cy="269.9" r="1.75" fill="#fff" stroke="#999" stroke-width="0.85"/>
<circle cx="359.8" cy="278.4" r="1.75" fill="#fff" stroke="#999" stroke-width="0.85"/>
<circle cx="359.8" cy="281.9" r="1.75" fill="#fff" stroke="#999" stroke-width="0.85"/>
<circle cx="359.8" cy="301.8" r="1.75" fill="#fff" stroke="#999" stroke-width="0.85"/>
<line x1="355" y1="268.7" x2="365" y2="268.7" stroke="#888" stroke-width="1"/>
<line x1="360" y1="268.5" x2="360" y2="264.2" stroke="#888" stroke-width="0.8"/>
<line x1="358.2" y1="264.2" x2="361.8" y2="264.2" stroke="#888" stroke-width="0.8"/>
<line x1="373.5" y1="268.2" x2="384" y2="268.2" stroke="#666" stroke-width="1.2"/>
<line x1="379" y1="268.2" x2="379" y2="261.3" stroke="#888" stroke-width="0.8"/>
<line x1="379" y1="261.3" x2="383.3" y2="261.3" stroke="#888" stroke-width="0.8"/>
<circle cx="374.5" cy="257.4" r="1.4" fill="#888"/>
<circle cx="383.8" cy="258.7" r="1.4" fill="#888"/>
<circle cx="375" cy="260.6" r="1.4" fill="#888"/>
<circle cx="379" cy="269.4" r="1.4" fill="#888"/>
<circle cx="379" cy="289" r="1.4" fill="#888"/>
<line x1="321.5" y1="237" x2="341.3" y2="237" stroke="#222" stroke-width="1.1"/>
<text x="331.4" y="236.96" font-size="11.88" font-weight="bold" text-anchor="middle" font-family="'Liberation Sans', sans-serif" fill="#111">*</text>
<text transform="translate(401.2 226.8) scale(0.9259 1)" font-size="14.69" text-anchor="start" font-family="'Liberation Sans', sans-serif" font-weight="bold" fill="#111" dy="0">E</text>
<line x1="428.6" y1="248.72" x2="428.6" y2="350.18" stroke="#111" stroke-width="1.1"/>
<line x1="424.4" y1="349.68" x2="428.6" y2="349.68" stroke="#111" stroke-width="1.2"/>
<text transform="translate(423.6 349.68) scale(0.9091 1)" font-size="7.59" text-anchor="end" font-family="'Liberation Sans', sans-serif" fill="#222" dy="0.35em">-8</text>
<line x1="424.4" y1="337.06" x2="428.6" y2="337.06" stroke="#111" stroke-width="1.2"/>
<text transform="translate(423.6 337.06) scale(0.9091 1)" font-size="7.59" text-anchor="end" font-family="'Liberation Sans', sans-serif" fill="#222" dy="0.35em">-6</text>
<line x1="424.4" y1="324.44" x2="428.6" y2="324.44" stroke="#111" stroke-width="1.2"/>
<text transform="translate(423.6 324.44) scale(0.9091 1)" font-size="7.59" text-anchor="end" font-family="'Liberation Sans', sans-serif" fill="#222" dy="0.35em">-4</text>
<line x1="424.4" y1="311.82" x2="428.6" y2="311.82" stroke="#111" stroke-width="1.2"/>
<text transform="translate(423.6 311.82) scale(0.9091 1)" font-size="7.59" text-anchor="end" font-family="'Liberation Sans', sans-serif" fill="#222" dy="0.35em">-2</text>
<line x1="424.4" y1="299.2" x2="428.6" y2="299.2" stroke="#111" stroke-width="1.2"/>
<text transform="translate(423.6 299.2) scale(0.9091 1)" font-size="7.59" text-anchor="end" font-family="'Liberation Sans', sans-serif" fill="#222" dy="0.35em">0</text>
<line x1="424.4" y1="286.58" x2="428.6" y2="286.58" stroke="#111" stroke-width="1.2"/>
<text transform="translate(423.6 286.58) scale(0.9091 1)" font-size="7.59" text-anchor="end" font-family="'Liberation Sans', sans-serif" fill="#222" dy="0.35em">2</text>
<line x1="424.4" y1="273.96" x2="428.6" y2="273.96" stroke="#111" stroke-width="1.2"/>
<text transform="translate(423.6 273.96) scale(0.9091 1)" font-size="7.59" text-anchor="end" font-family="'Liberation Sans', sans-serif" fill="#222" dy="0.35em">4</text>
<line x1="424.4" y1="261.34" x2="428.6" y2="261.34" stroke="#111" stroke-width="1.2"/>
<text transform="translate(423.6 261.34) scale(0.9091 1)" font-size="7.59" text-anchor="end" font-family="'Liberation Sans', sans-serif" fill="#222" dy="0.35em">6</text>
<line x1="424.4" y1="248.72" x2="428.6" y2="248.72" stroke="#111" stroke-width="1.2"/>
<text transform="translate(423.6 248.72) scale(0.9091 1)" font-size="7.59" text-anchor="end" font-family="'Liberation Sans', sans-serif" fill="#222" dy="0.35em">8</text>
<line x1="428.6" y1="299.2" x2="612.3" y2="299.2" stroke="#333" stroke-width="1.6"/>
<line x1="431.4" y1="299.2" x2="431.4" y2="302.8" stroke="#222" stroke-width="0.8"/>
<line x1="437.33" y1="299.2" x2="437.33" y2="302.8" stroke="#222" stroke-width="0.8"/>
<line x1="443.26" y1="299.2" x2="443.26" y2="302.8" stroke="#222" stroke-width="0.8"/>
<line x1="449.19" y1="299.2" x2="449.19" y2="302.8" stroke="#222" stroke-width="0.8"/>
<line x1="455.12" y1="299.2" x2="455.12" y2="302.8" stroke="#222" stroke-width="0.8"/>
<line x1="461.05" y1="299.2" x2="461.05" y2="302.8" stroke="#222" stroke-width="0.8"/>
<line x1="466.98" y1="299.2" x2="466.98" y2="302.8" stroke="#222" stroke-width="0.8"/>
<line x1="472.91" y1="299.2" x2="472.91" y2="302.8" stroke="#222" stroke-width="0.8"/>
<line x1="478.84" y1="299.2" x2="478.84" y2="302.8" stroke="#222" stroke-width="0.8"/>
<line x1="484.77" y1="299.2" x2="484.77" y2="302.8" stroke="#222" stroke-width="0.8"/>
<line x1="490.7" y1="299.2" x2="490.7" y2="302.8" stroke="#222" stroke-width="0.8"/>
<line x1="496.63" y1="299.2" x2="496.63" y2="302.8" stroke="#222" stroke-width="0.8"/>
<line x1="502.56" y1="299.2" x2="502.56" y2="302.8" stroke="#222" stroke-width="0.8"/>
<line x1="508.49" y1="299.2" x2="508.49" y2="302.8" stroke="#222" stroke-width="0.8"/>
<line x1="514.42" y1="299.2" x2="514.42" y2="302.8" stroke="#222" stroke-width="0.8"/>
<line x1="520.35" y1="299.2" x2="520.35" y2="302.8" stroke="#222" stroke-width="0.8"/>
<line x1="526.28" y1="299.2" x2="526.28" y2="302.8" stroke="#222" stroke-width="0.8"/>
<line x1="532.21" y1="299.2" x2="532.21" y2="302.8" stroke="#222" stroke-width="0.8"/>
<line x1="538.14" y1="299.2" x2="538.14" y2="302.8" stroke="#222" stroke-width="0.8"/>
<line x1="544.07" y1="299.2" x2="544.07" y2="302.8" stroke="#222" stroke-width="0.8"/>
<line x1="550" y1="299.2" x2="550" y2="302.8" stroke="#222" stroke-width="0.8"/>
<line x1="555.93" y1="299.2" x2="555.93" y2="302.8" stroke="#222" stroke-width="0.8"/>
<line x1="561.86" y1="299.2" x2="561.86" y2="302.8" stroke="#222" stroke-width="0.8"/>
<line x1="567.79" y1="299.2" x2="567.79" y2="302.8" stroke="#222" stroke-width="0.8"/>
<line x1="573.72" y1="299.2" x2="573.72" y2="302.8" stroke="#222" stroke-width="0.8"/>
<line x1="579.65" y1="299.2" x2="579.65" y2="302.8" stroke="#222" stroke-width="0.8"/>
<line x1="585.58" y1="299.2" x2="585.58" y2="302.8" stroke="#222" stroke-width="0.8"/>
<line x1="591.51" y1="299.2" x2="591.51" y2="302.8" stroke="#222" stroke-width="0.8"/>
<line x1="597.44" y1="299.2" x2="597.44" y2="302.8" stroke="#222" stroke-width="0.8"/>
<line x1="603.37" y1="299.2" x2="603.37" y2="302.8" stroke="#222" stroke-width="0.8"/>
<line x1="609.3" y1="299.2" x2="609.3" y2="302.8" stroke="#222" stroke-width="0.8"/>
<text transform="translate(432.4 354.6) rotate(-45) scale(0.9091 1)" font-size="7.48" text-anchor="end" font-family="'Liberation Sans', sans-serif" fill="#222" dy="0">-2</text>
<text transform="translate(438.33 354.6) rotate(-45) scale(0.9091 1)" font-size="7.48" text-anchor="end" font-family="'Liberation Sans', sans-serif" fill="#222" dy="0">-1</text>
<text transform="translate(444.26 354.6) rotate(-45) scale(0.9091 1)" font-size="7.48" text-anchor="end" font-family="'Liberation Sans', sans-serif" fill="#222" dy="0">0</text>
<text transform="translate(450.19 354.6) rotate(-45) scale(0.9091 1)" font-size="7.48" text-anchor="end" font-family="'Liberation Sans', sans-serif" fill="#222" dy="0">1</text>
<text transform="translate(456.12 354.6) rotate(-45) scale(0.9091 1)" font-size="7.48" text-anchor="end" font-family="'Liberation Sans', sans-serif" fill="#222" dy="0">2</text>
<text transform="translate(462.05 354.6) rotate(-45) scale(0.9091 1)" font-size="7.48" text-anchor="end" font-family="'Liberation Sans', sans-serif" fill="#222" dy="0">3</text>
<text transform="translate(467.98 354.6) rotate(-45) scale(0.9091 1)" font-size="7.48" text-anchor="end" font-family="'Liberation Sans', sans-serif" fill="#222" dy="0">4</text>
<text transform="translate(473.91 354.6) rotate(-45) scale(0.9091 1)" font-size="7.48" text-anchor="end" font-family="'Liberation Sans', sans-serif" fill="#222" dy="0">5</text>
<text transform="translate(479.84 354.6) rotate(-45) scale(0.9091 1)" font-size="7.48" text-anchor="end" font-family="'Liberation Sans', sans-serif" fill="#222" dy="0">6</text>
<text transform="translate(485.77 354.6) rotate(-45) scale(0.9091 1)" font-size="7.48" text-anchor="end" font-family="'Liberation Sans', sans-serif" fill="#222" dy="0">7</text>
<text transform="translate(491.7 354.6) rotate(-45) scale(0.9091 1)" font-size="7.48" text-anchor="end" font-family="'Liberation Sans', sans-serif" fill="#222" dy="0">8</text>
<text transform="translate(497.63 354.6) rotate(-45) scale(0.9091 1)" font-size="7.48" text-anchor="end" font-family="'Liberation Sans', sans-serif" fill="#222" dy="0">9</text>
<text transform="translate(503.56 354.6) rotate(-45) scale(0.9091 1)" font-size="7.48" text-anchor="end" font-family="'Liberation Sans', sans-serif" fill="#222" dy="0">10</text>
<text transform="translate(509.49 354.6) rotate(-45) scale(0.9091 1)" font-size="7.48" text-anchor="end" font-family="'Liberation Sans', sans-serif" fill="#222" dy="0">11</text>
<text transform="translate(515.42 354.6) rotate(-45) scale(0.9091 1)" font-size="7.48" text-anchor="end" font-family="'Liberation Sans', sans-serif" fill="#222" dy="0">12</text>
<text transform="translate(521.35 354.6) rotate(-45) scale(0.9091 1)" font-size="7.48" text-anchor="end" font-family="'Liberation Sans', sans-serif" fill="#222" dy="0">13</text>
<text transform="translate(527.28 354.6) rotate(-45) scale(0.9091 1)" font-size="7.48" text-anchor="end" font-family="'Liberation Sans', sans-serif" fill="#222" dy="0">14</text>
<text transform="translate(533.21 354.6) rotate(-45) scale(0.9091 1)" font-size="7.48" text-anchor="end" font-family="'Liberation Sans', sans-serif" fill="#222" dy="0">15</text>
<text transform="translate(539.14 354.6) rotate(-45) scale(0.9091 1)" font-size="7.48" text-anchor="end" font-family="'Liberation Sans', sans-serif" fill="#222" dy="0">16</text>
<text transform="translate(545.07 354.6) rotate(-45) scale(0.9091 1)" font-size="7.48" text-anchor="end" font-family="'Liberation Sans', sans-serif" fill="#222" dy="0">17</text>
<text transform="translate(551 354.6) rotate(-45) scale(0.9091 1)" font-size="7.48" text-anchor="end" font-family="'Liberation Sans', sans-serif" fill="#222" dy="0">18</text>
<text transform="translate(556.93 354.6) rotate(-45) scale(0.9091 1)" font-size="7.48" text-anchor="end" font-family="'Liberation Sans', sans-serif" fill="#222" dy="0">19</text>
<text transform="translate(562.86 354.6) rotate(-45) scale(0.9091 1)" font-size="7.48" text-anchor="end" font-family="'Liberation Sans', sans-serif" fill="#222" dy="0">20</text>
<text transform="translate(568.79 354.6) rotate(-45) scale(0.9091 1)" font-size="7.48" text-anchor="end" font-family="'Liberation Sans', sans-serif" fill="#222" dy="0">21</text>
<text transform="translate(574.72 354.6) rotate(-45) scale(0.9091 1)" font-size="7.48" text-anchor="end" font-family="'Liberation Sans', sans-serif" fill="#222" dy="0">22</text>
<text transform="translate(580.65 354.6) rotate(-45) scale(0.9091 1)" font-size="7.48" text-anchor="end" font-family="'Liberation Sans', sans-serif" fill="#222" dy="0">23</text>
<text transform="translate(586.58 354.6) rotate(-45) scale(0.9091 1)" font-size="7.48" text-anchor="end" font-family="'Liberation Sans', sans-serif" fill="#222" dy="0">24</text>
<text transform="translate(592.51 354.6) rotate(-45) scale(0.9091 1)" font-size="7.48" text-anchor="end" font-family="'Liberation Sans', sans-serif" fill="#222" dy="0">25</text>
<text transform="translate(598.44 354.6) rotate(-45) scale(0.9091 1)" font-size="7.48" text-anchor="end" font-family="'Liberation Sans', sans-serif" fill="#222" dy="0">26</text>
<text transform="translate(604.37 354.6) rotate(-45) scale(0.9091 1)" font-size="7.48" text-anchor="end" font-family="'Liberation Sans', sans-serif" fill="#222" dy="0">27</text>
<text transform="translate(610.3 354.6) rotate(-45) scale(0.9091 1)" font-size="7.48" text-anchor="end" font-family="'Liberation Sans', sans-serif" fill="#222" dy="0">28</text>
<text transform="translate(404.5 300.4) rotate(-90) scale(0.9091 1)" font-size="7.76" text-anchor="middle" font-family="'Liberation Sans', sans-serif" fill="#222" dy="0.35em">Locomotor Activity Change (Arbitrary Units)</text>
<rect x="446.9" y="317.6" width="165.1" height="23.2" fill="#bcbdc1" stroke="none" stroke-width="0"/>
<text transform="translate(568 327) scale(0.9091 1)" font-size="7.76" text-anchor="middle" font-family="'Liberation Sans', sans-serif" fill="#222" dy="0.35em">Treatment period</text>
<text transform="translate(520.5 371.7) scale(0.9091 1)" font-size="7.81" text-anchor="middle" font-family="'Liberation Sans', sans-serif" fill="#222" dy="0.35em">Days</text>
<line x1="431.4" y1="299.1" x2="431.4" y2="301.6" stroke="#aaa" stroke-width="0.7"/>
<line x1="429.9" y1="301.6" x2="432.9" y2="301.6" stroke="#aaa" stroke-width="0.7"/>
<line x1="437.33" y1="300.5" x2="437.33" y2="303" stroke="#aaa" stroke-width="0.7"/>
<line x1="435.83" y1="303" x2="438.83" y2="303" stroke="#aaa" stroke-width="0.7"/>
<line x1="443.26" y1="301.8" x2="443.26" y2="304.3" stroke="#aaa" stroke-width="0.7"/>
<line x1="441.76" y1="304.3" x2="444.76" y2="304.3" stroke="#aaa" stroke-width="0.7"/>
<line x1="449.19" y1="302.1" x2="449.19" y2="304.6" stroke="#aaa" stroke-width="0.7"/>
<line x1="447.69" y1="304.6" x2="450.69" y2="304.6" stroke="#aaa" stroke-width="0.7"/>
<line x1="455.12" y1="304.1" x2="455.12" y2="306.6" stroke="#aaa" stroke-width="0.7"/>
<line x1="453.62" y1="306.6" x2="456.62" y2="306.6" stroke="#aaa" stroke-width="0.7"/>
<line x1="461.05" y1="304.4" x2="461.05" y2="306.9" stroke="#aaa" stroke-width="0.7"/>
<line x1="459.55" y1="306.9" x2="462.55" y2="306.9" stroke="#aaa" stroke-width="0.7"/>
<line x1="466.98" y1="303.1" x2="466.98" y2="305.6" stroke="#aaa" stroke-width="0.7"/>
<line x1="465.48" y1="305.6" x2="468.48" y2="305.6" stroke="#aaa" stroke-width="0.7"/>
<line x1="472.91" y1="301.1" x2="472.91" y2="303.6" stroke="#aaa" stroke-width="0.7"/>
<line x1="471.41" y1="303.6" x2="474.41" y2="303.6" stroke="#aaa" stroke-width="0.7"/>
<line x1="478.84" y1="302.1" x2="478.84" y2="304.6" stroke="#aaa" stroke-width="0.7"/>
<line x1="477.34" y1="304.6" x2="480.34" y2="304.6" stroke="#aaa" stroke-width="0.7"/>
<line x1="484.77" y1="301" x2="484.77" y2="303.5" stroke="#aaa" stroke-width="0.7"/>
<line x1="483.27" y1="303.5" x2="486.27" y2="303.5" stroke="#aaa" stroke-width="0.7"/>
<line x1="490.7" y1="300.7" x2="490.7" y2="303.2" stroke="#aaa" stroke-width="0.7"/>
<line x1="489.2" y1="303.2" x2="492.2" y2="303.2" stroke="#aaa" stroke-width="0.7"/>
<line x1="496.63" y1="305.1" x2="496.63" y2="307.6" stroke="#aaa" stroke-width="0.7"/>
<line x1="495.13" y1="307.6" x2="498.13" y2="307.6" stroke="#aaa" stroke-width="0.7"/>
<line x1="502.56" y1="301.4" x2="502.56" y2="303.9" stroke="#aaa" stroke-width="0.7"/>
<line x1="501.06" y1="303.9" x2="504.06" y2="303.9" stroke="#aaa" stroke-width="0.7"/>
<line x1="508.49" y1="301.4" x2="508.49" y2="303.9" stroke="#aaa" stroke-width="0.7"/>
<line x1="506.99" y1="303.9" x2="509.99" y2="303.9" stroke="#aaa" stroke-width="0.7"/>
<line x1="514.42" y1="302.5" x2="514.42" y2="305" stroke="#aaa" stroke-width="0.7"/>
<line x1="512.92" y1="305" x2="515.92" y2="305" stroke="#aaa" stroke-width="0.7"/>
<line x1="520.35" y1="301.5" x2="520.35" y2="304" stroke="#aaa" stroke-width="0.7"/>
<line x1="518.85" y1="304" x2="521.85" y2="304" stroke="#aaa" stroke-width="0.7"/>
<line x1="526.28" y1="303" x2="526.28" y2="305.5" stroke="#aaa" stroke-width="0.7"/>
<line x1="524.78" y1="305.5" x2="527.78" y2="305.5" stroke="#aaa" stroke-width="0.7"/>
<line x1="532.21" y1="302.5" x2="532.21" y2="305" stroke="#aaa" stroke-width="0.7"/>
<line x1="530.71" y1="305" x2="533.71" y2="305" stroke="#aaa" stroke-width="0.7"/>
<line x1="538.14" y1="303.5" x2="538.14" y2="306" stroke="#aaa" stroke-width="0.7"/>
<line x1="536.64" y1="306" x2="539.64" y2="306" stroke="#aaa" stroke-width="0.7"/>
<line x1="544.07" y1="304" x2="544.07" y2="306.5" stroke="#aaa" stroke-width="0.7"/>
<line x1="542.57" y1="306.5" x2="545.57" y2="306.5" stroke="#aaa" stroke-width="0.7"/>
<line x1="550" y1="303" x2="550" y2="305.5" stroke="#aaa" stroke-width="0.7"/>
<line x1="548.5" y1="305.5" x2="551.5" y2="305.5" stroke="#aaa" stroke-width="0.7"/>
<line x1="555.93" y1="302.5" x2="555.93" y2="305" stroke="#aaa" stroke-width="0.7"/>
<line x1="554.43" y1="305" x2="557.43" y2="305" stroke="#aaa" stroke-width="0.7"/>
<line x1="561.86" y1="303.5" x2="561.86" y2="306" stroke="#aaa" stroke-width="0.7"/>
<line x1="560.36" y1="306" x2="563.36" y2="306" stroke="#aaa" stroke-width="0.7"/>
<line x1="567.79" y1="302" x2="567.79" y2="304.5" stroke="#aaa" stroke-width="0.7"/>
<line x1="566.29" y1="304.5" x2="569.29" y2="304.5" stroke="#aaa" stroke-width="0.7"/>
<line x1="573.72" y1="302" x2="573.72" y2="304.5" stroke="#aaa" stroke-width="0.7"/>
<line x1="572.22" y1="304.5" x2="575.22" y2="304.5" stroke="#aaa" stroke-width="0.7"/>
<line x1="579.65" y1="303" x2="579.65" y2="305.5" stroke="#aaa" stroke-width="0.7"/>
<line x1="578.15" y1="305.5" x2="581.15" y2="305.5" stroke="#aaa" stroke-width="0.7"/>
<line x1="585.58" y1="303.5" x2="585.58" y2="306" stroke="#aaa" stroke-width="0.7"/>
<line x1="584.08" y1="306" x2="587.08" y2="306" stroke="#aaa" stroke-width="0.7"/>
<line x1="591.51" y1="302.5" x2="591.51" y2="305" stroke="#aaa" stroke-width="0.7"/>
<line x1="590.01" y1="305" x2="593.01" y2="305" stroke="#aaa" stroke-width="0.7"/>
<line x1="597.44" y1="303" x2="597.44" y2="305.5" stroke="#aaa" stroke-width="0.7"/>
<line x1="595.94" y1="305.5" x2="598.94" y2="305.5" stroke="#aaa" stroke-width="0.7"/>
<line x1="603.37" y1="302.5" x2="603.37" y2="305" stroke="#aaa" stroke-width="0.7"/>
<line x1="601.87" y1="305" x2="604.87" y2="305" stroke="#aaa" stroke-width="0.7"/>
<line x1="609.3" y1="301.5" x2="609.3" y2="304" stroke="#aaa" stroke-width="0.7"/>
<line x1="607.8" y1="304" x2="610.8" y2="304" stroke="#aaa" stroke-width="0.7"/>
<polyline points="431.4,299.1 437.33,300.5 443.26,301.8 449.19,302.1 455.12,304.1 461.05,304.4 466.98,303.1 472.91,301.1 478.84,302.1 484.77,301 490.7,300.7 496.63,305.1 502.56,301.4 508.49,301.4 514.42,302.5 520.35,301.5 526.28,303 532.21,302.5 538.14,303.5 544.07,304 550,303 555.93,302.5 561.86,303.5 567.79,302 573.72,302 579.65,303 585.58,303.5 591.51,302.5 597.44,303 603.37,302.5 609.3,301.5" fill="none" stroke="#aaa" stroke-width="0.8" stroke-linejoin="round"/>
<circle cx="431.4" cy="299.1" r="1.6" fill="#fff" stroke="#aaa" stroke-width="0.7"/>
<circle cx="437.33" cy="300.5" r="1.6" fill="#fff" stroke="#aaa" stroke-width="0.7"/>
<circle cx="443.26" cy="301.8" r="1.6" fill="#fff" stroke="#aaa" stroke-width="0.7"/>
<circle cx="449.19" cy="302.1" r="1.6" fill="#fff" stroke="#aaa" stroke-width="0.7"/>
<circle cx="455.12" cy="304.1" r="1.6" fill="#fff" stroke="#aaa" stroke-width="0.7"/>
<circle cx="461.05" cy="304.4" r="1.6" fill="#fff" stroke="#aaa" stroke-width="0.7"/>
<circle cx="466.98" cy="303.1" r="1.6" fill="#fff" stroke="#aaa" stroke-width="0.7"/>
<circle cx="472.91" cy="301.1" r="1.6" fill="#fff" stroke="#aaa" stroke-width="0.7"/>
<circle cx="478.84" cy="302.1" r="1.6" fill="#fff" stroke="#aaa" stroke-width="0.7"/>
<circle cx="484.77" cy="301" r="1.6" fill="#fff" stroke="#aaa" stroke-width="0.7"/>
<circle cx="490.7" cy="300.7" r="1.6" fill="#fff" stroke="#aaa" stroke-width="0.7"/>
<circle cx="496.63" cy="305.1" r="1.6" fill="#fff" stroke="#aaa" stroke-width="0.7"/>
<circle cx="502.56" cy="301.4" r="1.6" fill="#fff" stroke="#aaa" stroke-width="0.7"/>
<circle cx="508.49" cy="301.4" r="1.6" fill="#fff" stroke="#aaa" stroke-width="0.7"/>
<circle cx="514.42" cy="302.5" r="1.6" fill="#fff" stroke="#aaa" stroke-width="0.7"/>
<circle cx="520.35" cy="301.5" r="1.6" fill="#fff" stroke="#aaa" stroke-width="0.7"/>
<circle cx="526.28" cy="303" r="1.6" fill="#fff" stroke="#aaa" stroke-width="0.7"/>
<circle cx="532.21" cy="302.5" r="1.6" fill="#fff" stroke="#aaa" stroke-width="0.7"/>
<circle cx="538.14" cy="303.5" r="1.6" fill="#fff" stroke="#aaa" stroke-width="0.7"/>
<circle cx="544.07" cy="304" r="1.6" fill="#fff" stroke="#aaa" stroke-width="0.7"/>
<circle cx="550" cy="303" r="1.6" fill="#fff" stroke="#aaa" stroke-width="0.7"/>
<circle cx="555.93" cy="302.5" r="1.6" fill="#fff" stroke="#aaa" stroke-width="0.7"/>
<circle cx="561.86" cy="303.5" r="1.6" fill="#fff" stroke="#aaa" stroke-width="0.7"/>
<circle cx="567.79" cy="302" r="1.6" fill="#fff" stroke="#aaa" stroke-width="0.7"/>
<circle cx="573.72" cy="302" r="1.6" fill="#fff" stroke="#aaa" stroke-width="0.7"/>
<circle cx="579.65" cy="303" r="1.6" fill="#fff" stroke="#aaa" stroke-width="0.7"/>
<circle cx="585.58" cy="303.5" r="1.6" fill="#fff" stroke="#aaa" stroke-width="0.7"/>
<circle cx="591.51" cy="302.5" r="1.6" fill="#fff" stroke="#aaa" stroke-width="0.7"/>
<circle cx="597.44" cy="303" r="1.6" fill="#fff" stroke="#aaa" stroke-width="0.7"/>
<circle cx="603.37" cy="302.5" r="1.6" fill="#fff" stroke="#aaa" stroke-width="0.7"/>
<circle cx="609.3" cy="301.5" r="1.6" fill="#fff" stroke="#aaa" stroke-width="0.7"/>
<line x1="431.4" y1="299.1" x2="431.4" y2="301.6" stroke="#222" stroke-width="0.7"/>
<line x1="429.9" y1="301.6" x2="432.9" y2="301.6" stroke="#222" stroke-width="0.7"/>
<line x1="437.33" y1="300" x2="437.33" y2="302.5" stroke="#222" stroke-width="0.7"/>
<line x1="435.83" y1="302.5" x2="438.83" y2="302.5" stroke="#222" stroke-width="0.7"/>
<line x1="443.26" y1="300.5" x2="443.26" y2="303" stroke="#222" stroke-width="0.7"/>
<line x1="441.76" y1="303" x2="444.76" y2="303" stroke="#222" stroke-width="0.7"/>
<line x1="449.19" y1="300" x2="449.19" y2="302.5" stroke="#222" stroke-width="0.7"/>
<line x1="447.69" y1="302.5" x2="450.69" y2="302.5" stroke="#222" stroke-width="0.7"/>
<line x1="455.12" y1="299.5" x2="455.12" y2="302" stroke="#222" stroke-width="0.7"/>
<line x1="453.62" y1="302" x2="456.62" y2="302" stroke="#222" stroke-width="0.7"/>
<line x1="461.05" y1="301" x2="461.05" y2="303.5" stroke="#222" stroke-width="0.7"/>
<line x1="459.55" y1="303.5" x2="462.55" y2="303.5" stroke="#222" stroke-width="0.7"/>
<line x1="466.98" y1="301" x2="466.98" y2="303.5" stroke="#222" stroke-width="0.7"/>
<line x1="465.48" y1="303.5" x2="468.48" y2="303.5" stroke="#222" stroke-width="0.7"/>
<line x1="472.91" y1="300" x2="472.91" y2="302.5" stroke="#222" stroke-width="0.7"/>
<line x1="471.41" y1="302.5" x2="474.41" y2="302.5" stroke="#222" stroke-width="0.7"/>
<line x1="478.84" y1="299.5" x2="478.84" y2="302" stroke="#222" stroke-width="0.7"/>
<line x1="477.34" y1="302" x2="480.34" y2="302" stroke="#222" stroke-width="0.7"/>
<line x1="484.77" y1="299.5" x2="484.77" y2="302" stroke="#222" stroke-width="0.7"/>
<line x1="483.27" y1="302" x2="486.27" y2="302" stroke="#222" stroke-width="0.7"/>
<line x1="490.7" y1="300" x2="490.7" y2="302.5" stroke="#222" stroke-width="0.7"/>
<line x1="489.2" y1="302.5" x2="492.2" y2="302.5" stroke="#222" stroke-width="0.7"/>
<line x1="496.63" y1="298.4" x2="496.63" y2="300.9" stroke="#222" stroke-width="0.7"/>
<line x1="495.13" y1="300.9" x2="498.13" y2="300.9" stroke="#222" stroke-width="0.7"/>
<line x1="502.56" y1="300" x2="502.56" y2="302.5" stroke="#222" stroke-width="0.7"/>
<line x1="501.06" y1="302.5" x2="504.06" y2="302.5" stroke="#222" stroke-width="0.7"/>
<line x1="508.49" y1="299.5" x2="508.49" y2="302" stroke="#222" stroke-width="0.7"/>
<line x1="506.99" y1="302" x2="509.99" y2="302" stroke="#222" stroke-width="0.7"/>
<line x1="514.42" y1="299.4" x2="514.42" y2="301.9" stroke="#222" stroke-width="0.7"/>
<line x1="512.92" y1="301.9" x2="515.92" y2="301.9" stroke="#222" stroke-width="0.7"/>
<line x1="520.35" y1="298.4" x2="520.35" y2="300.9" stroke="#222" stroke-width="0.7"/>
<line x1="518.85" y1="300.9" x2="521.85" y2="300.9" stroke="#222" stroke-width="0.7"/>
<line x1="526.28" y1="300.5" x2="526.28" y2="303" stroke="#222" stroke-width="0.7"/>
<line x1="524.78" y1="303" x2="527.78" y2="303" stroke="#222" stroke-width="0.7"/>
<line x1="532.21" y1="299.5" x2="532.21" y2="302" stroke="#222" stroke-width="0.7"/>
<line x1="530.71" y1="302" x2="533.71" y2="302" stroke="#222" stroke-width="0.7"/>
<line x1="538.14" y1="300" x2="538.14" y2="302.5" stroke="#222" stroke-width="0.7"/>
<line x1="536.64" y1="302.5" x2="539.64" y2="302.5" stroke="#222" stroke-width="0.7"/>
<line x1="544.07" y1="301" x2="544.07" y2="303.5" stroke="#222" stroke-width="0.7"/>
<line x1="542.57" y1="303.5" x2="545.57" y2="303.5" stroke="#222" stroke-width="0.7"/>
<line x1="550" y1="300.5" x2="550" y2="303" stroke="#222" stroke-width="0.7"/>
<line x1="548.5" y1="303" x2="551.5" y2="303" stroke="#222" stroke-width="0.7"/>
<line x1="555.93" y1="299.5" x2="555.93" y2="302" stroke="#222" stroke-width="0.7"/>
<line x1="554.43" y1="302" x2="557.43" y2="302" stroke="#222" stroke-width="0.7"/>
<line x1="561.86" y1="300.5" x2="561.86" y2="303" stroke="#222" stroke-width="0.7"/>
<line x1="560.36" y1="303" x2="563.36" y2="303" stroke="#222" stroke-width="0.7"/>
<line x1="567.79" y1="300" x2="567.79" y2="302.5" stroke="#222" stroke-width="0.7"/>
<line x1="566.29" y1="302.5" x2="569.29" y2="302.5" stroke="#222" stroke-width="0.7"/>
<line x1="573.72" y1="299.5" x2="573.72" y2="302" stroke="#222" stroke-width="0.7"/>
<line x1="572.22" y1="302" x2="575.22" y2="302" stroke="#222" stroke-width="0.7"/>
<line x1="579.65" y1="300" x2="579.65" y2="302.5" stroke="#222" stroke-width="0.7"/>
<line x1="578.15" y1="302.5" x2="581.15" y2="302.5" stroke="#222" stroke-width="0.7"/>
<line x1="585.58" y1="300.5" x2="585.58" y2="303" stroke="#222" stroke-width="0.7"/>
<line x1="584.08" y1="303" x2="587.08" y2="303" stroke="#222" stroke-width="0.7"/>
<line x1="591.51" y1="299.5" x2="591.51" y2="302" stroke="#222" stroke-width="0.7"/>
<line x1="590.01" y1="302" x2="593.01" y2="302" stroke="#222" stroke-width="0.7"/>
<line x1="597.44" y1="300" x2="597.44" y2="302.5" stroke="#222" stroke-width="0.7"/>
<line x1="595.94" y1="302.5" x2="598.94" y2="302.5" stroke="#222" stroke-width="0.7"/>
<line x1="603.37" y1="299.5" x2="603.37" y2="302" stroke="#222" stroke-width="0.7"/>
<line x1="601.87" y1="302" x2="604.87" y2="302" stroke="#222" stroke-width="0.7"/>
<line x1="609.3" y1="299.5" x2="609.3" y2="302" stroke="#222" stroke-width="0.7"/>
<line x1="607.8" y1="302" x2="610.8" y2="302" stroke="#222" stroke-width="0.7"/>
<polyline points="431.4,299.1 437.33,300 443.26,300.5 449.19,300 455.12,299.5 461.05,301 466.98,301 472.91,300 478.84,299.5 484.77,299.5 490.7,300 496.63,298.4 502.56,300 508.49,299.5 514.42,299.4 520.35,298.4 526.28,300.5 532.21,299.5 538.14,300 544.07,301 550,300.5 555.93,299.5 561.86,300.5 567.79,300 573.72,299.5 579.65,300 585.58,300.5 591.51,299.5 597.44,300 603.37,299.5 609.3,299.5" fill="none" stroke="#222" stroke-width="0.8" stroke-linejoin="round"/>
<circle cx="431.4" cy="299.1" r="1.6" fill="#fff" stroke="#222" stroke-width="0.7"/>
<circle cx="437.33" cy="300" r="1.6" fill="#fff" stroke="#222" stroke-width="0.7"/>
<circle cx="443.26" cy="300.5" r="1.6" fill="#fff" stroke="#222" stroke-width="0.7"/>
<circle cx="449.19" cy="300" r="1.6" fill="#fff" stroke="#222" stroke-width="0.7"/>
<circle cx="455.12" cy="299.5" r="1.6" fill="#fff" stroke="#222" stroke-width="0.7"/>
<circle cx="461.05" cy="301" r="1.6" fill="#fff" stroke="#222" stroke-width="0.7"/>
<circle cx="466.98" cy="301" r="1.6" fill="#fff" stroke="#222" stroke-width="0.7"/>
<circle cx="472.91" cy="300" r="1.6" fill="#fff" stroke="#222" stroke-width="0.7"/>
<circle cx="478.84" cy="299.5" r="1.6" fill="#fff" stroke="#222" stroke-width="0.7"/>
<circle cx="484.77" cy="299.5" r="1.6" fill="#fff" stroke="#222" stroke-width="0.7"/>
<circle cx="490.7" cy="300" r="1.6" fill="#fff" stroke="#222" stroke-width="0.7"/>
<circle cx="496.63" cy="298.4" r="1.6" fill="#fff" stroke="#222" stroke-width="0.7"/>
<circle cx="502.56" cy="300" r="1.6" fill="#fff" stroke="#222" stroke-width="0.7"/>
<circle cx="508.49" cy="299.5" r="1.6" fill="#fff" stroke="#222" stroke-width="0.7"/>
<circle cx="514.42" cy="299.4" r="1.6" fill="#fff" stroke="#222" stroke-width="0.7"/>
<circle cx="520.35" cy="298.4" r="1.6" fill="#fff" stroke="#222" stroke-width="0.7"/>
<circle cx="526.28" cy="300.5" r="1.6" fill="#fff" stroke="#222" stroke-width="0.7"/>
<circle cx="532.21" cy="299.5" r="1.6" fill="#fff" stroke="#222" stroke-width="0.7"/>
<circle cx="538.14" cy="300" r="1.6" fill="#fff" stroke="#222" stroke-width="0.7"/>
<circle cx="544.07" cy="301" r="1.6" fill="#fff" stroke="#222" stroke-width="0.7"/>
<circle cx="550" cy="300.5" r="1.6" fill="#fff" stroke="#222" stroke-width="0.7"/>
<circle cx="555.93" cy="299.5" r="1.6" fill="#fff" stroke="#222" stroke-width="0.7"/>
<circle cx="561.86" cy="300.5" r="1.6" fill="#fff" stroke="#222" stroke-width="0.7"/>
<circle cx="567.79" cy="300" r="1.6" fill="#fff" stroke="#222" stroke-width="0.7"/>
<circle cx="573.72" cy="299.5" r="1.6" fill="#fff" stroke="#222" stroke-width="0.7"/>
<circle cx="579.65" cy="300" r="1.6" fill="#fff" stroke="#222" stroke-width="0.7"/>
<circle cx="585.58" cy="300.5" r="1.6" fill="#fff" stroke="#222" stroke-width="0.7"/>
<circle cx="591.51" cy="299.5" r="1.6" fill="#fff" stroke="#222" stroke-width="0.7"/>
<circle cx="597.44" cy="300" r="1.6" fill="#fff" stroke="#222" stroke-width="0.7"/>
<circle cx="603.37" cy="299.5" r="1.6" fill="#fff" stroke="#222" stroke-width="0.7"/>
<circle cx="609.3" cy="299.5" r="1.6" fill="#fff" stroke="#222" stroke-width="0.7"/>
<line x1="437.33" y1="298" x2="437.33" y2="295" stroke="#bbb" stroke-width="0.8"/>
<line x1="435.83" y1="295" x2="438.83" y2="295" stroke="#bbb" stroke-width="0.8"/>
<line x1="443.26" y1="297.5" x2="443.26" y2="291" stroke="#bbb" stroke-width="0.8"/>
<line x1="441.76" y1="291" x2="444.76" y2="291" stroke="#bbb" stroke-width="0.8"/>
<line x1="449.19" y1="297.5" x2="449.19" y2="294.8" stroke="#bbb" stroke-width="0.8"/>
<line x1="447.69" y1="294.8" x2="450.69" y2="294.8" stroke="#bbb" stroke-width="0.8"/>
<line x1="455.12" y1="297.5" x2="455.12" y2="294.8" stroke="#bbb" stroke-width="0.8"/>
<line x1="453.62" y1="294.8" x2="456.62" y2="294.8" stroke="#bbb" stroke-width="0.8"/>
<line x1="461.05" y1="297.5" x2="461.05" y2="294.8" stroke="#bbb" stroke-width="0.8"/>
<line x1="459.55" y1="294.8" x2="462.55" y2="294.8" stroke="#bbb" stroke-width="0.8"/>
<line x1="466.98" y1="297" x2="466.98" y2="294.3" stroke="#bbb" stroke-width="0.8"/>
<line x1="465.48" y1="294.3" x2="468.48" y2="294.3" stroke="#bbb" stroke-width="0.8"/>
<line x1="472.91" y1="297" x2="472.91" y2="292" stroke="#bbb" stroke-width="0.8"/>
<line x1="471.41" y1="292" x2="474.41" y2="292" stroke="#bbb" stroke-width="0.8"/>
<line x1="478.84" y1="296.5" x2="478.84" y2="289.1" stroke="#bbb" stroke-width="0.8"/>
<line x1="477.34" y1="289.1" x2="480.34" y2="289.1" stroke="#bbb" stroke-width="0.8"/>
<line x1="484.77" y1="296.5" x2="484.77" y2="290.4" stroke="#bbb" stroke-width="0.8"/>
<line x1="483.27" y1="290.4" x2="486.27" y2="290.4" stroke="#bbb" stroke-width="0.8"/>
<line x1="490.7" y1="297" x2="490.7" y2="293.5" stroke="#bbb" stroke-width="0.8"/>
<line x1="489.2" y1="293.5" x2="492.2" y2="293.5" stroke="#bbb" stroke-width="0.8"/>
<line x1="496.63" y1="296.5" x2="496.63" y2="290.4" stroke="#bbb" stroke-width="0.8"/>
<line x1="495.13" y1="290.4" x2="498.13" y2="290.4" stroke="#bbb" stroke-width="0.8"/>
<line x1="502.56" y1="292" x2="502.56" y2="287" stroke="#bbb" stroke-width="0.8"/>
<line x1="501.06" y1="287" x2="504.06" y2="287" stroke="#bbb" stroke-width="0.8"/>
<line x1="508.49" y1="281.3" x2="508.49" y2="267.5" stroke="#bbb" stroke-width="0.8"/>
<line x1="506.99" y1="267.5" x2="509.99" y2="267.5" stroke="#bbb" stroke-width="0.8"/>
<line x1="514.42" y1="290.4" x2="514.42" y2="286" stroke="#bbb" stroke-width="0.8"/>
<line x1="512.92" y1="286" x2="515.92" y2="286" stroke="#bbb" stroke-width="0.8"/>
<line x1="520.35" y1="286.3" x2="520.35" y2="279.8" stroke="#bbb" stroke-width="0.8"/>
<line x1="518.85" y1="279.8" x2="521.85" y2="279.8" stroke="#bbb" stroke-width="0.8"/>
<line x1="526.28" y1="292.6" x2="526.28" y2="288" stroke="#bbb" stroke-width="0.8"/>
<line x1="524.78" y1="288" x2="527.78" y2="288" stroke="#bbb" stroke-width="0.8"/>
<line x1="532.21" y1="288.2" x2="532.21" y2="284" stroke="#bbb" stroke-width="0.8"/>
<line x1="530.71" y1="284" x2="533.71" y2="284" stroke="#bbb" stroke-width="0.8"/>
<line x1="538.14" y1="286" x2="538.14" y2="282.7" stroke="#bbb" stroke-width="0.8"/>
<line x1="536.64" y1="282.7" x2="539.64" y2="282.7" stroke="#bbb" stroke-width="0.8"/>
<line x1="544.07" y1="286.7" x2="544.07" y2="283.5" stroke="#bbb" stroke-width="0.8"/>
<line x1="542.57" y1="283.5" x2="545.57" y2="283.5" stroke="#bbb" stroke-width="0.8"/>
<line x1="550" y1="290.4" x2="550" y2="286" stroke="#bbb" stroke-width="0.8"/>
<line x1="548.5" y1="286" x2="551.5" y2="286" stroke="#bbb" stroke-width="0.8"/>
<line x1="555.93" y1="289.2" x2="555.93" y2="286" stroke="#bbb" stroke-width="0.8"/>
<line x1="554.43" y1="286" x2="557.43" y2="286" stroke="#bbb" stroke-width="0.8"/>
<line x1="561.86" y1="291.6" x2="561.86" y2="288" stroke="#bbb" stroke-width="0.8"/>
<line x1="560.36" y1="288" x2="563.36" y2="288" stroke="#bbb" stroke-width="0.8"/>
<line x1="567.79" y1="293.6" x2="567.79" y2="289.5" stroke="#bbb" stroke-width="0.8"/>
<line x1="566.29" y1="289.5" x2="569.29" y2="289.5" stroke="#bbb" stroke-width="0.8"/>
<line x1="573.72" y1="294.1" x2="573.72" y2="290" stroke="#bbb" stroke-width="0.8"/>
<line x1="572.22" y1="290" x2="575.22" y2="290" stroke="#bbb" stroke-width="0.8"/>
<line x1="579.65" y1="292.6" x2="579.65" y2="289" stroke="#bbb" stroke-width="0.8"/>
<line x1="578.15" y1="289" x2="581.15" y2="289" stroke="#bbb" stroke-width="0.8"/>
<line x1="585.58" y1="293.6" x2="585.58" y2="290" stroke="#bbb" stroke-width="0.8"/>
<line x1="584.08" y1="290" x2="587.08" y2="290" stroke="#bbb" stroke-width="0.8"/>
<line x1="591.51" y1="288.6" x2="591.51" y2="283" stroke="#bbb" stroke-width="0.8"/>
<line x1="590.01" y1="283" x2="593.01" y2="283" stroke="#bbb" stroke-width="0.8"/>
<line x1="597.44" y1="295.6" x2="597.44" y2="292" stroke="#bbb" stroke-width="0.8"/>
<line x1="595.94" y1="292" x2="598.94" y2="292" stroke="#bbb" stroke-width="0.8"/>
<line x1="603.37" y1="283" x2="603.37" y2="277.9" stroke="#bbb" stroke-width="0.8"/>
<line x1="601.87" y1="277.9" x2="604.87" y2="277.9" stroke="#bbb" stroke-width="0.8"/>
<line x1="609.3" y1="290.4" x2="609.3" y2="285" stroke="#bbb" stroke-width="0.8"/>
<line x1="607.8" y1="285" x2="610.8" y2="285" stroke="#bbb" stroke-width="0.8"/>
<polyline points="431.4,299 437.33,298 443.26,297.5 449.19,297.5 455.12,297.5 461.05,297.5 466.98,297 472.91,297 478.84,296.5 484.77,296.5 490.7,297 496.63,296.5 502.56,292 508.49,281.3 514.42,290.4 520.35,286.3 526.28,292.6 532.21,288.2 538.14,286 544.07,286.7 550,290.4 555.93,289.2 561.86,291.6 567.79,293.6 573.72,294.1 579.65,292.6 585.58,293.6 591.51,288.6 597.44,295.6 603.37,283 609.3,290.4" fill="none" stroke="#bbb" stroke-width="0.9" stroke-linejoin="round"/>
<circle cx="431.4" cy="299" r="1.5" fill="#bbb"/>
<circle cx="437.33" cy="298" r="1.5" fill="#bbb"/>
<circle cx="443.26" cy="297.5" r="1.5" fill="#bbb"/>
<circle cx="449.19" cy="297.5" r="1.5" fill="#bbb"/>
<circle cx="455.12" cy="297.5" r="1.5" fill="#bbb"/>
<circle cx="461.05" cy="297.5" r="1.5" fill="#bbb"/>
<circle cx="466.98" cy="297" r="1.5" fill="#bbb"/>
<circle cx="472.91" cy="297" r="1.5" fill="#bbb"/>
<circle cx="478.84" cy="296.5" r="1.5" fill="#bbb"/>
<circle cx="484.77" cy="296.5" r="1.5" fill="#bbb"/>
<circle cx="490.7" cy="297" r="1.5" fill="#bbb"/>
<circle cx="496.63" cy="296.5" r="1.5" fill="#bbb"/>
<circle cx="502.56" cy="292" r="1.5" fill="#bbb"/>
<circle cx="508.49" cy="281.3" r="1.5" fill="#bbb"/>
<circle cx="514.42" cy="290.4" r="1.5" fill="#bbb"/>
<circle cx="520.35" cy="286.3" r="1.5" fill="#bbb"/>
<circle cx="526.28" cy="292.6" r="1.5" fill="#bbb"/>
<circle cx="532.21" cy="288.2" r="1.5" fill="#bbb"/>
<circle cx="538.14" cy="286" r="1.5" fill="#bbb"/>
<circle cx="544.07" cy="286.7" r="1.5" fill="#bbb"/>
<circle cx="550" cy="290.4" r="1.5" fill="#bbb"/>
<circle cx="555.93" cy="289.2" r="1.5" fill="#bbb"/>
<circle cx="561.86" cy="291.6" r="1.5" fill="#bbb"/>
<circle cx="567.79" cy="293.6" r="1.5" fill="#bbb"/>
<circle cx="573.72" cy="294.1" r="1.5" fill="#bbb"/>
<circle cx="579.65" cy="292.6" r="1.5" fill="#bbb"/>
<circle cx="585.58" cy="293.6" r="1.5" fill="#bbb"/>
<circle cx="591.51" cy="288.6" r="1.5" fill="#bbb"/>
<circle cx="597.44" cy="295.6" r="1.5" fill="#bbb"/>
<circle cx="603.37" cy="283" r="1.5" fill="#bbb"/>
<circle cx="609.3" cy="290.4" r="1.5" fill="#bbb"/>
<line x1="437.33" y1="297.7" x2="437.33" y2="295" stroke="#111" stroke-width="0.9"/>
<line x1="435.73" y1="295" x2="438.93" y2="295" stroke="#111" stroke-width="0.9"/>
<line x1="443.26" y1="293.3" x2="443.26" y2="290.1" stroke="#111" stroke-width="0.9"/>
<line x1="441.66" y1="290.1" x2="444.86" y2="290.1" stroke="#111" stroke-width="0.9"/>
<line x1="449.19" y1="285.4" x2="449.19" y2="282" stroke="#111" stroke-width="0.9"/>
<line x1="447.59" y1="282" x2="450.79" y2="282" stroke="#111" stroke-width="0.9"/>
<line x1="455.12" y1="283.1" x2="455.12" y2="279.9" stroke="#111" stroke-width="0.9"/>
<line x1="453.52" y1="279.9" x2="456.72" y2="279.9" stroke="#111" stroke-width="0.9"/>
<line x1="461.05" y1="294.5" x2="461.05" y2="291.5" stroke="#111" stroke-width="0.9"/>
<line x1="459.45" y1="291.5" x2="462.65" y2="291.5" stroke="#111" stroke-width="0.9"/>
<line x1="466.98" y1="290.8" x2="466.98" y2="288.9" stroke="#111" stroke-width="0.9"/>
<line x1="465.38" y1="288.9" x2="468.58" y2="288.9" stroke="#111" stroke-width="0.9"/>
<line x1="472.91" y1="291.3" x2="472.91" y2="285.7" stroke="#111" stroke-width="0.9"/>
<line x1="471.31" y1="285.7" x2="474.51" y2="285.7" stroke="#111" stroke-width="0.9"/>
<line x1="478.84" y1="275.5" x2="478.84" y2="262.3" stroke="#111" stroke-width="0.9"/>
<line x1="477.24" y1="262.3" x2="480.44" y2="262.3" stroke="#111" stroke-width="0.9"/>
<line x1="490.7" y1="284.5" x2="490.7" y2="278.4" stroke="#111" stroke-width="0.9"/>
<line x1="489.1" y1="278.4" x2="492.3" y2="278.4" stroke="#111" stroke-width="0.9"/>
<line x1="496.63" y1="287.4" x2="496.63" y2="283.5" stroke="#111" stroke-width="0.9"/>
<line x1="495.03" y1="283.5" x2="498.23" y2="283.5" stroke="#111" stroke-width="0.9"/>
<line x1="502.56" y1="281.3" x2="502.56" y2="276.3" stroke="#111" stroke-width="0.9"/>
<line x1="500.96" y1="276.3" x2="504.16" y2="276.3" stroke="#111" stroke-width="0.9"/>
<line x1="514.42" y1="278.1" x2="514.42" y2="273.9" stroke="#111" stroke-width="0.9"/>
<line x1="512.82" y1="273.9" x2="516.02" y2="273.9" stroke="#111" stroke-width="0.9"/>
<line x1="520.35" y1="273.5" x2="520.35" y2="260.5" stroke="#111" stroke-width="0.9"/>
<line x1="518.75" y1="260.5" x2="521.95" y2="260.5" stroke="#111" stroke-width="0.9"/>
<line x1="532.21" y1="269.2" x2="532.21" y2="257.1" stroke="#111" stroke-width="0.9"/>
<line x1="530.61" y1="257.1" x2="533.81" y2="257.1" stroke="#111" stroke-width="0.9"/>
<line x1="538.14" y1="273.5" x2="538.14" y2="267.5" stroke="#111" stroke-width="0.9"/>
<line x1="536.54" y1="267.5" x2="539.74" y2="267.5" stroke="#111" stroke-width="0.9"/>
<line x1="544.07" y1="279.1" x2="544.07" y2="266.4" stroke="#111" stroke-width="0.9"/>
<line x1="542.47" y1="266.4" x2="545.67" y2="266.4" stroke="#111" stroke-width="0.9"/>
<line x1="550" y1="291.2" x2="550" y2="284.7" stroke="#111" stroke-width="0.9"/>
<line x1="548.4" y1="284.7" x2="551.6" y2="284.7" stroke="#111" stroke-width="0.9"/>
<line x1="555.93" y1="269.4" x2="555.93" y2="263.6" stroke="#111" stroke-width="0.9"/>
<line x1="554.33" y1="263.6" x2="557.53" y2="263.6" stroke="#111" stroke-width="0.9"/>
<line x1="561.86" y1="275.3" x2="561.86" y2="270.7" stroke="#111" stroke-width="0.9"/>
<line x1="560.26" y1="270.7" x2="563.46" y2="270.7" stroke="#111" stroke-width="0.9"/>
<line x1="567.79" y1="261" x2="567.79" y2="249.3" stroke="#111" stroke-width="0.9"/>
<line x1="566.19" y1="249.3" x2="569.39" y2="249.3" stroke="#111" stroke-width="0.9"/>
<line x1="573.72" y1="282.4" x2="573.72" y2="277.3" stroke="#111" stroke-width="0.9"/>
<line x1="572.12" y1="277.3" x2="575.32" y2="277.3" stroke="#111" stroke-width="0.9"/>
<line x1="579.65" y1="273.5" x2="579.65" y2="268.3" stroke="#111" stroke-width="0.9"/>
<line x1="578.05" y1="268.3" x2="581.25" y2="268.3" stroke="#111" stroke-width="0.9"/>
<line x1="591.51" y1="277.3" x2="591.51" y2="268" stroke="#111" stroke-width="0.9"/>
<line x1="589.91" y1="268" x2="593.11" y2="268" stroke="#111" stroke-width="0.9"/>
<line x1="597.44" y1="289.4" x2="597.44" y2="283.8" stroke="#111" stroke-width="0.9"/>
<line x1="595.84" y1="283.8" x2="599.04" y2="283.8" stroke="#111" stroke-width="0.9"/>
<line x1="603.37" y1="271.3" x2="603.37" y2="265.2" stroke="#111" stroke-width="0.9"/>
<line x1="601.77" y1="265.2" x2="604.97" y2="265.2" stroke="#111" stroke-width="0.9"/>
<line x1="609.3" y1="283.8" x2="609.3" y2="275.4" stroke="#111" stroke-width="0.9"/>
<line x1="607.7" y1="275.4" x2="610.9" y2="275.4" stroke="#111" stroke-width="0.9"/>
<polyline points="431.4,298.9 437.33,297.7 443.26,293.3 449.19,285.4 455.12,283.1 461.05,294.5 466.98,290.8 472.91,291.3 478.84,275.5 484.77,295.2 490.7,284.5 496.63,287.4 502.56,281.3 508.49,295.8 514.42,278.1 520.35,273.5 526.28,294.9 532.21,269.2 538.14,273.5 544.07,279.1 550,291.2 555.93,269.4 561.86,275.3 567.79,261 573.72,282.4 579.65,273.5 585.58,289.9 591.51,277.3 597.44,289.4 603.37,271.3 609.3,283.8" fill="none" stroke="#111" stroke-width="1" stroke-linejoin="round"/>
<circle cx="431.4" cy="298.9" r="1.7" fill="#111"/>
<circle cx="437.33" cy="297.7" r="1.7" fill="#111"/>
<circle cx="443.26" cy="293.3" r="1.7" fill="#111"/>
<circle cx="449.19" cy="285.4" r="1.7" fill="#111"/>
<circle cx="455.12" cy="283.1" r="1.7" fill="#111"/>
<circle cx="461.05" cy="294.5" r="1.7" fill="#111"/>
<circle cx="466.98" cy="290.8" r="1.7" fill="#111"/>
<circle cx="472.91" cy="291.3" r="1.7" fill="#111"/>
<circle cx="478.84" cy="275.5" r="1.7" fill="#111"/>
<circle cx="484.77" cy="295.2" r="1.7" fill="#111"/>
<circle cx="490.7" cy="284.5" r="1.7" fill="#111"/>
<circle cx="496.63" cy="287.4" r="1.7" fill="#111"/>
<circle cx="502.56" cy="281.3" r="1.7" fill="#111"/>
<circle cx="508.49" cy="295.8" r="1.7" fill="#111"/>
<circle cx="514.42" cy="278.1" r="1.7" fill="#111"/>
<circle cx="520.35" cy="273.5" r="1.7" fill="#111"/>
<circle cx="526.28" cy="294.9" r="1.7" fill="#111"/>
<circle cx="532.21" cy="269.2" r="1.7" fill="#111"/>
<circle cx="538.14" cy="273.5" r="1.7" fill="#111"/>
<circle cx="544.07" cy="279.1" r="1.7" fill="#111"/>
<circle cx="550" cy="291.2" r="1.7" fill="#111"/>
<circle cx="555.93" cy="269.4" r="1.7" fill="#111"/>
<circle cx="561.86" cy="275.3" r="1.7" fill="#111"/>
<circle cx="567.79" cy="261" r="1.7" fill="#111"/>
<circle cx="573.72" cy="282.4" r="1.7" fill="#111"/>
<circle cx="579.65" cy="273.5" r="1.7" fill="#111"/>
<circle cx="585.58" cy="289.9" r="1.7" fill="#111"/>
<circle cx="591.51" cy="277.3" r="1.7" fill="#111"/>
<circle cx="597.44" cy="289.4" r="1.7" fill="#111"/>
<circle cx="603.37" cy="271.3" r="1.7" fill="#111"/>
<circle cx="609.3" cy="283.8" r="1.7" fill="#111"/>
<line x1="434.1" y1="223.6" x2="439.2" y2="223.6" stroke="#aaa" stroke-width="0.9"/>
<line x1="442" y1="223.6" x2="444.6" y2="223.6" stroke="#aaa" stroke-width="0.9"/>
<circle cx="439.2" cy="223.6" r="1.4" fill="#fff" stroke="#aaa" stroke-width="0.8"/>
<text transform="translate(449.2 223.6) scale(0.9091 1)" font-size="7.87" text-anchor="start" font-family="'Liberation Sans', sans-serif" fill="#222" dy="0.35em">MC4R KO Veh</text>
<line x1="434.1" y1="235.5" x2="439.2" y2="235.5" stroke="#222" stroke-width="0.9"/>
<line x1="442" y1="235.5" x2="444.6" y2="235.5" stroke="#222" stroke-width="0.9"/>
<circle cx="439.2" cy="235.5" r="1.4" fill="#fff" stroke="#222" stroke-width="0.8"/>
<text transform="translate(449.2 235.5) scale(0.9091 1)" font-size="7.87" text-anchor="start" font-family="'Liberation Sans', sans-serif" fill="#222" dy="0.35em">DIO Veh</text>
<line x1="434.1" y1="248.8" x2="444.6" y2="248.8" stroke="#111" stroke-width="1.62"/>
<circle cx="439.2" cy="248.8" r="1.82" fill="#111"/>
<text transform="translate(449.2 248.8) scale(0.9091 1)" font-size="7.87" text-anchor="start" font-family="'Liberation Sans', sans-serif" fill="#222" dy="0.35em">DIO AMPH</text>
<line x1="434.1" y1="261.9" x2="444.6" y2="261.9" stroke="#bbb" stroke-width="0.9"/>
<circle cx="439.2" cy="261.9" r="1.4" fill="#bbb"/>
<text transform="translate(449.2 261.9) scale(0.9091 1)" font-size="7.87" text-anchor="start" font-family="'Liberation Sans', sans-serif" fill="#222" dy="0.35em">MC4R KO AMPH</text>
<line x1="502" y1="218.8" x2="502" y2="258.7" stroke="#444" stroke-width="1.3"/>
<text x="506" y="243.26" font-size="11.88" font-weight="bold" text-anchor="middle" font-family="'Liberation Sans', sans-serif" fill="#111">*</text>
<line x1="509" y1="247" x2="509" y2="262.3" stroke="#444" stroke-width="1.3"/>
<text x="512.7" y="259.06" font-size="11.88" font-weight="bold" text-anchor="middle" font-family="'Liberation Sans', sans-serif" fill="#111">*</text>
<line x1="516.5" y1="232.3" x2="516.5" y2="248" stroke="#222" stroke-width="1.2"/>
<text x="520.6" y="247.06" font-size="11.88" font-weight="bold" text-anchor="middle" font-family="'Liberation Sans', sans-serif" fill="#111">*</text>
<text transform="translate(633.5 227) scale(0.9259 1)" font-size="14.69" text-anchor="start" font-family="'Liberation Sans', sans-serif" font-weight="bold" fill="#111" dy="0">F</text>
<line x1="660.5" y1="243.8" x2="660.5" y2="328.4" stroke="#222" stroke-width="0.9"/>
<line x1="657.1" y1="328.4" x2="660.5" y2="328.4" stroke="#111" stroke-width="1.1"/>
<text transform="translate(656.3 328.4) scale(0.9091 1)" font-size="6.93" text-anchor="end" font-family="'Liberation Sans', sans-serif" fill="#222" dy="0.35em">-8</text>
<line x1="657.1" y1="317.83" x2="660.5" y2="317.83" stroke="#111" stroke-width="1.1"/>
<text transform="translate(656.3 317.83) scale(0.9091 1)" font-size="6.93" text-anchor="end" font-family="'Liberation Sans', sans-serif" fill="#222" dy="0.35em">-6</text>
<line x1="657.1" y1="307.25" x2="660.5" y2="307.25" stroke="#111" stroke-width="1.1"/>
<text transform="translate(656.3 307.25) scale(0.9091 1)" font-size="6.93" text-anchor="end" font-family="'Liberation Sans', sans-serif" fill="#222" dy="0.35em">-4</text>
<line x1="657.1" y1="296.68" x2="660.5" y2="296.68" stroke="#111" stroke-width="1.1"/>
<text transform="translate(656.3 296.68) scale(0.9091 1)" font-size="6.93" text-anchor="end" font-family="'Liberation Sans', sans-serif" fill="#222" dy="0.35em">-2</text>
<line x1="657.1" y1="286.1" x2="660.5" y2="286.1" stroke="#111" stroke-width="1.1"/>
<text transform="translate(656.3 286.1) scale(0.9091 1)" font-size="6.93" text-anchor="end" font-family="'Liberation Sans', sans-serif" fill="#222" dy="0.35em">0</text>
<line x1="657.1" y1="275.53" x2="660.5" y2="275.53" stroke="#111" stroke-width="1.1"/>
<text transform="translate(656.3 275.53) scale(0.9091 1)" font-size="6.93" text-anchor="end" font-family="'Liberation Sans', sans-serif" fill="#222" dy="0.35em">2</text>
<line x1="657.1" y1="264.95" x2="660.5" y2="264.95" stroke="#111" stroke-width="1.1"/>
<text transform="translate(656.3 264.95) scale(0.9091 1)" font-size="6.93" text-anchor="end" font-family="'Liberation Sans', sans-serif" fill="#222" dy="0.35em">4</text>
<line x1="657.1" y1="254.38" x2="660.5" y2="254.38" stroke="#111" stroke-width="1.1"/>
<text transform="translate(656.3 254.38) scale(0.9091 1)" font-size="6.93" text-anchor="end" font-family="'Liberation Sans', sans-serif" fill="#222" dy="0.35em">6</text>
<line x1="657.1" y1="243.8" x2="660.5" y2="243.8" stroke="#111" stroke-width="1.1"/>
<text transform="translate(656.3 243.8) scale(0.9091 1)" font-size="6.93" text-anchor="end" font-family="'Liberation Sans', sans-serif" fill="#222" dy="0.35em">8</text>
<line x1="660.5" y1="328.4" x2="745.5" y2="328.4" stroke="#222" stroke-width="0.9"/>
<line x1="673.3" y1="328.4" x2="673.3" y2="331.4" stroke="#222" stroke-width="0.9"/>
<line x1="693.1" y1="328.4" x2="693.1" y2="331.4" stroke="#222" stroke-width="0.9"/>
<line x1="712.7" y1="328.4" x2="712.7" y2="331.4" stroke="#222" stroke-width="0.9"/>
<line x1="732.4" y1="328.4" x2="732.4" y2="331.4" stroke="#222" stroke-width="0.9"/>
<line x1="660.5" y1="286.1" x2="746" y2="286.1" stroke="#6a6a6a" stroke-width="1.5"/>
<text transform="translate(636 286.5) rotate(-90) scale(0.8333 1)" font-size="8.16" text-anchor="middle" font-family="'Liberation Serif', serif" fill="#222" dy="0.35em">Average change in locomotor</text>
<text transform="translate(644.3 285.7) rotate(-90) scale(0.8333 1)" font-size="7.8" text-anchor="middle" font-family="'Liberation Serif', serif" fill="#222" dy="0.35em">activity (arbitrary units)</text>
<text transform="translate(674.6 338.3) rotate(-45) scale(0.9091 1)" font-size="7.15" text-anchor="end" font-family="'Liberation Sans', sans-serif" fill="#222" dy="0">DIO veh</text>
<text transform="translate(694.4 338.3) rotate(-45) scale(0.9091 1)" font-size="7.15" text-anchor="end" font-family="'Liberation Sans', sans-serif" fill="#222" dy="0">DIO AMPH</text>
<text transform="translate(714 338.3) rotate(-45) scale(0.9091 1)" font-size="7.15" text-anchor="end" font-family="'Liberation Sans', sans-serif" fill="#222" dy="0">MC4R KO Veh</text>
<text transform="translate(733.7 338.3) rotate(-45) scale(0.9091 1)" font-size="7.15" text-anchor="end" font-family="'Liberation Sans', sans-serif" fill="#222" dy="0">MC4R KO AMPH</text>
<line x1="670" y1="285.3" x2="677" y2="285.3" stroke="#222" stroke-width="0.9"/>
<circle cx="668.3" cy="286.8" r="1.75" fill="#fff" stroke="#222" stroke-width="0.9"/>
<circle cx="673.4" cy="276.7" r="1.75" fill="#fff" stroke="#222" stroke-width="0.9"/>
<circle cx="673.4" cy="281.6" r="1.75" fill="#fff" stroke="#222" stroke-width="0.9"/>
<circle cx="668.5" cy="292.6" r="1.75" fill="#fff" stroke="#222" stroke-width="0.9"/>
<circle cx="678.3" cy="289.8" r="1.75" fill="#fff" stroke="#222" stroke-width="0.9"/>
<rect x="686.8" y="272.1" width="12.8" height="14" fill="#fff" stroke="#111" stroke-width="1.4"/>
<line x1="693.1" y1="272.1" x2="693.1" y2="268.5" stroke="#111" stroke-width="0.9"/>
<line x1="690.9" y1="268.5" x2="695.3" y2="268.5" stroke="#111" stroke-width="0.9"/>
<circle cx="693.1" cy="255.2" r="1.4" fill="#111"/>
<circle cx="693.1" cy="269.4" r="1.4" fill="#111"/>
<circle cx="688.5" cy="278.5" r="1.4" fill="#111"/>
<circle cx="693.3" cy="276.8" r="1.4" fill="#111"/>
<circle cx="697.7" cy="277.6" r="1.4" fill="#111"/>
<circle cx="697.7" cy="274" r="1.4" fill="#111"/>
<line x1="707" y1="287.5" x2="719" y2="287.5" stroke="#999" stroke-width="1"/>
<circle cx="712.8" cy="275.5" r="1.75" fill="#fff" stroke="#a8a8a8" stroke-width="0.85"/>
<circle cx="708.5" cy="281.3" r="1.75" fill="#fff" stroke="#a8a8a8" stroke-width="0.85"/>
<circle cx="717.5" cy="283" r="1.75" fill="#fff" stroke="#a8a8a8" stroke-width="0.85"/>
<circle cx="708.5" cy="286.6" r="1.75" fill="#fff" stroke="#a8a8a8" stroke-width="0.85"/>
<circle cx="712.8" cy="284.5" r="1.75" fill="#fff" stroke="#a8a8a8" stroke-width="0.85"/>
<circle cx="717.5" cy="286.6" r="1.75" fill="#fff" stroke="#a8a8a8" stroke-width="0.85"/>
<circle cx="708" cy="289.8" r="1.75" fill="#fff" stroke="#a8a8a8" stroke-width="0.85"/>
<circle cx="717.5" cy="290.9" r="1.75" fill="#fff" stroke="#a8a8a8" stroke-width="0.85"/>
<circle cx="711" cy="291.9" r="1.75" fill="#fff" stroke="#a8a8a8" stroke-width="0.85"/>
<circle cx="714.3" cy="293.4" r="1.75" fill="#fff" stroke="#a8a8a8" stroke-width="0.85"/>
<circle cx="712.8" cy="312.8" r="1.75" fill="#fff" stroke="#a8a8a8" stroke-width="0.85"/>
<circle cx="714" cy="287" r="1.75" fill="#fff" stroke="#a8a8a8" stroke-width="0.85"/>
<rect x="726.2" y="280.6" width="12.3" height="5.5" fill="#fff" stroke="#b4b4b4" stroke-width="1.3"/>
<circle cx="733.7" cy="276.8" r="1.5" fill="#aaa"/>
<circle cx="728.6" cy="279.9" r="1.5" fill="#aaa"/>
<circle cx="731" cy="279.5" r="1.5" fill="#aaa"/>
<circle cx="735" cy="281.5" r="1.5" fill="#aaa"/>
<circle cx="737.3" cy="282.4" r="1.5" fill="#aaa"/>
<circle cx="728.5" cy="282.8" r="1.5" fill="#aaa"/>
<circle cx="732.5" cy="283" r="1.5" fill="#aaa"/>
<line x1="667.6" y1="234.2" x2="690.2" y2="233.6" stroke="#222" stroke-width="1.1"/>
<text x="678.2" y="228.63" font-size="10.25" font-weight="bold" text-anchor="middle" font-family="'Liberation Sans', sans-serif" fill="#111">*</text>
<line x1="692.4" y1="233.7" x2="736.7" y2="233.7" stroke="#222" stroke-width="1.1"/>
<text x="717.5" y="228.63" font-size="10.25" font-weight="bold" text-anchor="middle" font-family="'Liberation Sans', sans-serif" fill="#111">*</text>
<line x1="693.1" y1="246.4" x2="706.2" y2="246.4" stroke="#222" stroke-width="1.1"/>
<text x="697.7" y="246.13" font-size="10.25" font-weight="bold" text-anchor="middle" font-family="'Liberation Sans', sans-serif" fill="#111">*</text>
<text x="702.3" y="246.13" font-size="10.25" font-weight="bold" text-anchor="middle" font-family="'Liberation Sans', sans-serif" fill="#111">*</text>
<line x1="711" y1="247" x2="734" y2="247" stroke="#222" stroke-width="1.1"/>
<text transform="translate(722.5 240.8) scale(0.9091 1)" font-size="7.59" text-anchor="middle" font-family="'Liberation Sans', sans-serif" fill="#222" dy="0.35em">p=0.09</text>
</svg>
</body></html>
